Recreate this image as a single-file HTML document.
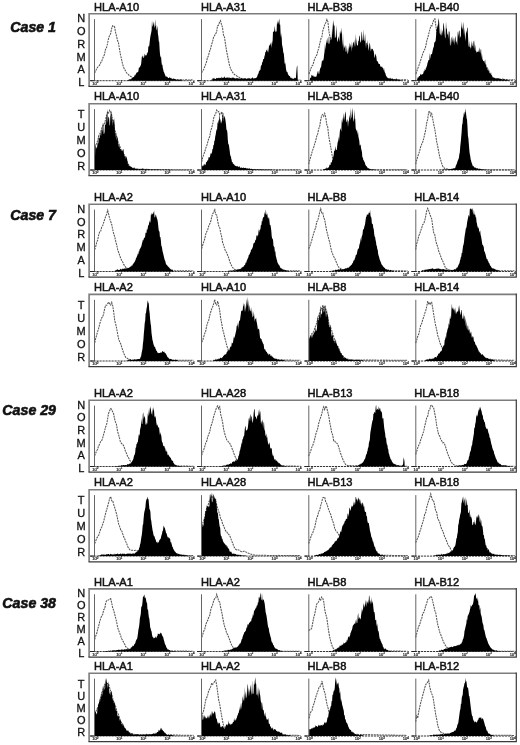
<!DOCTYPE html><html><head><meta charset="utf-8"><style>html,body{margin:0;padding:0;background:#fff;}svg{display:block;filter:grayscale(1);}</style></head><body>
<svg width="520" height="745" viewBox="0 0 520 745" font-family="&quot;Liberation Sans&quot;, sans-serif">
<rect width="520" height="745" fill="#fff"/>
<text x="56" y="31.5" text-anchor="end" font-size="14.2" font-weight="bold" font-style="italic" fill="#111" stroke="#111" stroke-width="0.6">Case 1</text>
<text x="56" y="219.6" text-anchor="end" font-size="14.2" font-weight="bold" font-style="italic" fill="#111" stroke="#111" stroke-width="0.6">Case 7</text>
<text x="56" y="415" text-anchor="end" font-size="14.2" font-weight="bold" font-style="italic" fill="#111" stroke="#111" stroke-width="0.6">Case 29</text>
<text x="56" y="608" text-anchor="end" font-size="14.2" font-weight="bold" font-style="italic" fill="#111" stroke="#111" stroke-width="0.6">Case 38</text>
<path d="M89.1,86.4V13.7H516.3" fill="none" stroke="#7c7c7c" stroke-width="1.6"/>
<path d="M88.5,86.4H516.3V12.9" fill="none" stroke="#3a3a3a" stroke-width="1.2"/>
<text x="81.2" y="22.1" text-anchor="middle" font-size="11" fill="#111" stroke="#111" stroke-width="0.3">N</text>
<text x="81.2" y="34.9" text-anchor="middle" font-size="11" fill="#111" stroke="#111" stroke-width="0.3">O</text>
<text x="81.2" y="47.7" text-anchor="middle" font-size="11" fill="#111" stroke="#111" stroke-width="0.3">R</text>
<text x="81.2" y="60.5" text-anchor="middle" font-size="11" fill="#111" stroke="#111" stroke-width="0.3">M</text>
<text x="81.2" y="73.3" text-anchor="middle" font-size="11" fill="#111" stroke="#111" stroke-width="0.3">A</text>
<text x="81.2" y="86.1" text-anchor="middle" font-size="11" fill="#111" stroke="#111" stroke-width="0.3">L</text>
<text x="94.1" y="10.6" font-size="11.1" fill="#111" stroke="#111" stroke-width="0.5">HLA-A10</text>
<line x1="90.5" y1="80.7" x2="191.5" y2="80.7" stroke="#222" stroke-width="0.9" stroke-dasharray="2.2,0.8"/>
<path d="M94.5,73.0L95.5,71.5L96.5,68.9L97.5,67.5L98.5,66.2L99.5,65.4L100.5,63.0L101.5,61.7L102.5,58.9L103.5,56.4L104.5,54.6L105.5,49.2L106.5,47.8L107.5,43.7L108.5,38.8L109.5,35.4L110.5,34.1L111.5,29.1L112.5,25.9L113.5,26.5L114.5,26.4L115.5,32.0L116.5,36.1L117.5,40.3L118.5,43.0L119.5,49.3L120.5,55.0L121.5,59.0L122.5,63.9L123.5,67.0L124.5,69.4L125.5,70.8L126.5,72.8L127.5,73.7L128.5,74.6L129.5,75.7L130.5,76.2L131.5,76.9L132.5,77.5L133.5,78.1L134.5,78.5L135.5,78.7L136.5,79.1L137.5,79.3L138.5,79.5L139.5,79.6L140.5,79.8L141.5,79.8L142.5,79.9L143.5,79.9L144.5,79.8L145.5,79.9L146.5,79.9L147.5,79.9L148.5,79.8L149.5,79.9L150.5,79.9L151.5,79.9L152.5,79.9L153.5,79.9L154.5,79.8L155.5,79.8L156.5,79.8L157.5,79.9L158.5,79.9L159.5,79.8L160.5,79.9L161.5,79.8L162.5,79.8L163.5,79.9L164.5,79.9L165.5,79.9L166.5,79.8L167.5,79.9L168.5,79.8L169.5,79.8L170.5,79.9L171.5,79.9L172.5,79.8L173.5,79.8L174.5,79.8L175.5,79.9L176.5,79.9L177.5,79.8L178.5,79.9L179.5,79.9L180.5,79.9L181.5,79.8L182.5,79.9L183.5,79.9L184.5,79.9L185.5,79.8L186.5,79.8L187.5,79.9L188.5,79.9L189.5,79.9L190.5,79.8L191.5,79.8L192.5,79.9L193.5,79.8" fill="none" stroke="#555" stroke-width="1.05" stroke-dasharray="2,0.8"/>
<path d="M127.7,80.7L127.7,79.9L128.2,79.9L128.6,79.8L129.1,79.5L129.5,79.4L130.0,78.9L130.4,79.4L130.9,79.0L131.3,79.2L131.8,77.8L132.2,78.1L132.7,78.1L133.1,76.9L133.6,77.2L134.0,76.7L134.5,76.1L134.9,74.5L135.4,75.6L135.8,74.0L136.3,73.3L136.7,72.5L137.2,72.4L137.6,72.1L138.1,72.3L138.5,70.2L139.0,67.0L139.4,67.3L139.9,68.0L140.3,65.8L140.8,65.5L141.2,63.4L141.7,58.3L142.1,55.1L142.6,57.6L143.0,55.5L143.5,58.0L143.9,58.1L144.4,55.6L144.8,53.4L145.3,55.6L145.7,55.6L146.2,54.9L146.6,55.8L147.1,51.7L147.5,53.7L148.0,51.7L148.4,45.6L148.9,47.0L149.3,45.5L149.8,40.9L150.2,37.4L150.7,34.7L151.1,33.1L151.6,30.2L152.0,20.3L152.5,26.6L152.9,26.3L153.4,21.3L153.8,23.9L154.3,28.3L154.7,25.6L155.2,19.3L155.6,26.5L156.1,24.9L156.5,30.5L157.0,28.7L157.4,25.6L157.9,34.0L158.3,35.8L158.8,41.4L159.2,41.8L159.7,50.4L160.1,55.0L160.6,57.7L161.0,56.1L161.5,62.1L161.9,65.1L162.4,64.4L162.8,68.0L163.3,69.9L163.7,71.7L164.2,72.6L164.6,73.8L165.1,75.0L165.5,76.1L166.0,77.0L166.4,76.0L166.9,77.1L167.3,76.8L167.8,77.5L168.2,78.1L168.7,78.0L169.1,77.9L169.6,76.7L170.0,78.0L170.5,78.3L170.9,77.5L171.4,77.9L171.8,79.0L172.3,79.2L172.7,78.7L173.2,78.5L173.6,78.4L174.1,78.9L174.5,78.8L175.0,79.0L175.4,79.4L175.9,79.0L176.3,79.8L176.8,79.8L177.2,79.8L177.7,79.2L178.1,79.8L178.6,79.5L179.0,80.0L179.5,79.3L179.9,80.2L180.4,79.4L180.8,79.5L181.3,78.9L181.7,80.4L181.8,80.7Z" fill="#000"/>
<line x1="94.5" y1="19.1" x2="94.5" y2="80.7" stroke="#666" stroke-width="1"/>
<line x1="90.0" y1="80.7" x2="94.5" y2="80.7" stroke="#222" stroke-width="1"/>
<text x="95.3" y="84.8" text-anchor="middle" font-size="4" fill="#222" stroke="#222" stroke-width="0.2">10<tspan dy="-1.4" font-size="2.8">0</tspan></text>
<text x="119.3" y="84.8" text-anchor="middle" font-size="4" fill="#222" stroke="#222" stroke-width="0.2">10<tspan dy="-1.4" font-size="2.8">1</tspan></text>
<text x="143.4" y="84.8" text-anchor="middle" font-size="4" fill="#222" stroke="#222" stroke-width="0.2">10<tspan dy="-1.4" font-size="2.8">2</tspan></text>
<text x="167.4" y="84.8" text-anchor="middle" font-size="4" fill="#222" stroke="#222" stroke-width="0.2">10<tspan dy="-1.4" font-size="2.8">3</tspan></text>
<text x="191.5" y="84.8" text-anchor="middle" font-size="4" fill="#222" stroke="#222" stroke-width="0.2">10<tspan dy="-1.4" font-size="2.8">4</tspan></text>
<text x="201.1" y="10.6" font-size="11.1" fill="#111" stroke="#111" stroke-width="0.5">HLA-A31</text>
<line x1="197.5" y1="80.7" x2="298.5" y2="80.7" stroke="#222" stroke-width="0.9" stroke-dasharray="2.2,0.8"/>
<path d="M201.5,73.0L202.5,71.1L203.5,69.7L204.5,67.3L205.5,64.7L206.5,61.8L207.5,57.5L208.5,55.7L209.5,51.6L210.5,49.1L211.5,44.8L212.5,41.9L213.5,37.4L214.5,36.1L215.5,33.3L216.5,32.8L217.5,26.0L218.5,25.1L219.5,22.3L220.5,20.7L221.5,24.7L222.5,27.4L223.5,35.1L224.5,37.2L225.5,44.2L226.5,50.5L227.5,55.5L228.5,60.6L229.5,65.4L230.5,68.3L231.5,70.7L232.5,72.1L233.5,73.7L234.5,74.5L235.5,75.4L236.5,75.8L237.5,76.6L238.5,76.9L239.5,77.5L240.5,78.0L241.5,78.5L242.5,78.8L243.5,78.9L244.5,79.2L245.5,79.3L246.5,79.5L247.5,79.7L248.5,79.9L249.5,79.9L250.5,79.9L251.5,79.9L252.5,79.9L253.5,79.8L254.5,79.9L255.5,79.9L256.5,79.8L257.5,79.9L258.5,79.9L259.5,79.8L260.5,79.8L261.5,79.9L262.5,79.9L263.5,79.8L264.5,79.8L265.5,79.9L266.5,79.9L267.5,79.9L268.5,79.9L269.5,79.8L270.5,79.9L271.5,79.9L272.5,79.8L273.5,79.8L274.5,79.8L275.5,79.8L276.5,79.9L277.5,79.8L278.5,79.8L279.5,79.9L280.5,79.9L281.5,79.9L282.5,79.9L283.5,79.9L284.5,79.9L285.5,79.8L286.5,79.9L287.5,79.9L288.5,79.8L289.5,79.8L290.5,79.8L291.5,79.9L292.5,79.8L293.5,79.9L294.5,79.9L295.5,79.8L296.5,79.9L297.5,79.9L298.5,79.9L299.5,79.9L300.5,79.9" fill="none" stroke="#555" stroke-width="1.05" stroke-dasharray="2,0.8"/>
<path d="M211.3,80.7L211.3,79.5L211.8,79.7L212.2,79.7L212.7,78.2L213.1,77.9L213.6,78.9L214.0,77.4L214.5,79.1L214.9,78.5L215.4,78.9L215.8,79.0L216.3,78.2L216.7,77.7L217.2,78.2L217.6,78.1L218.1,78.3L218.5,77.6L219.0,78.5L219.4,78.0L219.9,77.8L220.3,78.1L220.8,77.7L221.2,78.4L221.7,76.4L222.1,78.0L222.6,77.6L223.0,77.9L223.5,77.7L223.9,77.2L224.4,76.3L224.8,77.4L225.3,78.1L225.7,77.8L226.2,77.7L226.6,77.4L227.1,78.0L227.5,77.6L228.0,77.0L228.4,77.4L228.9,78.4L229.3,77.0L229.8,78.2L230.2,78.0L230.7,77.7L231.1,78.3L231.6,78.2L232.0,76.9L232.5,78.2L232.9,77.3L233.4,77.9L233.8,77.5L234.3,78.1L234.7,78.3L235.2,78.7L235.6,78.2L236.1,77.9L236.5,78.6L237.0,77.8L237.4,78.6L237.9,77.9L238.3,78.6L238.8,78.4L239.2,78.5L239.7,78.6L240.1,78.8L240.6,78.1L241.0,78.9L241.5,78.0L241.9,78.2L242.4,78.6L242.8,79.1L243.3,78.5L243.7,78.6L244.2,78.4L244.6,78.1L245.1,79.0L245.5,77.7L246.0,78.6L246.4,78.7L246.9,79.1L247.3,78.2L247.8,78.5L248.2,78.7L248.7,77.8L249.1,78.5L249.6,78.3L250.0,77.8L250.5,79.0L250.9,78.7L251.4,77.7L251.8,78.9L252.3,77.1L252.7,77.7L253.2,78.2L253.6,78.5L254.1,78.7L254.5,78.1L255.0,78.0L255.4,78.3L255.9,77.9L256.3,77.5L256.8,77.5L257.2,76.4L257.7,74.8L258.1,74.0L258.6,73.2L259.0,70.9L259.5,71.3L259.9,69.5L260.4,70.2L260.8,66.5L261.3,64.8L261.7,65.7L262.2,61.6L262.6,62.7L263.1,59.6L263.5,58.9L264.0,59.0L264.4,56.4L264.9,55.1L265.3,51.9L265.8,52.2L266.2,49.5L266.7,50.3L267.1,51.4L267.6,51.5L268.0,47.7L268.5,53.2L268.9,46.6L269.4,45.5L269.8,44.8L270.3,44.6L270.7,42.3L271.2,48.1L271.6,43.9L272.1,40.6L272.5,44.3L273.0,31.3L273.4,32.0L273.9,31.4L274.3,30.6L274.8,25.6L275.2,30.5L275.7,32.3L276.1,31.7L276.6,30.9L277.0,22.1L277.5,24.6L277.9,20.2L278.4,24.1L278.8,20.9L279.3,18.5L279.7,24.7L280.2,24.6L280.6,33.8L281.1,37.9L281.5,32.5L282.0,44.2L282.4,46.2L282.9,48.8L283.3,52.6L283.8,53.6L284.2,58.1L284.7,64.3L285.1,62.6L285.6,65.0L286.0,68.7L286.5,71.4L286.9,71.8L287.4,72.1L287.8,73.5L288.3,74.7L288.7,75.3L289.2,76.1L289.6,75.9L290.1,76.5L290.5,77.9L291.0,77.6L291.4,77.8L291.9,78.4L292.3,78.4L292.8,78.6L293.2,78.5L293.7,78.9L294.1,78.6L294.6,77.5L295.0,78.5L295.5,77.7L295.9,78.1L296.4,71.0L296.8,67.1L297.3,65.2L297.7,78.1L297.7,80.7Z" fill="#000"/>
<line x1="201.5" y1="19.1" x2="201.5" y2="80.7" stroke="#666" stroke-width="1"/>
<line x1="197.0" y1="80.7" x2="201.5" y2="80.7" stroke="#222" stroke-width="1"/>
<text x="202.3" y="84.8" text-anchor="middle" font-size="4" fill="#222" stroke="#222" stroke-width="0.2">10<tspan dy="-1.4" font-size="2.8">0</tspan></text>
<text x="226.4" y="84.8" text-anchor="middle" font-size="4" fill="#222" stroke="#222" stroke-width="0.2">10<tspan dy="-1.4" font-size="2.8">1</tspan></text>
<text x="250.4" y="84.8" text-anchor="middle" font-size="4" fill="#222" stroke="#222" stroke-width="0.2">10<tspan dy="-1.4" font-size="2.8">2</tspan></text>
<text x="274.5" y="84.8" text-anchor="middle" font-size="4" fill="#222" stroke="#222" stroke-width="0.2">10<tspan dy="-1.4" font-size="2.8">3</tspan></text>
<text x="298.5" y="84.8" text-anchor="middle" font-size="4" fill="#222" stroke="#222" stroke-width="0.2">10<tspan dy="-1.4" font-size="2.8">4</tspan></text>
<text x="307.5" y="10.6" font-size="11.1" fill="#111" stroke="#111" stroke-width="0.5">HLA-B38</text>
<line x1="304.8" y1="80.7" x2="405.8" y2="80.7" stroke="#222" stroke-width="0.9" stroke-dasharray="2.2,0.8"/>
<path d="M308.9,74.0L309.9,71.7L310.9,68.4L311.9,66.1L312.9,65.0L313.9,61.2L314.9,58.3L315.9,56.7L316.9,54.7L317.9,50.8L318.9,47.5L319.9,43.0L320.9,38.8L321.9,36.8L322.9,30.3L323.9,27.4L324.9,24.4L325.9,22.5L326.9,19.5L327.9,21.7L328.9,31.2L329.9,36.3L330.9,40.8L331.9,47.5L332.9,56.9L333.9,61.3L334.9,66.7L335.9,69.6L336.9,72.4L337.9,74.2L338.9,75.3L339.9,75.9L340.9,76.9L341.9,77.5L342.9,78.3L343.9,78.6L344.9,78.9L345.9,79.1L346.9,79.3L347.9,79.6L348.9,79.9L349.9,79.9L350.9,79.8L351.9,79.9L352.9,79.8L353.9,79.8L354.9,79.9L355.9,79.8L356.9,79.9L357.9,79.9L358.9,79.9L359.9,79.9L360.9,79.8L361.9,79.9L362.9,79.9L363.9,79.8L364.9,79.9L365.9,79.9L366.9,79.9L367.9,79.9L368.9,79.9L369.9,79.8L370.9,79.8L371.9,79.9L372.9,79.9L373.9,79.9L374.9,79.9L375.9,79.8L376.9,79.9L377.9,79.8L378.9,79.9L379.9,79.8L380.9,79.9L381.9,79.9L382.9,79.9L383.9,79.9L384.9,79.8L385.9,79.9L386.9,79.8L387.9,79.9L388.9,79.9L389.9,79.8L390.9,79.9L391.9,79.8L392.9,79.9L393.9,79.9L394.9,79.9L395.9,79.9L396.9,79.8L397.9,79.8L398.9,79.8L399.9,79.9L400.9,79.9L401.9,79.8L402.9,79.8L403.9,79.9L404.9,79.8L405.9,79.8L406.9,79.9L407.9,79.9" fill="none" stroke="#555" stroke-width="1.05" stroke-dasharray="2,0.8"/>
<path d="M309.7,80.7L309.7,80.2L310.2,77.6L310.6,77.9L311.1,77.5L311.5,75.0L312.0,74.8L312.4,76.1L312.9,75.6L313.3,75.6L313.8,77.1L314.2,76.2L314.7,76.9L315.1,76.3L315.6,76.9L316.0,77.0L316.5,76.2L316.9,74.5L317.4,72.7L317.8,71.3L318.3,71.3L318.7,73.9L319.2,73.7L319.6,70.8L320.1,69.1L320.5,67.2L321.0,67.8L321.4,64.4L321.9,61.1L322.3,59.9L322.8,61.2L323.2,60.6L323.7,58.4L324.1,54.8L324.6,50.9L325.0,43.0L325.5,50.0L325.9,45.5L326.4,39.0L326.8,42.9L327.3,42.8L327.7,38.9L328.2,36.0L328.6,43.5L329.1,44.2L329.5,42.5L330.0,36.0L330.4,38.6L330.9,40.8L331.3,38.9L331.8,37.1L332.2,22.1L332.7,35.4L333.1,25.3L333.6,19.7L334.0,26.3L334.5,24.7L334.9,38.2L335.4,37.4L335.8,36.2L336.3,25.0L336.7,33.2L337.2,41.6L337.6,41.8L338.1,39.0L338.5,36.0L339.0,39.1L339.4,41.9L339.9,31.7L340.3,34.3L340.8,30.5L341.2,33.3L341.7,27.2L342.1,39.7L342.6,47.0L343.0,32.6L343.5,51.0L343.9,44.1L344.4,47.6L344.8,47.7L345.3,44.7L345.7,51.5L346.2,52.1L346.6,45.3L347.1,54.3L347.5,53.3L348.0,47.7L348.4,52.9L348.9,46.0L349.3,48.1L349.8,42.4L350.2,45.1L350.7,47.8L351.1,41.6L351.6,52.0L352.0,44.7L352.5,48.6L352.9,43.4L353.4,41.6L353.8,43.0L354.3,47.0L354.7,39.3L355.2,47.5L355.6,33.6L356.1,45.0L356.5,37.4L357.0,45.6L357.4,45.1L357.9,46.0L358.3,40.8L358.8,40.9L359.2,35.4L359.7,36.1L360.1,40.5L360.6,42.7L361.0,42.1L361.5,32.9L361.9,31.2L362.4,41.2L362.8,39.8L363.3,29.3L363.7,39.1L364.2,41.6L364.6,39.6L365.1,33.5L365.5,41.0L366.0,48.5L366.4,43.0L366.9,42.8L367.3,45.4L367.8,39.8L368.2,47.1L368.7,51.1L369.1,47.3L369.6,42.5L370.0,43.7L370.5,48.7L370.9,51.8L371.4,48.3L371.8,49.2L372.3,48.8L372.7,49.1L373.2,50.4L373.6,50.7L374.1,54.0L374.5,58.2L375.0,56.2L375.4,53.5L375.9,55.0L376.3,56.4L376.8,60.7L377.2,61.2L377.7,61.3L378.1,62.2L378.6,63.8L379.0,64.2L379.5,64.0L379.9,63.9L380.4,66.9L380.8,66.3L381.3,66.5L381.7,67.2L382.2,66.4L382.6,68.1L383.1,68.3L383.5,70.7L384.0,67.6L384.4,71.1L384.9,72.4L385.3,73.1L385.8,74.9L386.2,76.0L386.7,76.6L387.1,78.2L387.6,77.3L388.0,77.6L388.5,78.7L388.9,78.0L389.4,78.6L389.8,78.2L390.3,78.8L390.7,77.4L391.2,79.0L391.6,78.6L392.1,78.9L392.5,78.3L393.0,78.7L393.4,79.3L393.9,79.2L394.3,78.8L394.8,79.7L395.2,78.7L395.7,79.8L396.1,78.2L396.6,78.7L397.0,79.8L397.5,79.6L397.9,79.6L398.4,79.5L398.8,79.6L399.3,79.8L399.7,79.8L400.2,80.0L400.6,79.5L400.9,80.7Z" fill="#000"/>
<line x1="308.8" y1="19.1" x2="308.8" y2="80.7" stroke="#666" stroke-width="1"/>
<line x1="304.3" y1="80.7" x2="308.8" y2="80.7" stroke="#222" stroke-width="1"/>
<text x="309.6" y="84.8" text-anchor="middle" font-size="4" fill="#222" stroke="#222" stroke-width="0.2">10<tspan dy="-1.4" font-size="2.8">0</tspan></text>
<text x="333.7" y="84.8" text-anchor="middle" font-size="4" fill="#222" stroke="#222" stroke-width="0.2">10<tspan dy="-1.4" font-size="2.8">1</tspan></text>
<text x="357.7" y="84.8" text-anchor="middle" font-size="4" fill="#222" stroke="#222" stroke-width="0.2">10<tspan dy="-1.4" font-size="2.8">2</tspan></text>
<text x="381.8" y="84.8" text-anchor="middle" font-size="4" fill="#222" stroke="#222" stroke-width="0.2">10<tspan dy="-1.4" font-size="2.8">3</tspan></text>
<text x="405.8" y="84.8" text-anchor="middle" font-size="4" fill="#222" stroke="#222" stroke-width="0.2">10<tspan dy="-1.4" font-size="2.8">4</tspan></text>
<text x="414.2" y="10.6" font-size="11.1" fill="#111" stroke="#111" stroke-width="0.5">HLA-B40</text>
<line x1="411.8" y1="80.7" x2="512.8" y2="80.7" stroke="#222" stroke-width="0.9" stroke-dasharray="2.2,0.8"/>
<path d="M415.9,74.1L416.9,71.0L417.9,68.1L418.9,65.6L419.9,62.6L420.9,59.5L421.9,56.5L422.9,53.3L423.9,50.9L424.9,49.0L425.9,45.6L426.9,40.2L427.9,37.4L428.9,33.2L429.9,29.2L430.9,25.9L431.9,26.0L432.9,22.3L433.9,19.4L434.9,18.9L435.9,26.4L436.9,32.7L437.9,41.2L438.9,49.2L439.9,55.5L440.9,60.3L441.9,66.4L442.9,70.7L443.9,71.8L444.9,73.8L445.9,75.0L446.9,76.6L447.9,77.9L448.9,78.1L449.9,78.5L450.9,78.9L451.9,79.2L452.9,79.5L453.9,79.9L454.9,79.8L455.9,79.9L456.9,79.8L457.9,79.8L458.9,79.9L459.9,79.9L460.9,79.9L461.9,79.9L462.9,79.8L463.9,79.9L464.9,79.9L465.9,79.8L466.9,79.8L467.9,79.8L468.9,79.9L469.9,79.8L470.9,79.9L471.9,79.8L472.9,79.9L473.9,79.8L474.9,79.8L475.9,79.9L476.9,79.9L477.9,79.8L478.9,79.9L479.9,79.8L480.9,79.9L481.9,79.9L482.9,79.9L483.9,79.9L484.9,79.8L485.9,79.9L486.9,79.9L487.9,79.9L488.9,79.8L489.9,79.8L490.9,79.8L491.9,79.9L492.9,79.9L493.9,79.9L494.9,79.9L495.9,79.9L496.9,79.9L497.9,79.8L498.9,79.8L499.9,79.9L500.9,79.9L501.9,79.9L502.9,79.9L503.9,79.8L504.9,79.8L505.9,79.8L506.9,79.8L507.9,79.8L508.9,79.9L509.9,79.8L510.9,79.8L511.9,79.8L512.9,79.8L513.9,79.8L514.9,79.8" fill="none" stroke="#555" stroke-width="1.05" stroke-dasharray="2,0.8"/>
<path d="M416.7,80.7L416.7,80.0L417.2,79.6L417.6,77.5L418.1,77.6L418.5,77.4L419.0,76.0L419.4,76.3L419.9,76.0L420.3,73.6L420.8,74.7L421.2,74.8L421.7,74.5L422.1,74.6L422.6,73.9L423.0,74.0L423.5,72.4L423.9,70.7L424.4,71.5L424.8,69.0L425.3,69.9L425.7,69.4L426.2,65.5L426.6,68.5L427.1,65.2L427.5,63.1L428.0,61.8L428.4,60.3L428.9,60.1L429.3,60.1L429.8,52.7L430.2,58.9L430.7,55.3L431.1,53.8L431.6,54.4L432.0,54.1L432.5,51.3L432.9,49.6L433.4,47.6L433.8,47.1L434.3,42.2L434.7,42.6L435.2,41.5L435.6,41.0L436.1,35.4L436.5,30.5L437.0,28.0L437.4,24.0L437.9,27.9L438.3,20.8L438.8,18.0L439.2,23.1L439.7,33.3L440.1,34.1L440.6,35.6L441.0,27.7L441.5,36.5L441.9,33.2L442.4,29.6L442.8,35.2L443.3,23.0L443.7,23.6L444.2,27.9L444.6,33.0L445.1,38.6L445.5,37.5L446.0,21.1L446.4,28.5L446.9,28.7L447.3,35.1L447.8,34.0L448.2,30.5L448.7,39.1L449.1,32.5L449.6,30.7L450.0,45.2L450.5,45.5L450.9,39.0L451.4,36.5L451.8,44.7L452.3,35.5L452.7,42.5L453.2,37.0L453.6,43.4L454.1,37.8L454.5,45.6L455.0,37.9L455.4,35.7L455.9,42.3L456.3,40.9L456.8,43.1L457.2,45.3L457.7,32.4L458.1,31.1L458.6,36.9L459.0,31.5L459.5,30.1L459.9,38.4L460.4,36.5L460.8,36.6L461.3,20.9L461.7,27.3L462.2,28.1L462.6,30.0L463.1,21.8L463.5,25.7L464.0,35.4L464.4,27.4L464.9,35.7L465.3,41.2L465.8,35.4L466.2,30.6L466.7,33.5L467.1,27.7L467.6,27.8L468.0,35.8L468.5,45.2L468.9,46.8L469.4,47.1L469.8,40.5L470.3,49.2L470.7,47.3L471.2,47.8L471.6,40.3L472.1,46.5L472.5,45.7L473.0,42.0L473.4,40.5L473.9,48.8L474.3,39.7L474.8,50.0L475.2,44.6L475.7,51.1L476.1,50.6L476.6,53.0L477.0,51.8L477.5,52.0L477.9,51.4L478.4,52.0L478.8,50.3L479.3,47.2L479.7,51.6L480.2,53.4L480.6,49.8L481.1,49.0L481.5,58.1L482.0,53.5L482.4,59.1L482.9,59.9L483.3,61.2L483.8,60.9L484.2,60.5L484.7,63.6L485.1,59.1L485.6,65.1L486.0,63.4L486.5,66.9L486.9,67.8L487.4,66.7L487.8,70.5L488.3,68.6L488.7,71.6L489.2,70.0L489.6,73.3L490.1,72.9L490.5,74.2L491.0,71.8L491.4,75.2L491.9,75.1L492.3,76.3L492.8,77.4L493.2,77.1L493.7,77.8L494.1,78.1L494.6,77.7L495.0,77.8L495.5,78.3L495.9,78.7L496.4,78.0L496.8,78.5L497.3,77.9L497.7,78.4L498.2,77.9L498.6,78.4L499.1,78.4L499.5,78.6L500.0,78.7L500.4,78.7L500.9,78.8L501.3,79.3L501.8,79.3L502.2,78.0L502.7,79.7L503.1,79.7L503.6,78.8L504.0,78.6L504.5,79.7L504.9,79.2L505.4,79.7L505.8,79.7L506.3,79.6L506.7,79.6L507.2,80.0L507.6,79.5L508.1,79.7L508.5,80.3L508.9,80.7Z" fill="#000"/>
<line x1="415.8" y1="19.1" x2="415.8" y2="80.7" stroke="#666" stroke-width="1"/>
<line x1="411.3" y1="80.7" x2="415.8" y2="80.7" stroke="#222" stroke-width="1"/>
<text x="416.6" y="84.8" text-anchor="middle" font-size="4" fill="#222" stroke="#222" stroke-width="0.2">10<tspan dy="-1.4" font-size="2.8">0</tspan></text>
<text x="440.7" y="84.8" text-anchor="middle" font-size="4" fill="#222" stroke="#222" stroke-width="0.2">10<tspan dy="-1.4" font-size="2.8">1</tspan></text>
<text x="464.7" y="84.8" text-anchor="middle" font-size="4" fill="#222" stroke="#222" stroke-width="0.2">10<tspan dy="-1.4" font-size="2.8">2</tspan></text>
<text x="488.8" y="84.8" text-anchor="middle" font-size="4" fill="#222" stroke="#222" stroke-width="0.2">10<tspan dy="-1.4" font-size="2.8">3</tspan></text>
<text x="512.8" y="84.8" text-anchor="middle" font-size="4" fill="#222" stroke="#222" stroke-width="0.2">10<tspan dy="-1.4" font-size="2.8">4</tspan></text>
<path d="M89.1,175.7V103.7H516.3" fill="none" stroke="#7c7c7c" stroke-width="1.6"/>
<path d="M88.5,175.7H516.3V102.9" fill="none" stroke="#3a3a3a" stroke-width="1.2"/>
<text x="81.2" y="118.1" text-anchor="middle" font-size="11" fill="#111" stroke="#111" stroke-width="0.3">T</text>
<text x="81.2" y="131.0" text-anchor="middle" font-size="11" fill="#111" stroke="#111" stroke-width="0.3">U</text>
<text x="81.2" y="143.9" text-anchor="middle" font-size="11" fill="#111" stroke="#111" stroke-width="0.3">M</text>
<text x="81.2" y="156.9" text-anchor="middle" font-size="11" fill="#111" stroke="#111" stroke-width="0.3">O</text>
<text x="81.2" y="169.8" text-anchor="middle" font-size="11" fill="#111" stroke="#111" stroke-width="0.3">R</text>
<text x="94.1" y="99.8" font-size="11.1" fill="#111" stroke="#111" stroke-width="0.5">HLA-A10</text>
<line x1="90.5" y1="170.0" x2="191.5" y2="170.0" stroke="#222" stroke-width="0.9" stroke-dasharray="2.2,0.8"/>
<path d="M94.7,147.4L95.7,144.8L96.7,143.6L97.7,140.2L98.7,136.5L99.7,133.9L100.7,132.2L101.7,128.6L102.7,125.9L103.7,125.1L104.7,122.6L105.7,119.2L106.7,114.7L107.7,111.5L108.7,113.1L109.7,110.2L110.7,111.9L111.7,114.8L112.7,120.5L113.7,126.9L114.7,130.0L115.7,132.4L116.7,138.2L117.7,140.3L118.7,144.2L119.7,145.9L120.7,148.9L121.7,150.6L122.7,152.4L123.7,154.0L124.7,155.4L125.7,157.8L126.7,160.1L127.7,163.2L128.7,164.7L129.7,166.2L130.7,167.8L131.7,168.0L132.7,168.3L133.7,168.5L134.7,168.7L135.7,169.0L136.7,169.2L137.7,169.2L138.7,169.3L139.7,169.3L140.7,169.3L141.7,169.3L142.7,169.3L143.7,169.3L144.7,169.3L145.7,169.4L146.7,169.3L147.7,169.3L148.7,169.4L149.7,169.4L150.7,169.4L151.7,169.4L152.7,169.4L153.7,169.4L154.7,169.4L155.7,169.4L156.7,169.4L157.7,169.5L158.7,169.5L159.7,169.5L160.7,169.5L161.7,169.5L162.7,169.5L163.7,169.5L164.7,169.5L165.7,169.6L166.7,169.6L167.7,169.6L168.7,169.6L169.7,169.6L170.7,169.6L171.7,169.6L172.7,169.6L173.7,169.7L174.7,169.7L175.7,169.7L176.7,169.7L177.7,169.7L178.7,169.7L179.7,169.7L180.7,169.7L181.7,169.7L182.7,169.7L183.7,169.7L184.7,169.8L185.7,169.8L186.7,169.8L187.7,169.8L188.7,169.8L189.7,169.8L190.7,169.8L191.7,169.8L192.7,169.8L193.7,169.9" fill="none" stroke="#555" stroke-width="1.05" stroke-dasharray="2,0.8"/>
<path d="M94.7,170.0L94.7,169.9L95.2,148.4L95.6,144.2L96.1,149.0L96.5,147.0L97.0,148.1L97.4,144.4L97.9,141.9L98.3,143.8L98.8,133.9L99.2,138.6L99.7,138.0L100.1,135.2L100.6,132.1L101.0,136.5L101.5,130.5L101.9,128.7L102.4,131.9L102.8,123.3L103.3,123.5L103.7,134.1L104.2,133.7L104.6,131.8L105.1,120.8L105.5,124.9L106.0,124.7L106.4,117.0L106.9,115.3L107.3,108.7L107.8,123.1L108.2,117.9L108.7,116.6L109.1,117.8L109.6,125.8L110.0,125.0L110.5,111.3L110.9,116.4L111.4,109.9L111.8,118.2L112.3,125.9L112.7,118.9L113.2,119.6L113.6,120.1L114.1,124.7L114.5,117.1L115.0,134.1L115.4,131.5L115.9,137.2L116.3,140.5L116.8,133.7L117.2,136.7L117.7,138.3L118.1,143.4L118.6,146.9L119.0,142.5L119.5,146.9L119.9,147.8L120.4,149.6L120.8,149.0L121.3,150.6L121.7,150.9L122.2,149.4L122.6,151.7L123.1,148.9L123.5,149.6L124.0,154.4L124.4,155.6L124.9,156.8L125.3,157.3L125.8,158.8L126.2,156.1L126.7,158.1L127.1,159.2L127.6,162.8L128.0,164.1L128.5,164.5L128.9,165.9L129.4,165.6L129.8,166.5L130.3,166.8L130.7,166.6L131.2,166.7L131.6,167.0L132.1,167.7L132.5,168.3L133.0,168.1L133.4,167.6L133.9,168.8L134.3,167.1L134.8,168.7L135.2,168.9L135.7,168.9L136.1,169.0L136.6,168.5L137.0,168.6L137.5,168.8L137.9,169.3L138.4,169.4L138.8,169.2L139.3,168.9L139.7,168.8L140.2,169.5L140.6,169.3L141.1,169.0L141.5,169.3L142.0,168.8L142.4,168.9L142.9,168.1L143.3,169.1L143.8,169.6L144.2,169.4L144.7,169.2L145.1,169.2L145.6,169.3L146.0,169.3L146.5,169.3L146.9,169.3L147.4,169.3L147.8,169.3L148.3,169.3L148.7,169.3L149.2,169.4L149.6,169.4L150.1,169.4L150.5,169.4L151.0,169.4L151.4,169.4L151.9,169.4L152.3,169.5L152.8,169.5L153.2,169.5L153.7,169.5L154.1,169.5L154.6,169.5L155.0,169.5L155.5,169.5L155.9,169.6L156.4,169.6L156.8,169.6L157.3,169.6L157.7,169.6L158.2,169.6L158.6,169.6L159.1,169.6L159.5,169.7L160.0,169.7L160.4,169.7L160.9,169.7L161.3,169.7L161.8,169.7L162.2,169.7L162.7,169.7L163.1,169.7L163.6,169.7L164.0,169.7L164.5,169.8L164.9,169.8L165.4,169.8L165.8,169.8L166.3,169.8L166.7,169.8L167.2,169.8L167.6,169.8L168.1,169.8L168.5,169.8L169.0,169.8L169.4,169.9L169.5,170.0Z" fill="#000"/>
<line x1="94.5" y1="109.1" x2="94.5" y2="170.0" stroke="#666" stroke-width="1"/>
<line x1="90.0" y1="170.0" x2="94.5" y2="170.0" stroke="#222" stroke-width="1"/>
<text x="95.3" y="174.1" text-anchor="middle" font-size="4" fill="#222" stroke="#222" stroke-width="0.2">10<tspan dy="-1.4" font-size="2.8">0</tspan></text>
<text x="119.3" y="174.1" text-anchor="middle" font-size="4" fill="#222" stroke="#222" stroke-width="0.2">10<tspan dy="-1.4" font-size="2.8">1</tspan></text>
<text x="143.4" y="174.1" text-anchor="middle" font-size="4" fill="#222" stroke="#222" stroke-width="0.2">10<tspan dy="-1.4" font-size="2.8">2</tspan></text>
<text x="167.4" y="174.1" text-anchor="middle" font-size="4" fill="#222" stroke="#222" stroke-width="0.2">10<tspan dy="-1.4" font-size="2.8">3</tspan></text>
<text x="191.5" y="174.1" text-anchor="middle" font-size="4" fill="#222" stroke="#222" stroke-width="0.2">10<tspan dy="-1.4" font-size="2.8">4</tspan></text>
<text x="201.1" y="99.8" font-size="11.1" fill="#111" stroke="#111" stroke-width="0.5">HLA-A31</text>
<line x1="197.5" y1="170.0" x2="298.5" y2="170.0" stroke="#222" stroke-width="0.9" stroke-dasharray="2.2,0.8"/>
<path d="M201.7,162.0L202.7,157.5L203.7,154.6L204.7,151.9L205.7,148.4L206.7,145.9L207.7,142.4L208.7,138.7L209.7,136.6L210.7,130.8L211.7,127.8L212.7,123.8L213.7,117.8L214.7,115.5L215.7,113.5L216.7,110.1L217.7,111.7L218.7,111.6L219.7,114.5L220.7,114.1L221.7,111.8L222.7,117.4L223.7,121.7L224.7,129.8L225.7,135.3L226.7,141.0L227.7,147.4L228.7,151.3L229.7,154.7L230.7,158.5L231.7,162.4L232.7,163.4L233.7,164.6L234.7,166.1L235.7,167.1L236.7,167.4L237.7,167.8L238.7,168.0L239.7,168.3L240.7,168.6L241.7,168.9L242.7,169.1L243.7,169.4L244.7,169.5L245.7,169.5L246.7,169.5L247.7,169.5L248.7,169.5L249.7,169.5L250.7,169.5L251.7,169.5L252.7,169.5L253.7,169.5L254.7,169.5L255.7,169.6L256.7,169.6L257.7,169.5L258.7,169.5L259.7,169.5L260.7,169.6L261.7,169.6L262.7,169.6L263.7,169.6L264.7,169.6L265.7,169.6L266.7,169.6L267.7,169.6L268.7,169.6L269.7,169.6L270.7,169.6L271.7,169.6L272.7,169.7L273.7,169.7L274.7,169.7L275.7,169.7L276.7,169.7L277.7,169.7L278.7,169.7L279.7,169.7L280.7,169.7L281.7,169.7L282.7,169.7L283.7,169.7L284.7,169.7L285.7,169.8L286.7,169.8L287.7,169.8L288.7,169.8L289.7,169.8L290.7,169.8L291.7,169.8L292.7,169.8L293.7,169.8L294.7,169.8L295.7,169.8L296.7,169.8L297.7,169.8L298.7,169.8L299.7,169.8L300.7,169.9" fill="none" stroke="#555" stroke-width="1.05" stroke-dasharray="2,0.8"/>
<path d="M201.7,170.0L201.7,169.9L202.2,165.7L202.6,165.8L203.1,165.5L203.5,166.0L204.0,163.8L204.4,164.0L204.9,165.4L205.3,164.9L205.8,164.1L206.2,162.1L206.7,161.9L207.1,161.3L207.6,159.8L208.0,160.9L208.5,157.4L208.9,157.2L209.4,157.2L209.8,157.6L210.3,155.1L210.7,153.1L211.2,154.1L211.6,153.3L212.1,151.7L212.5,148.7L213.0,149.1L213.4,144.4L213.9,145.4L214.3,140.9L214.8,140.6L215.2,136.8L215.7,134.6L216.1,131.7L216.6,128.7L217.0,130.7L217.5,123.2L217.9,122.3L218.4,119.3L218.8,124.2L219.3,113.2L219.7,117.2L220.2,123.8L220.6,118.4L221.1,121.1L221.5,123.7L222.0,120.4L222.4,117.1L222.9,112.0L223.3,113.3L223.8,122.6L224.2,116.5L224.7,116.2L225.1,118.0L225.6,121.3L226.0,124.6L226.5,130.6L226.9,129.4L227.4,132.7L227.8,139.6L228.3,144.9L228.7,143.5L229.2,147.2L229.6,150.1L230.1,155.0L230.5,156.2L231.0,156.7L231.4,160.6L231.9,161.7L232.3,161.9L232.8,163.4L233.2,163.8L233.7,164.3L234.1,165.8L234.6,164.7L235.0,165.4L235.5,166.0L235.9,165.9L236.4,165.9L236.8,166.7L237.3,165.7L237.7,166.4L238.2,166.4L238.6,167.4L239.1,166.1L239.5,166.5L240.0,167.5L240.4,167.7L240.9,167.9L241.3,167.4L241.8,167.6L242.2,167.9L242.7,168.1L243.1,167.4L243.6,167.6L244.0,167.9L244.5,168.1L244.9,168.0L245.4,167.7L245.8,168.1L246.3,167.9L246.7,168.7L247.2,168.5L247.6,168.2L248.1,168.5L248.5,168.8L249.0,168.5L249.4,168.4L249.9,168.3L250.3,169.0L250.8,169.3L251.2,168.7L251.7,168.7L252.1,169.2L252.6,169.3L253.0,169.3L253.5,169.3L253.9,169.3L254.4,169.3L254.8,169.4L255.3,169.4L255.7,169.4L256.2,169.4L256.6,169.4L257.1,169.4L257.5,169.5L258.0,169.5L258.4,169.5L258.9,169.5L259.3,169.5L259.8,169.6L260.2,169.6L260.7,169.6L261.1,169.6L261.6,169.6L262.0,169.6L262.5,169.7L262.9,169.7L263.4,169.7L263.8,169.7L264.3,169.7L264.7,169.7L265.2,169.7L265.6,169.7L266.1,169.7L266.5,169.7L267.0,169.7L267.4,169.8L267.9,169.8L268.3,169.8L268.8,169.8L269.2,169.8L269.7,169.8L270.1,169.8L270.6,169.8L271.0,169.8L271.5,169.8L271.9,169.8L272.4,169.9L272.5,170.0Z" fill="#000"/>
<line x1="201.5" y1="109.1" x2="201.5" y2="170.0" stroke="#666" stroke-width="1"/>
<line x1="197.0" y1="170.0" x2="201.5" y2="170.0" stroke="#222" stroke-width="1"/>
<text x="202.3" y="174.1" text-anchor="middle" font-size="4" fill="#222" stroke="#222" stroke-width="0.2">10<tspan dy="-1.4" font-size="2.8">0</tspan></text>
<text x="226.4" y="174.1" text-anchor="middle" font-size="4" fill="#222" stroke="#222" stroke-width="0.2">10<tspan dy="-1.4" font-size="2.8">1</tspan></text>
<text x="250.4" y="174.1" text-anchor="middle" font-size="4" fill="#222" stroke="#222" stroke-width="0.2">10<tspan dy="-1.4" font-size="2.8">2</tspan></text>
<text x="274.5" y="174.1" text-anchor="middle" font-size="4" fill="#222" stroke="#222" stroke-width="0.2">10<tspan dy="-1.4" font-size="2.8">3</tspan></text>
<text x="298.5" y="174.1" text-anchor="middle" font-size="4" fill="#222" stroke="#222" stroke-width="0.2">10<tspan dy="-1.4" font-size="2.8">4</tspan></text>
<text x="307.5" y="99.8" font-size="11.1" fill="#111" stroke="#111" stroke-width="0.5">HLA-B38</text>
<line x1="304.8" y1="170.0" x2="405.8" y2="170.0" stroke="#222" stroke-width="0.9" stroke-dasharray="2.2,0.8"/>
<path d="M308.7,164.2L309.7,160.2L310.7,156.7L311.7,153.4L312.7,149.9L313.7,147.4L314.7,143.8L315.7,140.6L316.7,136.4L317.7,133.9L318.7,128.9L319.7,126.3L320.7,119.9L321.7,115.5L322.7,114.5L323.7,116.3L324.7,113.5L325.7,117.0L326.7,124.2L327.7,126.8L328.7,135.9L329.7,141.7L330.7,146.8L331.7,152.9L332.7,158.9L333.7,162.3L334.7,165.4L335.7,166.2L336.7,167.3L337.7,168.2L338.7,168.4L339.7,168.8L340.7,168.9L341.7,169.2L342.7,169.4L343.7,169.5L344.7,169.5L345.7,169.5L346.7,169.5L347.7,169.5L348.7,169.5L349.7,169.5L350.7,169.5L351.7,169.5L352.7,169.5L353.7,169.5L354.7,169.5L355.7,169.5L356.7,169.5L357.7,169.5L358.7,169.6L359.7,169.6L360.7,169.6L361.7,169.6L362.7,169.6L363.7,169.6L364.7,169.6L365.7,169.6L366.7,169.6L367.7,169.6L368.7,169.6L369.7,169.6L370.7,169.6L371.7,169.6L372.7,169.6L373.7,169.6L374.7,169.6L375.7,169.7L376.7,169.7L377.7,169.7L378.7,169.7L379.7,169.7L380.7,169.7L381.7,169.7L382.7,169.7L383.7,169.7L384.7,169.7L385.7,169.7L386.7,169.7L387.7,169.7L388.7,169.7L389.7,169.7L390.7,169.7L391.7,169.8L392.7,169.8L393.7,169.8L394.7,169.8L395.7,169.8L396.7,169.8L397.7,169.8L398.7,169.8L399.7,169.8L400.7,169.8L401.7,169.8L402.7,169.8L403.7,169.8L404.7,169.8L405.7,169.8L406.7,169.9L407.7,169.9" fill="none" stroke="#555" stroke-width="1.05" stroke-dasharray="2,0.8"/>
<path d="M322.4,170.0L322.4,169.9L322.8,169.7L323.3,169.5L323.7,169.3L324.2,168.9L324.6,169.3L325.1,168.5L325.5,168.4L326.0,168.8L326.4,168.2L326.9,166.9L327.3,168.6L327.8,168.0L328.2,167.4L328.7,167.6L329.1,166.6L329.6,164.6L330.0,164.9L330.5,165.1L330.9,162.1L331.4,162.4L331.8,162.6L332.3,159.6L332.7,160.0L333.2,157.0L333.6,155.5L334.1,151.1L334.5,151.0L335.0,149.3L335.4,146.1L335.9,150.4L336.3,149.4L336.8,150.3L337.2,146.0L337.7,142.1L338.1,141.4L338.6,136.2L339.0,141.3L339.5,135.9L339.9,130.7L340.4,127.9L340.8,129.5L341.3,131.8L341.7,121.6L342.2,117.6L342.6,123.4L343.1,119.5L343.5,116.7L344.0,112.5L344.4,121.0L344.9,116.2L345.3,111.2L345.8,113.3L346.2,122.3L346.7,121.8L347.1,118.9L347.6,120.7L348.0,127.2L348.5,121.2L348.9,121.2L349.4,114.4L349.8,117.0L350.3,120.3L350.7,107.4L351.2,118.2L351.6,117.1L352.1,107.7L352.5,111.1L353.0,116.1L353.4,122.0L353.9,120.1L354.3,109.3L354.8,119.6L355.2,118.6L355.7,128.4L356.1,129.6L356.6,130.6L357.0,131.7L357.5,134.9L357.9,129.4L358.4,136.4L358.8,138.6L359.3,140.7L359.7,145.5L360.2,145.2L360.6,144.2L361.1,148.5L361.5,149.9L362.0,152.4L362.4,158.5L362.9,156.6L363.3,160.3L363.8,160.3L364.2,161.6L364.7,162.3L365.1,163.8L365.6,165.3L366.0,165.8L366.5,166.3L366.9,166.5L367.4,167.6L367.8,168.3L368.3,168.2L368.7,168.2L369.2,168.3L369.6,169.3L370.1,169.0L370.5,169.2L371.0,169.4L371.4,169.5L371.9,169.5L372.3,169.6L372.8,169.6L373.2,169.6L373.7,169.7L374.1,169.7L374.6,169.8L375.0,169.8L375.4,170.0Z" fill="#000"/>
<line x1="308.8" y1="109.1" x2="308.8" y2="170.0" stroke="#666" stroke-width="1"/>
<line x1="304.3" y1="170.0" x2="308.8" y2="170.0" stroke="#222" stroke-width="1"/>
<text x="309.6" y="174.1" text-anchor="middle" font-size="4" fill="#222" stroke="#222" stroke-width="0.2">10<tspan dy="-1.4" font-size="2.8">0</tspan></text>
<text x="333.7" y="174.1" text-anchor="middle" font-size="4" fill="#222" stroke="#222" stroke-width="0.2">10<tspan dy="-1.4" font-size="2.8">1</tspan></text>
<text x="357.7" y="174.1" text-anchor="middle" font-size="4" fill="#222" stroke="#222" stroke-width="0.2">10<tspan dy="-1.4" font-size="2.8">2</tspan></text>
<text x="381.8" y="174.1" text-anchor="middle" font-size="4" fill="#222" stroke="#222" stroke-width="0.2">10<tspan dy="-1.4" font-size="2.8">3</tspan></text>
<text x="405.8" y="174.1" text-anchor="middle" font-size="4" fill="#222" stroke="#222" stroke-width="0.2">10<tspan dy="-1.4" font-size="2.8">4</tspan></text>
<text x="414.2" y="99.8" font-size="11.1" fill="#111" stroke="#111" stroke-width="0.5">HLA-B40</text>
<line x1="411.8" y1="170.0" x2="512.8" y2="170.0" stroke="#222" stroke-width="0.9" stroke-dasharray="2.2,0.8"/>
<path d="M415.7,164.2L416.7,160.2L417.7,156.6L418.7,153.9L419.7,150.7L420.7,146.7L421.7,144.2L422.7,142.0L423.7,138.7L424.7,134.1L425.7,129.8L426.7,122.9L427.7,119.1L428.7,112.0L429.7,111.1L430.7,115.7L431.7,113.7L432.7,118.9L433.7,124.3L434.7,128.5L435.7,135.0L436.7,141.8L437.7,146.3L438.7,151.7L439.7,156.9L440.7,160.1L441.7,163.3L442.7,166.2L443.7,167.4L444.7,168.6L445.7,168.8L446.7,169.0L447.7,169.1L448.7,169.3L449.7,169.4L450.7,169.5L451.7,169.4L452.7,169.5L453.7,169.5L454.7,169.5L455.7,169.5L456.7,169.5L457.7,169.5L458.7,169.5L459.7,169.5L460.7,169.5L461.7,169.5L462.7,169.5L463.7,169.5L464.7,169.5L465.7,169.6L466.7,169.5L467.7,169.6L468.7,169.6L469.7,169.6L470.7,169.6L471.7,169.6L472.7,169.6L473.7,169.6L474.7,169.6L475.7,169.6L476.7,169.6L477.7,169.6L478.7,169.6L479.7,169.6L480.7,169.6L481.7,169.6L482.7,169.6L483.7,169.7L484.7,169.7L485.7,169.7L486.7,169.7L487.7,169.7L488.7,169.7L489.7,169.7L490.7,169.7L491.7,169.7L492.7,169.7L493.7,169.7L494.7,169.7L495.7,169.7L496.7,169.7L497.7,169.7L498.7,169.8L499.7,169.8L500.7,169.8L501.7,169.8L502.7,169.8L503.7,169.8L504.7,169.8L505.7,169.8L506.7,169.8L507.7,169.8L508.7,169.8L509.7,169.8L510.7,169.8L511.7,169.8L512.7,169.8L513.7,169.8L514.7,169.9" fill="none" stroke="#555" stroke-width="1.05" stroke-dasharray="2,0.8"/>
<path d="M439.6,170.0L439.6,169.9L440.0,169.8L440.5,169.8L440.9,169.8L441.4,169.7L441.8,169.7L442.3,169.7L442.7,169.7L443.2,169.6L443.6,169.6L444.1,169.6L444.5,169.6L445.0,169.5L445.4,169.5L445.9,169.5L446.3,169.5L446.8,169.4L447.2,169.4L447.7,169.4L448.1,169.3L448.6,169.3L449.0,169.3L449.5,169.3L449.9,169.2L450.4,168.9L450.8,169.3L451.3,168.8L451.7,169.1L452.2,168.4L452.6,169.0L453.1,168.2L453.5,168.2L454.0,168.6L454.4,168.1L454.9,168.4L455.3,167.7L455.8,165.7L456.2,165.1L456.7,163.9L457.1,162.7L457.6,160.9L458.0,160.2L458.5,159.1L458.9,157.7L459.4,154.1L459.8,152.4L460.3,145.8L460.7,142.4L461.2,136.7L461.6,132.6L462.1,124.5L462.5,124.1L463.0,117.7L463.4,117.0L463.9,112.6L464.3,115.0L464.8,111.4L465.2,112.7L465.7,108.2L466.1,113.9L466.6,118.2L467.0,119.6L467.5,127.1L467.9,135.4L468.4,138.4L468.8,143.6L469.3,149.8L469.7,153.5L470.2,156.0L470.6,158.9L471.1,160.7L471.5,162.4L472.0,163.6L472.4,165.1L472.9,166.2L473.3,165.8L473.8,166.8L474.2,167.3L474.7,167.8L475.1,167.0L475.6,168.0L476.0,167.9L476.5,168.2L476.9,168.4L477.4,168.2L477.8,168.3L478.3,168.4L478.7,169.4L479.2,168.9L479.6,168.6L480.1,168.7L480.5,168.9L481.0,169.2L481.4,169.3L481.9,169.4L482.3,169.4L482.8,169.5L483.2,169.5L483.7,169.6L484.1,169.6L484.6,169.7L485.0,169.7L485.5,169.8L485.9,169.8L486.4,169.8L486.5,170.0Z" fill="#000"/>
<line x1="415.8" y1="109.1" x2="415.8" y2="170.0" stroke="#666" stroke-width="1"/>
<line x1="411.3" y1="170.0" x2="415.8" y2="170.0" stroke="#222" stroke-width="1"/>
<text x="416.6" y="174.1" text-anchor="middle" font-size="4" fill="#222" stroke="#222" stroke-width="0.2">10<tspan dy="-1.4" font-size="2.8">0</tspan></text>
<text x="440.7" y="174.1" text-anchor="middle" font-size="4" fill="#222" stroke="#222" stroke-width="0.2">10<tspan dy="-1.4" font-size="2.8">1</tspan></text>
<text x="464.7" y="174.1" text-anchor="middle" font-size="4" fill="#222" stroke="#222" stroke-width="0.2">10<tspan dy="-1.4" font-size="2.8">2</tspan></text>
<text x="488.8" y="174.1" text-anchor="middle" font-size="4" fill="#222" stroke="#222" stroke-width="0.2">10<tspan dy="-1.4" font-size="2.8">3</tspan></text>
<text x="512.8" y="174.1" text-anchor="middle" font-size="4" fill="#222" stroke="#222" stroke-width="0.2">10<tspan dy="-1.4" font-size="2.8">4</tspan></text>
<path d="M89.1,277.2V204.2H516.3" fill="none" stroke="#7c7c7c" stroke-width="1.6"/>
<path d="M88.5,277.2H516.3V203.4" fill="none" stroke="#3a3a3a" stroke-width="1.2"/>
<text x="81.2" y="212.6" text-anchor="middle" font-size="11" fill="#111" stroke="#111" stroke-width="0.3">N</text>
<text x="81.2" y="225.5" text-anchor="middle" font-size="11" fill="#111" stroke="#111" stroke-width="0.3">O</text>
<text x="81.2" y="238.3" text-anchor="middle" font-size="11" fill="#111" stroke="#111" stroke-width="0.3">R</text>
<text x="81.2" y="251.2" text-anchor="middle" font-size="11" fill="#111" stroke="#111" stroke-width="0.3">M</text>
<text x="81.2" y="264.0" text-anchor="middle" font-size="11" fill="#111" stroke="#111" stroke-width="0.3">A</text>
<text x="81.2" y="276.9" text-anchor="middle" font-size="11" fill="#111" stroke="#111" stroke-width="0.3">L</text>
<text x="94.1" y="200.5" font-size="11.1" fill="#111" stroke="#111" stroke-width="0.5">HLA-A2</text>
<line x1="90.5" y1="271.5" x2="191.5" y2="271.5" stroke="#222" stroke-width="0.9" stroke-dasharray="2.2,0.8"/>
<path d="M94.7,249.7L95.7,246.6L96.7,242.3L97.7,240.0L98.7,234.9L99.7,231.6L100.7,231.2L101.7,226.8L102.7,225.8L103.7,222.4L104.7,219.3L105.7,216.3L106.7,214.1L107.7,210.4L108.7,214.4L109.7,218.7L110.7,221.5L111.7,224.5L112.7,229.4L113.7,233.8L114.7,236.6L115.7,241.2L116.7,244.9L117.7,249.7L118.7,252.5L119.7,255.6L120.7,258.3L121.7,260.4L122.7,262.1L123.7,264.4L124.7,265.8L125.7,267.3L126.7,268.0L127.7,268.7L128.7,269.6L129.7,269.8L130.7,270.1L131.7,270.2L132.7,270.5L133.7,270.5L134.7,270.5L135.7,270.5L136.7,270.5L137.7,270.5L138.7,270.5L139.7,270.5L140.7,270.5L141.7,270.5L142.7,270.5L143.7,270.5L144.7,270.5L145.7,270.6L146.7,270.5L147.7,270.5L148.7,270.6L149.7,270.6L150.7,270.6L151.7,270.5L152.7,270.5L153.7,270.6L154.7,270.6L155.7,270.6L156.7,270.6L157.7,270.6L158.7,270.6L159.7,270.6L160.7,270.6L161.7,270.7L162.7,270.6L163.7,270.7L164.7,270.6L165.7,270.7L166.7,270.6L167.7,270.7L168.7,270.7L169.7,270.7L170.7,270.7L171.7,270.7L172.7,270.7L173.7,270.7L174.7,270.7L175.7,270.7L176.7,270.7L177.7,270.7L178.7,270.8L179.7,270.7L180.7,270.8L181.7,270.8L182.7,270.8L183.7,270.8L184.7,270.8L185.7,270.8L186.7,270.8L187.7,270.8L188.7,270.8L189.7,270.8L190.7,270.8L191.7,270.9L192.7,270.8L193.7,270.9" fill="none" stroke="#555" stroke-width="1.05" stroke-dasharray="2,0.8"/>
<path d="M114.5,271.5L114.5,270.9L114.9,270.7L115.4,270.3L115.8,270.4L116.3,270.2L116.7,269.7L117.2,269.3L117.6,269.6L118.1,269.7L118.5,270.1L119.0,270.1L119.4,269.7L119.9,269.9L120.3,268.6L120.8,269.3L121.2,269.2L121.7,269.6L122.1,269.2L122.6,268.6L123.0,268.8L123.5,269.0L123.9,268.5L124.4,268.6L124.8,268.5L125.3,268.4L125.7,268.4L126.2,268.3L126.6,268.3L127.1,268.8L127.5,268.5L128.0,267.4L128.4,268.1L128.9,268.0L129.3,267.4L129.8,267.1L130.2,266.5L130.7,266.7L131.1,266.5L131.6,265.6L132.0,265.6L132.5,265.4L132.9,264.0L133.4,263.4L133.8,263.3L134.3,262.3L134.7,261.7L135.2,260.6L135.6,260.1L136.1,257.4L136.5,258.0L137.0,256.1L137.4,255.4L137.9,253.3L138.3,254.4L138.8,251.2L139.2,251.5L139.7,248.9L140.1,248.8L140.6,247.8L141.0,246.9L141.5,245.7L141.9,243.8L142.4,241.9L142.8,240.0L143.3,240.5L143.7,239.0L144.2,237.4L144.6,238.0L145.1,236.7L145.5,233.1L146.0,232.4L146.4,233.2L146.9,229.1L147.3,229.9L147.8,227.7L148.2,224.8L148.7,225.8L149.1,222.8L149.6,220.3L150.0,223.0L150.5,221.5L150.9,214.1L151.4,215.4L151.8,212.7L152.3,214.0L152.7,214.4L153.2,211.5L153.6,214.2L154.1,210.2L154.5,217.0L155.0,217.6L155.4,215.4L155.9,214.2L156.3,216.2L156.8,218.0L157.2,219.1L157.7,221.1L158.1,224.4L158.6,229.5L159.0,231.2L159.5,231.4L159.9,236.9L160.4,236.9L160.8,239.7L161.3,245.8L161.7,246.3L162.2,248.9L162.6,251.6L163.1,253.3L163.5,255.0L164.0,257.3L164.4,258.8L164.9,260.5L165.3,261.0L165.8,263.4L166.2,264.2L166.7,264.9L167.1,265.0L167.6,266.2L168.0,266.2L168.5,266.9L168.9,267.3L169.4,267.7L169.8,268.4L170.3,268.7L170.7,269.3L171.2,269.6L171.6,269.8L172.1,269.6L172.5,269.4L173.0,270.7L173.4,270.8L173.6,271.5Z" fill="#000"/>
<line x1="94.5" y1="209.6" x2="94.5" y2="271.5" stroke="#666" stroke-width="1"/>
<line x1="90.0" y1="271.5" x2="94.5" y2="271.5" stroke="#222" stroke-width="1"/>
<text x="95.3" y="275.6" text-anchor="middle" font-size="4" fill="#222" stroke="#222" stroke-width="0.2">10<tspan dy="-1.4" font-size="2.8">0</tspan></text>
<text x="119.3" y="275.6" text-anchor="middle" font-size="4" fill="#222" stroke="#222" stroke-width="0.2">10<tspan dy="-1.4" font-size="2.8">1</tspan></text>
<text x="143.4" y="275.6" text-anchor="middle" font-size="4" fill="#222" stroke="#222" stroke-width="0.2">10<tspan dy="-1.4" font-size="2.8">2</tspan></text>
<text x="167.4" y="275.6" text-anchor="middle" font-size="4" fill="#222" stroke="#222" stroke-width="0.2">10<tspan dy="-1.4" font-size="2.8">3</tspan></text>
<text x="191.5" y="275.6" text-anchor="middle" font-size="4" fill="#222" stroke="#222" stroke-width="0.2">10<tspan dy="-1.4" font-size="2.8">4</tspan></text>
<text x="201.1" y="200.5" font-size="11.1" fill="#111" stroke="#111" stroke-width="0.5">HLA-A10</text>
<line x1="197.5" y1="271.5" x2="298.5" y2="271.5" stroke="#222" stroke-width="0.9" stroke-dasharray="2.2,0.8"/>
<path d="M201.7,248.6L202.7,245.0L203.7,241.9L204.7,239.0L205.7,234.3L206.7,231.8L207.7,229.7L208.7,226.0L209.7,224.1L210.7,221.5L211.7,217.2L212.7,213.4L213.7,212.8L214.7,208.9L215.7,214.5L216.7,215.1L217.7,221.3L218.7,225.7L219.7,227.6L220.7,232.9L221.7,237.0L222.7,242.9L223.7,245.3L224.7,248.9L225.7,251.4L226.7,252.7L227.7,255.4L228.7,257.8L229.7,261.4L230.7,263.8L231.7,266.1L232.7,267.5L233.7,268.9L234.7,269.4L235.7,269.7L236.7,270.2L237.7,270.3L238.7,270.2L239.7,270.2L240.7,270.2L241.7,270.3L242.7,270.3L243.7,270.3L244.7,270.4L245.7,270.3L246.7,270.4L247.7,270.4L248.7,270.4L249.7,270.4L250.7,270.4L251.7,270.3L252.7,270.4L253.7,270.4L254.7,270.4L255.7,270.4L256.7,270.4L257.7,270.4L258.7,270.4L259.7,270.5L260.7,270.5L261.7,270.5L262.7,270.5L263.7,270.5L264.7,270.5L265.7,270.5L266.7,270.6L267.7,270.5L268.7,270.5L269.7,270.5L270.7,270.5L271.7,270.6L272.7,270.6L273.7,270.6L274.7,270.6L275.7,270.6L276.7,270.6L277.7,270.7L278.7,270.6L279.7,270.6L280.7,270.7L281.7,270.7L282.7,270.7L283.7,270.7L284.7,270.7L285.7,270.7L286.7,270.7L287.7,270.8L288.7,270.8L289.7,270.8L290.7,270.7L291.7,270.8L292.7,270.8L293.7,270.8L294.7,270.8L295.7,270.8L296.7,270.8L297.7,270.8L298.7,270.8L299.7,270.9L300.7,270.9" fill="none" stroke="#555" stroke-width="1.05" stroke-dasharray="2,0.8"/>
<path d="M227.6,271.5L227.6,270.9L228.1,270.8L228.5,270.8L229.0,270.8L229.4,270.7L229.9,270.5L230.3,270.4L230.8,270.6L231.2,270.8L231.7,270.3L232.1,271.0L232.6,270.1L233.0,270.7L233.5,270.0L233.9,270.1L234.4,270.3L234.8,270.4L235.3,270.0L235.7,270.5L236.2,269.8L236.6,269.8L237.1,269.6L237.5,269.3L238.0,269.7L238.4,269.5L238.9,268.8L239.3,269.2L239.8,269.1L240.2,269.3L240.7,268.5L241.1,268.8L241.6,267.6L242.0,267.6L242.5,267.3L242.9,266.7L243.4,266.8L243.8,266.4L244.3,264.7L244.7,265.5L245.2,264.6L245.6,262.4L246.1,262.9L246.5,261.6L247.0,260.0L247.4,259.5L247.9,258.1L248.3,257.5L248.8,255.1L249.2,254.5L249.7,254.6L250.1,252.3L250.6,252.4L251.0,249.6L251.5,249.6L251.9,249.6L252.4,247.5L252.8,247.4L253.3,243.9L253.7,243.2L254.2,242.4L254.6,242.9L255.1,240.9L255.5,239.5L256.0,239.9L256.4,235.8L256.9,235.3L257.3,236.7L257.8,234.8L258.2,235.1L258.7,228.7L259.1,232.8L259.6,229.5L260.0,230.3L260.5,228.4L260.9,224.8L261.4,225.2L261.8,220.9L262.3,221.6L262.7,218.5L263.2,217.6L263.6,216.7L264.1,217.0L264.5,211.8L265.0,214.5L265.4,213.6L265.9,209.2L266.3,214.1L266.8,215.2L267.2,213.3L267.7,217.0L268.1,219.0L268.6,217.7L269.0,217.1L269.5,221.6L269.9,225.2L270.4,224.8L270.8,226.9L271.3,230.8L271.7,236.1L272.2,238.9L272.6,238.2L273.1,240.6L273.5,246.0L274.0,246.5L274.4,247.3L274.9,252.0L275.3,250.9L275.8,255.9L276.2,257.3L276.7,259.5L277.1,260.8L277.6,263.1L278.0,263.2L278.5,264.8L278.9,264.6L279.4,265.6L279.8,266.4L280.3,267.5L280.7,268.3L281.2,268.1L281.6,268.8L282.1,268.6L282.5,269.5L283.0,269.3L283.4,269.7L283.9,269.5L284.3,269.6L284.8,270.6L285.2,269.9L285.7,270.3L286.1,270.1L286.6,270.7L287.0,270.3L287.5,271.2L287.9,270.7L288.4,270.8L288.8,271.5Z" fill="#000"/>
<line x1="201.5" y1="209.6" x2="201.5" y2="271.5" stroke="#666" stroke-width="1"/>
<line x1="197.0" y1="271.5" x2="201.5" y2="271.5" stroke="#222" stroke-width="1"/>
<text x="202.3" y="275.6" text-anchor="middle" font-size="4" fill="#222" stroke="#222" stroke-width="0.2">10<tspan dy="-1.4" font-size="2.8">0</tspan></text>
<text x="226.4" y="275.6" text-anchor="middle" font-size="4" fill="#222" stroke="#222" stroke-width="0.2">10<tspan dy="-1.4" font-size="2.8">1</tspan></text>
<text x="250.4" y="275.6" text-anchor="middle" font-size="4" fill="#222" stroke="#222" stroke-width="0.2">10<tspan dy="-1.4" font-size="2.8">2</tspan></text>
<text x="274.5" y="275.6" text-anchor="middle" font-size="4" fill="#222" stroke="#222" stroke-width="0.2">10<tspan dy="-1.4" font-size="2.8">3</tspan></text>
<text x="298.5" y="275.6" text-anchor="middle" font-size="4" fill="#222" stroke="#222" stroke-width="0.2">10<tspan dy="-1.4" font-size="2.8">4</tspan></text>
<text x="307.5" y="200.5" font-size="11.1" fill="#111" stroke="#111" stroke-width="0.5">HLA-B8</text>
<line x1="304.8" y1="271.5" x2="405.8" y2="271.5" stroke="#222" stroke-width="0.9" stroke-dasharray="2.2,0.8"/>
<path d="M308.7,248.8L309.7,246.6L310.7,243.6L311.7,240.5L312.7,236.6L313.7,233.2L314.7,230.1L315.7,227.7L316.7,221.7L317.7,220.8L318.7,216.7L319.7,212.0L320.7,208.8L321.7,212.8L322.7,212.3L323.7,217.5L324.7,219.9L325.7,225.4L326.7,231.1L327.7,234.7L328.7,238.9L329.7,242.1L330.7,247.2L331.7,251.6L332.7,254.1L333.7,256.4L334.7,258.3L335.7,260.8L336.7,263.1L337.7,265.6L338.7,267.2L339.7,268.1L340.7,268.8L341.7,269.4L342.7,269.7L343.7,270.0L344.7,270.4L345.7,270.4L346.7,270.5L347.7,270.5L348.7,270.5L349.7,270.5L350.7,270.5L351.7,270.5L352.7,270.5L353.7,270.5L354.7,270.5L355.7,270.5L356.7,270.5L357.7,270.5L358.7,270.6L359.7,270.5L360.7,270.6L361.7,270.5L362.7,270.6L363.7,270.6L364.7,270.6L365.7,270.6L366.7,270.6L367.7,270.6L368.7,270.6L369.7,270.6L370.7,270.6L371.7,270.7L372.7,270.6L373.7,270.6L374.7,270.6L375.7,270.7L376.7,270.7L377.7,270.7L378.7,270.7L379.7,270.7L380.7,270.7L381.7,270.7L382.7,270.7L383.7,270.7L384.7,270.7L385.7,270.7L386.7,270.7L387.7,270.7L388.7,270.7L389.7,270.7L390.7,270.8L391.7,270.8L392.7,270.8L393.7,270.8L394.7,270.8L395.7,270.8L396.7,270.8L397.7,270.8L398.7,270.8L399.7,270.8L400.7,270.8L401.7,270.8L402.7,270.8L403.7,270.8L404.7,270.9L405.7,270.8L406.7,270.9L407.7,270.9" fill="none" stroke="#555" stroke-width="1.05" stroke-dasharray="2,0.8"/>
<path d="M330.5,271.5L330.5,270.9L331.0,270.8L331.4,270.7L331.9,271.2L332.3,271.0L332.8,270.2L333.2,270.6L333.7,270.2L334.1,270.7L334.6,270.4L335.0,270.1L335.5,269.6L335.9,269.9L336.4,270.1L336.8,269.7L337.3,269.6L337.7,269.9L338.2,269.2L338.6,269.2L339.1,269.5L339.5,269.5L340.0,269.4L340.4,269.0L340.9,268.8L341.3,269.7L341.8,269.3L342.2,269.4L342.7,269.2L343.1,269.3L343.6,269.2L344.0,268.9L344.5,268.9L344.9,268.4L345.4,268.4L345.8,268.0L346.3,268.6L346.7,268.2L347.2,267.9L347.6,267.5L348.1,268.0L348.5,267.5L349.0,267.4L349.4,266.5L349.9,266.5L350.3,266.0L350.8,265.5L351.2,264.8L351.7,264.9L352.1,263.3L352.6,263.4L353.0,262.6L353.5,260.7L353.9,260.2L354.4,260.2L354.8,258.5L355.3,257.5L355.7,255.5L356.2,254.5L356.6,254.9L357.1,252.5L357.5,250.5L358.0,248.8L358.4,248.6L358.9,248.7L359.3,245.2L359.8,243.6L360.2,242.2L360.7,237.6L361.1,241.3L361.6,237.0L362.0,235.9L362.5,234.2L362.9,230.4L363.4,229.1L363.8,229.3L364.3,226.8L364.7,225.6L365.2,223.3L365.6,219.9L366.1,216.7L366.5,216.8L367.0,213.9L367.4,214.6L367.9,214.9L368.3,214.6L368.8,212.4L369.2,212.8L369.7,212.9L370.1,210.0L370.6,216.9L371.0,216.3L371.5,218.7L371.9,223.4L372.4,224.6L372.8,223.5L373.3,228.3L373.7,228.7L374.2,233.8L374.6,236.4L375.1,237.1L375.5,239.7L376.0,241.9L376.4,245.2L376.9,246.2L377.3,248.9L377.8,250.2L378.2,254.1L378.7,256.1L379.1,256.9L379.6,259.3L380.0,260.3L380.5,261.4L380.9,262.5L381.4,263.9L381.8,264.8L382.3,264.9L382.7,265.9L383.2,266.6L383.6,266.9L384.1,267.5L384.5,267.9L385.0,267.8L385.4,269.3L385.9,269.2L386.3,269.0L386.8,269.4L387.2,269.3L387.7,270.3L388.1,269.2L388.6,269.8L389.0,270.5L389.5,270.6L389.9,270.0L390.4,270.1L390.8,269.7L391.3,271.0L391.7,270.2L392.2,270.8L392.6,270.5L393.1,270.8L393.5,270.8L393.7,271.5Z" fill="#000"/>
<line x1="308.8" y1="209.6" x2="308.8" y2="271.5" stroke="#666" stroke-width="1"/>
<line x1="304.3" y1="271.5" x2="308.8" y2="271.5" stroke="#222" stroke-width="1"/>
<text x="309.6" y="275.6" text-anchor="middle" font-size="4" fill="#222" stroke="#222" stroke-width="0.2">10<tspan dy="-1.4" font-size="2.8">0</tspan></text>
<text x="333.7" y="275.6" text-anchor="middle" font-size="4" fill="#222" stroke="#222" stroke-width="0.2">10<tspan dy="-1.4" font-size="2.8">1</tspan></text>
<text x="357.7" y="275.6" text-anchor="middle" font-size="4" fill="#222" stroke="#222" stroke-width="0.2">10<tspan dy="-1.4" font-size="2.8">2</tspan></text>
<text x="381.8" y="275.6" text-anchor="middle" font-size="4" fill="#222" stroke="#222" stroke-width="0.2">10<tspan dy="-1.4" font-size="2.8">3</tspan></text>
<text x="405.8" y="275.6" text-anchor="middle" font-size="4" fill="#222" stroke="#222" stroke-width="0.2">10<tspan dy="-1.4" font-size="2.8">4</tspan></text>
<text x="414.2" y="200.5" font-size="11.1" fill="#111" stroke="#111" stroke-width="0.5">HLA-B14</text>
<line x1="411.8" y1="271.5" x2="512.8" y2="271.5" stroke="#222" stroke-width="0.9" stroke-dasharray="2.2,0.8"/>
<path d="M415.7,249.5L416.7,243.6L417.7,240.9L418.7,236.0L419.7,233.8L420.7,230.7L421.7,228.0L422.7,224.6L423.7,223.7L424.7,220.8L425.7,216.3L426.7,210.9L427.7,208.3L428.7,210.6L429.7,213.8L430.7,216.5L431.7,218.9L432.7,226.4L433.7,232.9L434.7,234.2L435.7,240.2L436.7,244.2L437.7,246.8L438.7,251.1L439.7,253.5L440.7,256.3L441.7,259.0L442.7,261.1L443.7,263.3L444.7,266.0L445.7,268.3L446.7,268.7L447.7,269.4L448.7,269.8L449.7,269.9L450.7,270.2L451.7,270.5L452.7,270.4L453.7,270.4L454.7,270.5L455.7,270.5L456.7,270.5L457.7,270.5L458.7,270.5L459.7,270.5L460.7,270.5L461.7,270.5L462.7,270.5L463.7,270.5L464.7,270.5L465.7,270.5L466.7,270.6L467.7,270.5L468.7,270.6L469.7,270.6L470.7,270.6L471.7,270.6L472.7,270.6L473.7,270.6L474.7,270.6L475.7,270.6L476.7,270.6L477.7,270.6L478.7,270.7L479.7,270.6L480.7,270.7L481.7,270.6L482.7,270.7L483.7,270.7L484.7,270.6L485.7,270.6L486.7,270.7L487.7,270.7L488.7,270.7L489.7,270.7L490.7,270.7L491.7,270.7L492.7,270.7L493.7,270.7L494.7,270.7L495.7,270.8L496.7,270.8L497.7,270.8L498.7,270.8L499.7,270.8L500.7,270.8L501.7,270.8L502.7,270.8L503.7,270.8L504.7,270.8L505.7,270.8L506.7,270.8L507.7,270.8L508.7,270.8L509.7,270.8L510.7,270.8L511.7,270.9L512.7,270.9L513.7,270.8L514.7,270.8" fill="none" stroke="#555" stroke-width="1.05" stroke-dasharray="2,0.8"/>
<path d="M421.2,271.5L421.2,270.9L421.7,270.7L422.1,270.2L422.6,270.1L423.0,270.4L423.5,270.7L423.9,269.7L424.4,270.4L424.8,269.6L425.3,269.7L425.7,269.6L426.2,270.0L426.6,269.3L427.1,269.7L427.5,269.1L428.0,269.8L428.4,268.8L428.9,269.4L429.3,269.0L429.8,268.9L430.2,269.2L430.7,268.7L431.1,268.5L431.6,268.9L432.0,268.4L432.5,268.3L432.9,268.4L433.4,269.4L433.8,268.5L434.3,269.3L434.7,268.9L435.2,269.0L435.6,269.0L436.1,268.3L436.5,268.7L437.0,269.1L437.4,268.6L437.9,268.5L438.3,268.6L438.8,268.6L439.2,268.5L439.7,269.0L440.1,269.3L440.6,268.8L441.0,269.3L441.5,269.5L441.9,268.9L442.4,269.1L442.8,269.5L443.3,269.1L443.7,269.1L444.2,269.5L444.6,269.5L445.1,269.2L445.5,269.8L446.0,270.0L446.4,269.6L446.9,269.8L447.3,270.0L447.8,269.5L448.2,269.8L448.7,270.5L449.1,270.0L449.6,270.4L450.0,269.6L450.5,270.4L450.9,270.1L451.4,270.0L451.8,269.9L452.3,270.4L452.7,269.7L453.2,269.8L453.6,269.9L454.1,269.3L454.5,269.1L455.0,269.8L455.4,269.5L455.9,268.4L456.3,268.5L456.8,267.5L457.2,267.8L457.7,266.9L458.1,265.7L458.6,265.0L459.0,263.7L459.5,263.2L459.9,260.7L460.4,259.5L460.8,257.2L461.3,256.4L461.7,252.9L462.2,253.1L462.6,249.4L463.1,245.7L463.5,244.8L464.0,242.1L464.4,238.0L464.9,234.4L465.3,232.2L465.8,228.4L466.2,228.3L466.7,226.0L467.1,222.5L467.6,219.9L468.0,218.1L468.5,215.5L468.9,215.1L469.4,217.3L469.8,209.6L470.3,208.1L470.7,209.3L471.2,208.6L471.6,210.0L472.1,208.2L472.5,208.9L473.0,212.9L473.4,214.9L473.9,209.4L474.3,213.8L474.8,215.1L475.2,214.4L475.7,217.6L476.1,217.3L476.6,222.5L477.0,223.6L477.5,228.3L477.9,225.4L478.4,229.0L478.8,227.3L479.3,232.9L479.7,231.2L480.2,230.5L480.6,234.8L481.1,236.4L481.5,239.1L482.0,242.4L482.4,244.7L482.9,245.1L483.3,246.1L483.8,247.3L484.2,251.5L484.7,251.4L485.1,252.9L485.6,254.6L486.0,256.4L486.5,258.3L486.9,259.3L487.4,259.0L487.8,260.7L488.3,261.2L488.7,262.7L489.2,262.9L489.6,264.0L490.1,265.4L490.5,265.8L491.0,266.5L491.4,267.5L491.9,267.8L492.3,268.1L492.8,268.8L493.2,268.5L493.7,268.5L494.1,268.6L494.6,269.3L495.0,269.0L495.5,269.2L495.9,270.2L496.4,269.4L496.8,270.3L497.3,270.4L497.7,269.8L498.2,270.1L498.6,270.5L499.1,270.7L499.5,270.8L499.7,271.5Z" fill="#000"/>
<line x1="415.8" y1="209.6" x2="415.8" y2="271.5" stroke="#666" stroke-width="1"/>
<line x1="411.3" y1="271.5" x2="415.8" y2="271.5" stroke="#222" stroke-width="1"/>
<text x="416.6" y="275.6" text-anchor="middle" font-size="4" fill="#222" stroke="#222" stroke-width="0.2">10<tspan dy="-1.4" font-size="2.8">0</tspan></text>
<text x="440.7" y="275.6" text-anchor="middle" font-size="4" fill="#222" stroke="#222" stroke-width="0.2">10<tspan dy="-1.4" font-size="2.8">1</tspan></text>
<text x="464.7" y="275.6" text-anchor="middle" font-size="4" fill="#222" stroke="#222" stroke-width="0.2">10<tspan dy="-1.4" font-size="2.8">2</tspan></text>
<text x="488.8" y="275.6" text-anchor="middle" font-size="4" fill="#222" stroke="#222" stroke-width="0.2">10<tspan dy="-1.4" font-size="2.8">3</tspan></text>
<text x="512.8" y="275.6" text-anchor="middle" font-size="4" fill="#222" stroke="#222" stroke-width="0.2">10<tspan dy="-1.4" font-size="2.8">4</tspan></text>
<path d="M89.1,366.7V294.4H516.3" fill="none" stroke="#7c7c7c" stroke-width="1.6"/>
<path d="M88.5,366.7H516.3V293.59999999999997" fill="none" stroke="#3a3a3a" stroke-width="1.2"/>
<text x="81.2" y="308.8" text-anchor="middle" font-size="11" fill="#111" stroke="#111" stroke-width="0.3">T</text>
<text x="81.2" y="321.8" text-anchor="middle" font-size="11" fill="#111" stroke="#111" stroke-width="0.3">U</text>
<text x="81.2" y="334.8" text-anchor="middle" font-size="11" fill="#111" stroke="#111" stroke-width="0.3">M</text>
<text x="81.2" y="347.8" text-anchor="middle" font-size="11" fill="#111" stroke="#111" stroke-width="0.3">O</text>
<text x="81.2" y="360.8" text-anchor="middle" font-size="11" fill="#111" stroke="#111" stroke-width="0.3">R</text>
<text x="94.1" y="290.8" font-size="11.1" fill="#111" stroke="#111" stroke-width="0.5">HLA-A2</text>
<line x1="90.5" y1="361.0" x2="191.5" y2="361.0" stroke="#222" stroke-width="0.9" stroke-dasharray="2.2,0.8"/>
<path d="M94.7,342.8L95.7,338.3L96.7,335.0L97.7,331.3L98.7,328.2L99.7,324.0L100.7,320.9L101.7,317.7L102.7,316.9L103.7,313.4L104.7,308.6L105.7,305.2L106.7,305.3L107.7,303.6L108.7,302.0L109.7,304.1L110.7,305.0L111.7,302.3L112.7,305.5L113.7,311.9L114.7,320.6L115.7,324.0L116.7,328.8L117.7,334.4L118.7,339.2L119.7,341.8L120.7,343.8L121.7,347.1L122.7,350.2L123.7,353.3L124.7,355.3L125.7,357.3L126.7,358.0L127.7,358.6L128.7,359.3L129.7,359.4L130.7,359.7L131.7,359.9L132.7,360.2L133.7,360.2L134.7,360.2L135.7,360.2L136.7,360.2L137.7,360.2L138.7,360.2L139.7,360.3L140.7,360.2L141.7,360.2L142.7,360.3L143.7,360.2L144.7,360.3L145.7,360.2L146.7,360.3L147.7,360.2L148.7,360.2L149.7,360.3L150.7,360.3L151.7,360.2L152.7,360.2L153.7,360.2L154.7,360.3L155.7,360.2L156.7,360.3L157.7,360.2L158.7,360.3L159.7,360.3L160.7,360.2L161.7,360.3L162.7,360.2L163.7,360.3L164.7,360.2L165.7,360.2L166.7,360.3L167.7,360.3L168.7,360.3L169.7,360.2L170.7,360.3L171.7,360.3L172.7,360.2L173.7,360.3L174.7,360.3L175.7,360.3L176.7,360.3L177.7,360.2L178.7,360.3L179.7,360.2L180.7,360.2L181.7,360.3L182.7,360.3L183.7,360.2L184.7,360.3L185.7,360.2L186.7,360.2L187.7,360.3L188.7,360.3L189.7,360.2L190.7,360.2L191.7,360.3L192.7,360.2L193.7,360.3" fill="none" stroke="#555" stroke-width="1.05" stroke-dasharray="2,0.8"/>
<path d="M126.7,361.0L126.7,360.2L127.2,360.2L127.6,360.7L128.1,360.4L128.5,359.6L129.0,359.5L129.4,360.4L129.9,359.6L130.3,359.9L130.8,359.3L131.2,359.7L131.7,360.2L132.1,359.5L132.6,360.3L133.0,359.5L133.5,359.9L133.9,359.6L134.4,359.2L134.8,359.3L135.3,359.6L135.7,359.8L136.2,359.2L136.6,359.4L137.1,359.5L137.5,359.1L138.0,359.1L138.4,358.9L138.9,359.0L139.3,358.8L139.8,359.2L140.2,358.3L140.7,356.8L141.1,356.2L141.6,353.1L142.0,351.1L142.5,348.7L142.9,343.8L143.4,340.1L143.8,333.9L144.3,328.8L144.7,323.2L145.2,320.5L145.6,313.8L146.1,312.5L146.5,308.8L147.0,306.5L147.4,302.2L147.9,300.2L148.3,302.8L148.8,303.6L149.2,309.8L149.7,313.5L150.1,319.1L150.6,323.5L151.0,325.7L151.5,333.0L151.9,335.7L152.4,339.8L152.8,340.9L153.3,343.5L153.7,345.0L154.2,346.0L154.6,347.0L155.1,347.1L155.5,348.8L156.0,349.6L156.4,351.1L156.9,351.0L157.3,352.4L157.8,352.7L158.2,352.8L158.7,353.2L159.1,353.1L159.6,353.0L160.0,353.0L160.5,352.7L160.9,352.0L161.4,352.9L161.8,352.3L162.3,351.3L162.7,350.9L163.2,352.0L163.6,352.0L164.1,351.3L164.5,352.4L165.0,352.9L165.4,352.9L165.9,354.0L166.3,354.6L166.8,355.5L167.2,356.6L167.7,357.2L168.1,357.6L168.6,358.0L169.0,358.6L169.5,359.4L169.9,358.5L170.4,359.0L170.8,358.9L171.3,359.6L171.7,359.1L172.2,359.7L172.6,359.9L173.1,359.8L173.5,359.7L174.0,359.7L174.4,360.3L174.9,360.3L175.3,359.6L175.8,359.7L176.2,360.0L176.7,359.7L177.1,359.9L177.6,360.2L177.7,361.0Z" fill="#000"/>
<line x1="94.5" y1="299.8" x2="94.5" y2="361.0" stroke="#666" stroke-width="1"/>
<line x1="90.0" y1="361.0" x2="94.5" y2="361.0" stroke="#222" stroke-width="1"/>
<text x="95.3" y="365.1" text-anchor="middle" font-size="4" fill="#222" stroke="#222" stroke-width="0.2">10<tspan dy="-1.4" font-size="2.8">0</tspan></text>
<text x="119.3" y="365.1" text-anchor="middle" font-size="4" fill="#222" stroke="#222" stroke-width="0.2">10<tspan dy="-1.4" font-size="2.8">1</tspan></text>
<text x="143.4" y="365.1" text-anchor="middle" font-size="4" fill="#222" stroke="#222" stroke-width="0.2">10<tspan dy="-1.4" font-size="2.8">2</tspan></text>
<text x="167.4" y="365.1" text-anchor="middle" font-size="4" fill="#222" stroke="#222" stroke-width="0.2">10<tspan dy="-1.4" font-size="2.8">3</tspan></text>
<text x="191.5" y="365.1" text-anchor="middle" font-size="4" fill="#222" stroke="#222" stroke-width="0.2">10<tspan dy="-1.4" font-size="2.8">4</tspan></text>
<text x="201.1" y="290.8" font-size="11.1" fill="#111" stroke="#111" stroke-width="0.5">HLA-A10</text>
<line x1="197.5" y1="361.0" x2="298.5" y2="361.0" stroke="#222" stroke-width="0.9" stroke-dasharray="2.2,0.8"/>
<path d="M201.7,342.3L202.7,340.2L203.7,336.9L204.7,333.6L205.7,331.1L206.7,325.8L207.7,322.6L208.7,320.4L209.7,315.5L210.7,312.0L211.7,309.0L212.7,306.7L213.7,303.7L214.7,299.5L215.7,304.0L216.7,305.0L217.7,301.1L218.7,305.6L219.7,310.4L220.7,318.5L221.7,323.5L222.7,329.6L223.7,332.9L224.7,337.4L225.7,341.1L226.7,345.5L227.7,348.2L228.7,351.5L229.7,353.4L230.7,355.2L231.7,356.3L232.7,357.3L233.7,358.1L234.7,358.5L235.7,358.9L236.7,359.3L237.7,359.6L238.7,359.6L239.7,359.6L240.7,359.7L241.7,359.7L242.7,359.7L243.7,359.6L244.7,359.7L245.7,359.7L246.7,359.7L247.7,359.7L248.7,359.8L249.7,359.7L250.7,359.8L251.7,359.8L252.7,359.7L253.7,359.8L254.7,359.8L255.7,359.8L256.7,359.8L257.7,359.8L258.7,359.9L259.7,359.8L260.7,359.8L261.7,359.9L262.7,359.9L263.7,359.8L264.7,359.9L265.7,359.9L266.7,359.9L267.7,359.9L268.7,359.9L269.7,359.9L270.7,360.0L271.7,360.0L272.7,360.0L273.7,360.0L274.7,360.0L275.7,360.0L276.7,360.0L277.7,360.0L278.7,360.0L279.7,360.0L280.7,360.1L281.7,360.1L282.7,360.1L283.7,360.1L284.7,360.1L285.7,360.1L286.7,360.1L287.7,360.1L288.7,360.2L289.7,360.1L290.7,360.1L291.7,360.2L292.7,360.2L293.7,360.2L294.7,360.2L295.7,360.2L296.7,360.2L297.7,360.2L298.7,360.2L299.7,360.3L300.7,360.2" fill="none" stroke="#555" stroke-width="1.05" stroke-dasharray="2,0.8"/>
<path d="M213.3,361.0L213.3,360.2L213.8,359.6L214.2,360.4L214.7,359.8L215.1,359.9L215.6,359.2L216.0,358.6L216.5,359.7L216.9,359.8L217.4,358.8L217.8,359.5L218.3,359.3L218.7,358.6L219.2,358.4L219.6,358.9L220.1,358.1L220.5,357.8L221.0,357.8L221.4,358.3L221.9,358.1L222.3,357.0L222.8,357.4L223.2,355.9L223.7,355.8L224.1,355.2L224.6,354.5L225.0,354.7L225.5,354.2L225.9,354.2L226.4,353.4L226.8,351.9L227.3,351.8L227.7,350.6L228.2,350.5L228.6,350.0L229.1,350.5L229.5,349.5L230.0,347.2L230.4,347.2L230.9,345.9L231.3,346.8L231.8,342.6L232.2,342.9L232.7,343.5L233.1,341.4L233.6,338.2L234.0,336.0L234.5,338.6L234.9,336.3L235.4,334.0L235.8,332.2L236.3,330.1L236.7,325.7L237.2,325.7L237.6,322.8L238.1,329.1L238.5,324.7L239.0,321.4L239.4,320.0L239.9,321.4L240.3,317.7L240.8,314.3L241.2,311.1L241.7,310.7L242.1,310.3L242.6,311.1L243.0,306.8L243.5,305.4L243.9,303.0L244.4,304.8L244.8,311.7L245.3,305.0L245.7,312.1L246.2,305.6L246.6,298.6L247.1,305.7L247.5,296.2L248.0,306.9L248.4,299.5L248.9,312.1L249.3,309.1L249.8,304.4L250.2,310.8L250.7,311.5L251.1,306.9L251.6,314.2L252.0,309.2L252.5,317.5L252.9,316.5L253.4,316.1L253.8,311.2L254.3,316.4L254.7,321.5L255.2,319.0L255.6,318.9L256.1,317.6L256.5,321.2L257.0,323.5L257.4,326.0L257.9,329.8L258.3,329.1L258.8,328.5L259.2,329.6L259.7,334.2L260.1,338.2L260.6,338.1L261.0,339.6L261.5,338.8L261.9,341.1L262.4,341.7L262.8,343.1L263.3,343.9L263.7,344.4L264.2,348.7L264.6,349.4L265.1,349.3L265.5,350.2L266.0,351.6L266.4,351.8L266.9,351.9L267.3,353.4L267.8,353.5L268.2,353.6L268.7,355.4L269.1,354.1L269.6,354.5L270.0,353.5L270.5,355.8L270.9,355.9L271.4,355.3L271.8,356.6L272.3,356.6L272.7,356.7L273.2,358.1L273.6,357.6L274.1,358.1L274.5,358.9L275.0,357.9L275.4,358.8L275.9,359.0L276.3,358.5L276.8,359.0L277.2,359.0L277.7,359.8L278.1,359.6L278.6,359.2L279.0,359.4L279.5,360.0L279.9,359.9L280.4,360.2L280.8,359.2L281.3,359.8L281.7,359.6L282.2,359.7L282.6,360.6L283.1,359.8L283.5,360.0L284.0,360.6L284.4,360.2L284.7,361.0Z" fill="#000"/>
<line x1="201.5" y1="299.8" x2="201.5" y2="361.0" stroke="#666" stroke-width="1"/>
<line x1="197.0" y1="361.0" x2="201.5" y2="361.0" stroke="#222" stroke-width="1"/>
<text x="202.3" y="365.1" text-anchor="middle" font-size="4" fill="#222" stroke="#222" stroke-width="0.2">10<tspan dy="-1.4" font-size="2.8">0</tspan></text>
<text x="226.4" y="365.1" text-anchor="middle" font-size="4" fill="#222" stroke="#222" stroke-width="0.2">10<tspan dy="-1.4" font-size="2.8">1</tspan></text>
<text x="250.4" y="365.1" text-anchor="middle" font-size="4" fill="#222" stroke="#222" stroke-width="0.2">10<tspan dy="-1.4" font-size="2.8">2</tspan></text>
<text x="274.5" y="365.1" text-anchor="middle" font-size="4" fill="#222" stroke="#222" stroke-width="0.2">10<tspan dy="-1.4" font-size="2.8">3</tspan></text>
<text x="298.5" y="365.1" text-anchor="middle" font-size="4" fill="#222" stroke="#222" stroke-width="0.2">10<tspan dy="-1.4" font-size="2.8">4</tspan></text>
<text x="307.5" y="290.8" font-size="11.1" fill="#111" stroke="#111" stroke-width="0.5">HLA-B8</text>
<line x1="304.8" y1="361.0" x2="405.8" y2="361.0" stroke="#222" stroke-width="0.9" stroke-dasharray="2.2,0.8"/>
<path d="M308.9,339.5L309.9,337.9L310.9,335.2L311.9,333.5L312.9,332.7L313.9,331.4L314.9,327.5L315.9,325.9L316.9,321.5L317.9,320.1L318.9,314.8L319.9,312.5L320.9,307.9L321.9,309.7L322.9,305.1L323.9,309.9L324.9,305.7L325.9,310.9L326.9,313.4L327.9,317.7L328.9,323.7L329.9,325.2L330.9,328.2L331.9,330.8L332.9,334.3L333.9,337.2L334.9,340.8L335.9,343.1L336.9,345.4L337.9,347.2L338.9,349.5L339.9,351.4L340.9,353.6L341.9,355.4L342.9,356.2L343.9,357.2L344.9,358.0L345.9,358.8L346.9,359.0L347.9,359.2L348.9,359.3L349.9,359.6L350.9,359.7L351.9,359.9L352.9,360.0L353.9,360.1L354.9,360.0L355.9,360.1L356.9,360.1L357.9,360.1L358.9,360.0L359.9,360.1L360.9,360.1L361.9,360.1L362.9,360.1L363.9,360.1L364.9,360.1L365.9,360.1L366.9,360.1L367.9,360.1L368.9,360.1L369.9,360.1L370.9,360.1L371.9,360.1L372.9,360.1L373.9,360.1L374.9,360.1L375.9,360.1L376.9,360.1L377.9,360.2L378.9,360.2L379.9,360.1L380.9,360.2L381.9,360.1L382.9,360.2L383.9,360.1L384.9,360.2L385.9,360.2L386.9,360.1L387.9,360.2L388.9,360.2L389.9,360.2L390.9,360.2L391.9,360.2L392.9,360.2L393.9,360.2L394.9,360.2L395.9,360.2L396.9,360.2L397.9,360.2L398.9,360.2L399.9,360.2L400.9,360.2L401.9,360.2L402.9,360.2L403.9,360.2L404.9,360.2L405.9,360.2L406.9,360.3L407.9,360.2" fill="none" stroke="#555" stroke-width="1.05" stroke-dasharray="2,0.8"/>
<path d="M308.9,361.0L308.9,339.4L309.4,339.0L309.8,337.4L310.3,336.8L310.7,336.3L311.2,334.9L311.6,338.3L312.1,333.1L312.5,338.0L313.0,333.9L313.4,335.1L313.9,332.2L314.3,331.6L314.8,332.9L315.2,331.2L315.7,326.8L316.1,331.2L316.6,330.1L317.0,327.9L317.5,315.7L317.9,317.7L318.4,320.4L318.8,320.1L319.3,314.4L319.7,313.3L320.2,318.6L320.6,305.0L321.1,314.8L321.5,313.1L322.0,315.0L322.4,305.7L322.9,310.0L323.3,312.7L323.8,306.4L324.2,308.4L324.7,312.4L325.1,304.7L325.6,311.4L326.0,317.5L326.5,314.1L326.9,307.6L327.4,315.8L327.8,314.8L328.3,319.2L328.7,323.9L329.2,326.3L329.6,327.4L330.1,325.9L330.5,325.4L331.0,329.9L331.4,334.2L331.9,336.7L332.3,333.9L332.8,335.5L333.2,337.8L333.7,341.1L334.1,340.5L334.6,341.1L335.0,343.6L335.5,340.9L335.9,338.8L336.4,344.5L336.8,343.8L337.3,346.1L337.7,345.9L338.2,345.9L338.6,349.4L339.1,348.2L339.5,349.7L340.0,352.0L340.4,352.6L340.9,353.0L341.3,352.9L341.8,354.9L342.2,355.2L342.7,355.5L343.1,355.2L343.6,357.7L344.0,357.6L344.5,357.7L344.9,358.2L345.4,358.0L345.8,357.8L346.3,358.5L346.7,359.1L347.2,359.3L347.6,358.8L348.1,359.4L348.5,359.2L349.0,359.9L349.4,359.6L349.9,360.0L350.3,359.9L350.8,359.7L351.2,359.8L351.7,359.2L352.1,359.3L352.6,360.3L353.0,360.1L353.5,360.5L353.9,360.3L354.4,359.6L354.8,360.6L355.3,360.0L355.7,359.9L356.2,359.8L356.6,360.4L357.1,358.9L357.5,360.3L358.0,360.2L358.4,360.0L358.9,360.0L359.3,359.5L359.8,360.4L360.2,360.6L360.7,360.2L361.1,360.7L361.6,360.2L362.0,360.2L362.5,360.2L362.9,360.2L363.1,361.0Z" fill="#000"/>
<line x1="308.8" y1="299.8" x2="308.8" y2="361.0" stroke="#666" stroke-width="1"/>
<line x1="304.3" y1="361.0" x2="308.8" y2="361.0" stroke="#222" stroke-width="1"/>
<text x="309.6" y="365.1" text-anchor="middle" font-size="4" fill="#222" stroke="#222" stroke-width="0.2">10<tspan dy="-1.4" font-size="2.8">0</tspan></text>
<text x="333.7" y="365.1" text-anchor="middle" font-size="4" fill="#222" stroke="#222" stroke-width="0.2">10<tspan dy="-1.4" font-size="2.8">1</tspan></text>
<text x="357.7" y="365.1" text-anchor="middle" font-size="4" fill="#222" stroke="#222" stroke-width="0.2">10<tspan dy="-1.4" font-size="2.8">2</tspan></text>
<text x="381.8" y="365.1" text-anchor="middle" font-size="4" fill="#222" stroke="#222" stroke-width="0.2">10<tspan dy="-1.4" font-size="2.8">3</tspan></text>
<text x="405.8" y="365.1" text-anchor="middle" font-size="4" fill="#222" stroke="#222" stroke-width="0.2">10<tspan dy="-1.4" font-size="2.8">4</tspan></text>
<text x="414.2" y="290.8" font-size="11.1" fill="#111" stroke="#111" stroke-width="0.5">HLA-B14</text>
<line x1="411.8" y1="361.0" x2="512.8" y2="361.0" stroke="#222" stroke-width="0.9" stroke-dasharray="2.2,0.8"/>
<path d="M415.7,343.1L416.7,340.0L417.7,336.5L418.7,334.3L419.7,329.8L420.7,325.2L421.7,323.6L422.7,319.6L423.7,317.1L424.7,313.3L425.7,310.9L426.7,306.7L427.7,301.1L428.7,304.6L429.7,302.3L430.7,304.0L431.7,302.5L432.7,307.9L433.7,314.4L434.7,320.6L435.7,325.9L436.7,329.9L437.7,335.4L438.7,338.1L439.7,341.9L440.7,345.0L441.7,346.9L442.7,349.7L443.7,351.6L444.7,353.4L445.7,355.1L446.7,356.2L447.7,357.1L448.7,358.1L449.7,358.6L450.7,358.9L451.7,359.3L452.7,359.6L453.7,359.7L454.7,359.6L455.7,359.7L456.7,359.6L457.7,359.7L458.7,359.7L459.7,359.7L460.7,359.7L461.7,359.7L462.7,359.8L463.7,359.8L464.7,359.7L465.7,359.8L466.7,359.8L467.7,359.8L468.7,359.8L469.7,359.8L470.7,359.8L471.7,359.9L472.7,359.8L473.7,359.9L474.7,359.8L475.7,359.8L476.7,359.9L477.7,359.9L478.7,359.9L479.7,359.9L480.7,359.9L481.7,359.9L482.7,360.0L483.7,359.9L484.7,359.9L485.7,360.0L486.7,360.0L487.7,359.9L488.7,360.0L489.7,360.0L490.7,360.0L491.7,360.1L492.7,360.0L493.7,360.0L494.7,360.0L495.7,360.0L496.7,360.1L497.7,360.1L498.7,360.1L499.7,360.1L500.7,360.1L501.7,360.1L502.7,360.1L503.7,360.2L504.7,360.2L505.7,360.2L506.7,360.2L507.7,360.1L508.7,360.2L509.7,360.2L510.7,360.2L511.7,360.2L512.7,360.2L513.7,360.2L514.7,360.2" fill="none" stroke="#555" stroke-width="1.05" stroke-dasharray="2,0.8"/>
<path d="M425.3,361.0L425.3,360.2L425.8,359.8L426.2,359.6L426.7,359.8L427.1,359.3L427.6,359.3L428.0,359.8L428.5,359.5L428.9,359.1L429.4,359.1L429.8,358.2L430.3,358.7L430.7,359.3L431.2,359.1L431.6,359.2L432.1,357.8L432.5,359.2L433.0,358.4L433.4,358.5L433.9,358.4L434.3,358.0L434.8,357.1L435.2,357.0L435.7,357.1L436.1,357.4L436.6,357.5L437.0,356.0L437.5,356.0L437.9,354.7L438.4,353.8L438.8,353.6L439.3,353.5L439.7,353.0L440.2,351.8L440.6,351.8L441.1,350.6L441.5,351.5L442.0,349.5L442.4,347.6L442.9,346.7L443.3,346.3L443.8,345.0L444.2,345.6L444.7,340.0L445.1,339.4L445.6,335.8L446.0,339.0L446.5,332.9L446.9,332.5L447.4,329.7L447.8,328.5L448.3,327.5L448.7,323.0L449.2,325.5L449.6,321.1L450.1,315.6L450.5,318.4L451.0,319.0L451.4,309.8L451.9,303.4L452.3,309.2L452.8,307.5L453.2,310.5L453.7,307.3L454.1,310.9L454.6,307.9L455.0,313.8L455.5,307.1L455.9,314.3L456.4,313.3L456.8,311.7L457.3,311.7L457.7,311.2L458.2,311.5L458.6,305.4L459.1,311.9L459.5,304.5L460.0,311.7L460.4,313.5L460.9,315.6L461.3,310.3L461.8,310.0L462.2,318.7L462.7,318.7L463.1,312.9L463.6,319.7L464.0,315.4L464.5,316.5L464.9,321.8L465.4,317.2L465.8,326.4L466.3,321.1L466.7,327.0L467.2,330.5L467.6,325.7L468.1,325.5L468.5,331.0L469.0,329.3L469.4,329.2L469.9,333.4L470.3,333.8L470.8,331.8L471.2,331.8L471.7,337.1L472.1,338.1L472.6,336.1L473.0,336.6L473.5,337.5L473.9,341.1L474.4,341.8L474.8,341.8L475.3,344.2L475.7,344.7L476.2,345.2L476.6,346.1L477.1,347.6L477.5,347.7L478.0,349.4L478.4,350.0L478.9,351.7L479.3,352.8L479.8,351.0L480.2,353.8L480.7,352.7L481.1,353.9L481.6,355.1L482.0,354.6L482.5,354.1L482.9,354.8L483.4,355.6L483.8,355.7L484.3,356.4L484.7,356.7L485.2,357.6L485.6,357.7L486.1,357.5L486.5,358.4L487.0,357.8L487.4,358.2L487.9,357.9L488.3,358.6L488.8,359.1L489.2,359.2L489.7,359.1L490.1,357.9L490.6,359.7L491.0,359.3L491.5,359.2L491.9,359.8L492.4,359.3L492.8,359.4L493.3,360.1L493.7,360.4L494.2,359.0L494.6,360.2L494.6,361.0Z" fill="#000"/>
<line x1="415.8" y1="299.8" x2="415.8" y2="361.0" stroke="#666" stroke-width="1"/>
<line x1="411.3" y1="361.0" x2="415.8" y2="361.0" stroke="#222" stroke-width="1"/>
<text x="416.6" y="365.1" text-anchor="middle" font-size="4" fill="#222" stroke="#222" stroke-width="0.2">10<tspan dy="-1.4" font-size="2.8">0</tspan></text>
<text x="440.7" y="365.1" text-anchor="middle" font-size="4" fill="#222" stroke="#222" stroke-width="0.2">10<tspan dy="-1.4" font-size="2.8">1</tspan></text>
<text x="464.7" y="365.1" text-anchor="middle" font-size="4" fill="#222" stroke="#222" stroke-width="0.2">10<tspan dy="-1.4" font-size="2.8">2</tspan></text>
<text x="488.8" y="365.1" text-anchor="middle" font-size="4" fill="#222" stroke="#222" stroke-width="0.2">10<tspan dy="-1.4" font-size="2.8">3</tspan></text>
<text x="512.8" y="365.1" text-anchor="middle" font-size="4" fill="#222" stroke="#222" stroke-width="0.2">10<tspan dy="-1.4" font-size="2.8">4</tspan></text>
<path d="M89.1,472.2V400.2H516.3" fill="none" stroke="#7c7c7c" stroke-width="1.6"/>
<path d="M88.5,472.2H516.3V399.4" fill="none" stroke="#3a3a3a" stroke-width="1.2"/>
<text x="81.2" y="408.6" text-anchor="middle" font-size="11" fill="#111" stroke="#111" stroke-width="0.3">N</text>
<text x="81.2" y="421.3" text-anchor="middle" font-size="11" fill="#111" stroke="#111" stroke-width="0.3">O</text>
<text x="81.2" y="433.9" text-anchor="middle" font-size="11" fill="#111" stroke="#111" stroke-width="0.3">R</text>
<text x="81.2" y="446.6" text-anchor="middle" font-size="11" fill="#111" stroke="#111" stroke-width="0.3">M</text>
<text x="81.2" y="459.2" text-anchor="middle" font-size="11" fill="#111" stroke="#111" stroke-width="0.3">A</text>
<text x="81.2" y="471.9" text-anchor="middle" font-size="11" fill="#111" stroke="#111" stroke-width="0.3">L</text>
<text x="94.1" y="396.9" font-size="11.1" fill="#111" stroke="#111" stroke-width="0.5">HLA-A2</text>
<line x1="90.5" y1="466.5" x2="191.5" y2="466.5" stroke="#222" stroke-width="0.9" stroke-dasharray="2.2,0.8"/>
<path d="M94.5,455.9L95.5,453.9L96.5,450.9L97.5,449.6L98.5,446.1L99.5,444.2L100.5,441.8L101.5,441.1L102.5,438.5L103.5,434.9L104.5,431.5L105.5,427.2L106.5,425.0L107.5,419.5L108.5,413.5L109.5,411.3L110.5,408.5L111.5,409.1L112.5,411.6L113.5,413.3L114.5,418.5L115.5,422.2L116.5,424.6L117.5,431.2L118.5,434.3L119.5,438.0L120.5,442.3L121.5,443.3L122.5,444.5L123.5,445.4L124.5,448.1L125.5,451.5L126.5,453.4L127.5,456.1L128.5,457.5L129.5,459.9L130.5,461.2L131.5,462.9L132.5,463.6L133.5,464.3L134.5,464.9L135.5,465.3L136.5,465.3L137.5,465.3L138.5,465.3L139.5,465.3L140.5,465.3L141.5,465.4L142.5,465.3L143.5,465.4L144.5,465.4L145.5,465.4L146.5,465.4L147.5,465.4L148.5,465.5L149.5,465.5L150.5,465.5L151.5,465.5L152.5,465.6L153.5,465.6L154.5,465.5L155.5,465.6L156.5,465.6L157.5,465.6L158.5,465.6L159.5,465.7L160.5,465.7L161.5,465.7L162.5,465.7L163.5,465.7L164.5,465.7L165.5,465.7L166.5,465.7L167.5,465.8L168.5,465.8L169.5,465.8L170.5,465.8L171.5,465.9L172.5,465.9L173.5,465.9L174.5,465.9L175.5,465.9L176.5,465.9L177.5,466.0L178.5,466.0L179.5,466.0L180.5,466.0L181.5,466.0L182.5,466.0L183.5,466.1L184.5,466.1L185.5,466.1L186.5,466.1L187.5,466.1L188.5,466.1L189.5,466.2L190.5,466.2L191.5,466.2L192.5,466.2L193.5,466.2" fill="none" stroke="#555" stroke-width="1.05" stroke-dasharray="2,0.8"/>
<path d="M114.5,466.5L114.5,466.2L114.9,466.2L115.4,466.2L115.8,466.1L116.3,466.1L116.7,466.0L117.2,466.0L117.6,465.9L118.1,465.9L118.5,465.8L119.0,465.8L119.4,465.8L119.9,465.7L120.3,466.1L120.8,465.4L121.2,465.2L121.7,465.2L122.1,465.3L122.6,465.6L123.0,465.0L123.5,464.9L123.9,464.9L124.4,465.0L124.8,465.5L125.3,465.0L125.7,465.1L126.2,465.0L126.6,465.2L127.1,464.5L127.5,464.2L128.0,464.0L128.4,464.1L128.9,464.7L129.3,463.6L129.8,463.7L130.2,463.8L130.7,463.1L131.1,463.3L131.6,462.2L132.0,461.5L132.5,460.6L132.9,460.0L133.4,458.7L133.8,456.7L134.3,455.1L134.7,454.7L135.2,452.4L135.6,447.8L136.1,447.4L136.5,443.7L137.0,443.9L137.4,442.2L137.9,441.7L138.3,438.2L138.8,434.5L139.2,434.2L139.7,436.3L140.1,426.5L140.6,429.9L141.0,424.2L141.5,418.3L141.9,424.1L142.4,423.7L142.8,414.3L143.3,412.2L143.7,419.7L144.2,415.5L144.6,417.1L145.1,417.7L145.5,424.2L146.0,424.7L146.4,422.1L146.9,424.9L147.3,423.1L147.8,413.1L148.2,416.5L148.7,412.5L149.1,407.4L149.6,415.0L150.0,410.1L150.5,406.3L150.9,409.3L151.4,414.4L151.8,413.5L152.3,407.5L152.7,416.3L153.2,406.8L153.6,409.5L154.1,411.2L154.5,417.4L155.0,415.9L155.4,416.6L155.9,418.4L156.3,422.2L156.8,425.2L157.2,425.7L157.7,423.9L158.1,428.3L158.6,427.0L159.0,426.9L159.5,431.4L159.9,435.1L160.4,431.9L160.8,434.5L161.3,435.7L161.7,439.9L162.2,443.1L162.6,441.7L163.1,446.6L163.5,445.5L164.0,445.9L164.4,446.3L164.9,448.3L165.3,448.4L165.8,451.5L166.2,450.3L166.7,451.9L167.1,451.5L167.6,455.4L168.0,454.3L168.5,455.1L168.9,455.4L169.4,456.9L169.8,456.2L170.3,458.1L170.7,457.6L171.2,459.2L171.6,459.9L172.1,460.7L172.5,461.1L173.0,460.4L173.4,463.2L173.9,462.9L174.3,464.3L174.8,464.5L175.2,464.4L175.7,465.2L176.1,465.0L176.6,465.4L177.0,465.5L177.5,465.7L177.9,465.9L178.4,465.7L178.8,465.8L179.3,465.9L179.7,465.9L180.2,466.0L180.6,466.1L181.1,466.1L181.5,466.2L181.8,466.5Z" fill="#000"/>
<line x1="94.5" y1="405.6" x2="94.5" y2="466.5" stroke="#666" stroke-width="1"/>
<line x1="90.0" y1="466.5" x2="94.5" y2="466.5" stroke="#222" stroke-width="1"/>
<text x="95.3" y="470.6" text-anchor="middle" font-size="4" fill="#222" stroke="#222" stroke-width="0.2">10<tspan dy="-1.4" font-size="2.8">0</tspan></text>
<text x="119.3" y="470.6" text-anchor="middle" font-size="4" fill="#222" stroke="#222" stroke-width="0.2">10<tspan dy="-1.4" font-size="2.8">1</tspan></text>
<text x="143.4" y="470.6" text-anchor="middle" font-size="4" fill="#222" stroke="#222" stroke-width="0.2">10<tspan dy="-1.4" font-size="2.8">2</tspan></text>
<text x="167.4" y="470.6" text-anchor="middle" font-size="4" fill="#222" stroke="#222" stroke-width="0.2">10<tspan dy="-1.4" font-size="2.8">3</tspan></text>
<text x="191.5" y="470.6" text-anchor="middle" font-size="4" fill="#222" stroke="#222" stroke-width="0.2">10<tspan dy="-1.4" font-size="2.8">4</tspan></text>
<text x="201.1" y="396.9" font-size="11.1" fill="#111" stroke="#111" stroke-width="0.5">HLA-A28</text>
<line x1="197.5" y1="466.5" x2="298.5" y2="466.5" stroke="#222" stroke-width="0.9" stroke-dasharray="2.2,0.8"/>
<path d="M201.7,455.2L202.7,452.1L203.7,449.7L204.7,446.8L205.7,443.1L206.7,441.3L207.7,437.0L208.7,434.3L209.7,432.0L210.7,427.0L211.7,424.0L212.7,420.8L213.7,416.3L214.7,413.2L215.7,409.9L216.7,407.2L217.7,405.9L218.7,408.7L219.7,406.8L220.7,414.4L221.7,418.0L222.7,422.9L223.7,429.8L224.7,433.5L225.7,436.8L226.7,439.8L227.7,440.8L228.7,442.6L229.7,443.2L230.7,445.3L231.7,447.7L232.7,449.9L233.7,453.0L234.7,455.6L235.7,457.9L236.7,460.1L237.7,461.6L238.7,463.1L239.7,463.7L240.7,464.4L241.7,465.1L242.7,465.3L243.7,465.3L244.7,465.3L245.7,465.3L246.7,465.3L247.7,465.3L248.7,465.4L249.7,465.4L250.7,465.4L251.7,465.4L252.7,465.4L253.7,465.4L254.7,465.5L255.7,465.5L256.7,465.5L257.7,465.5L258.7,465.5L259.7,465.5L260.7,465.6L261.7,465.6L262.7,465.6L263.7,465.6L264.7,465.6L265.7,465.6L266.7,465.7L267.7,465.7L268.7,465.7L269.7,465.7L270.7,465.7L271.7,465.8L272.7,465.7L273.7,465.8L274.7,465.8L275.7,465.8L276.7,465.8L277.7,465.8L278.7,465.9L279.7,465.9L280.7,465.9L281.7,465.9L282.7,465.9L283.7,465.9L284.7,466.0L285.7,466.0L286.7,466.0L287.7,466.0L288.7,466.0L289.7,466.1L290.7,466.1L291.7,466.1L292.7,466.1L293.7,466.1L294.7,466.1L295.7,466.2L296.7,466.2L297.7,466.2L298.7,466.2L299.7,466.2L300.7,466.2" fill="none" stroke="#555" stroke-width="1.05" stroke-dasharray="2,0.8"/>
<path d="M219.5,466.5L219.5,466.2L219.9,466.2L220.4,466.1L220.8,466.0L221.3,465.9L221.7,465.9L222.2,465.8L222.6,465.7L223.1,466.0L223.5,465.4L224.0,465.3L224.4,465.2L224.9,465.7L225.3,465.6L225.8,465.6L226.2,464.8L226.7,464.8L227.1,464.7L227.6,464.3L228.0,464.9L228.5,464.6L228.9,464.2L229.4,464.1L229.8,464.0L230.3,463.2L230.7,463.4L231.2,463.4L231.6,463.9L232.1,462.3L232.5,461.8L233.0,461.9L233.4,461.2L233.9,461.6L234.3,461.6L234.8,461.8L235.2,460.8L235.7,460.2L236.1,459.7L236.6,460.9L237.0,459.8L237.5,459.6L237.9,459.3L238.4,456.0L238.8,455.7L239.3,453.8L239.7,450.7L240.2,450.0L240.6,447.5L241.1,445.9L241.5,442.1L242.0,444.5L242.4,439.1L242.9,439.4L243.3,437.2L243.8,436.1L244.2,435.5L244.7,430.0L245.1,426.7L245.6,426.0L246.0,431.0L246.5,430.3L246.9,429.9L247.4,429.5L247.8,428.0L248.3,423.4L248.7,419.1L249.2,417.4L249.6,421.4L250.1,414.0L250.5,415.4L251.0,421.8L251.4,416.2L251.9,416.6L252.3,421.2L252.8,422.9L253.2,419.3L253.7,413.0L254.1,409.5L254.6,409.0L255.0,415.7L255.5,417.1L255.9,416.8L256.4,418.5L256.8,419.5L257.3,415.4L257.7,415.6L258.2,415.6L258.6,412.3L259.1,408.7L259.5,415.2L260.0,410.5L260.4,412.6L260.9,423.5L261.3,420.6L261.8,424.8L262.2,419.3L262.7,422.1L263.1,428.6L263.6,422.8L264.0,421.8L264.5,430.9L264.9,429.6L265.4,434.9L265.8,436.2L266.3,433.2L266.7,438.1L267.2,436.3L267.6,440.6L268.1,443.6L268.5,445.1L269.0,442.9L269.4,442.5L269.9,445.0L270.3,449.2L270.8,447.5L271.2,448.8L271.7,447.8L272.1,452.8L272.6,454.9L273.0,456.0L273.5,455.3L273.9,457.7L274.4,459.4L274.8,459.7L275.3,458.8L275.7,460.8L276.2,460.4L276.6,460.6L277.1,461.3L277.5,461.5L278.0,462.7L278.4,462.2L278.9,463.5L279.3,463.1L279.8,463.6L280.2,464.3L280.7,464.4L281.1,464.7L281.6,465.4L282.0,465.8L282.5,465.4L282.9,465.3L283.4,465.4L283.8,465.7L284.3,465.9L284.7,466.0L285.2,466.1L285.6,466.2L285.7,466.5Z" fill="#000"/>
<line x1="201.5" y1="405.6" x2="201.5" y2="466.5" stroke="#666" stroke-width="1"/>
<line x1="197.0" y1="466.5" x2="201.5" y2="466.5" stroke="#222" stroke-width="1"/>
<text x="202.3" y="470.6" text-anchor="middle" font-size="4" fill="#222" stroke="#222" stroke-width="0.2">10<tspan dy="-1.4" font-size="2.8">0</tspan></text>
<text x="226.4" y="470.6" text-anchor="middle" font-size="4" fill="#222" stroke="#222" stroke-width="0.2">10<tspan dy="-1.4" font-size="2.8">1</tspan></text>
<text x="250.4" y="470.6" text-anchor="middle" font-size="4" fill="#222" stroke="#222" stroke-width="0.2">10<tspan dy="-1.4" font-size="2.8">2</tspan></text>
<text x="274.5" y="470.6" text-anchor="middle" font-size="4" fill="#222" stroke="#222" stroke-width="0.2">10<tspan dy="-1.4" font-size="2.8">3</tspan></text>
<text x="298.5" y="470.6" text-anchor="middle" font-size="4" fill="#222" stroke="#222" stroke-width="0.2">10<tspan dy="-1.4" font-size="2.8">4</tspan></text>
<text x="307.5" y="396.9" font-size="11.1" fill="#111" stroke="#111" stroke-width="0.5">HLA-B13</text>
<line x1="304.8" y1="466.5" x2="405.8" y2="466.5" stroke="#222" stroke-width="0.9" stroke-dasharray="2.2,0.8"/>
<path d="M308.7,456.1L309.7,453.2L310.7,451.2L311.7,447.6L312.7,445.5L313.7,442.7L314.7,439.0L315.7,434.5L316.7,431.5L317.7,428.6L318.7,423.4L319.7,420.1L320.7,417.2L321.7,414.2L322.7,409.6L323.7,406.8L324.7,409.6L325.7,406.0L326.7,407.5L327.7,411.6L328.7,415.7L329.7,422.2L330.7,426.9L331.7,432.6L332.7,435.1L333.7,440.9L334.7,441.0L335.7,442.8L336.7,443.0L337.7,444.3L338.7,447.0L339.7,450.5L340.7,453.8L341.7,456.2L342.7,459.1L343.7,461.1L344.7,463.2L345.7,464.5L346.7,465.0L347.7,465.6L348.7,465.6L349.7,465.6L350.7,465.6L351.7,465.7L352.7,465.7L353.7,465.7L354.7,465.7L355.7,465.7L356.7,465.7L357.7,465.7L358.7,465.8L359.7,465.8L360.7,465.8L361.7,465.8L362.7,465.8L363.7,465.8L364.7,465.8L365.7,465.8L366.7,465.8L367.7,465.8L368.7,465.9L369.7,465.8L370.7,465.8L371.7,465.9L372.7,465.9L373.7,465.9L374.7,465.9L375.7,465.9L376.7,465.9L377.7,465.9L378.7,465.9L379.7,466.0L380.7,466.0L381.7,466.0L382.7,466.0L383.7,466.0L384.7,466.0L385.7,466.0L386.7,466.0L387.7,466.0L388.7,466.0L389.7,466.1L390.7,466.1L391.7,466.1L392.7,466.1L393.7,466.1L394.7,466.1L395.7,466.1L396.7,466.1L397.7,466.1L398.7,466.1L399.7,466.2L400.7,466.2L401.7,466.2L402.7,466.2L403.7,466.2L404.7,466.2L405.7,466.2L406.7,466.2L407.7,466.2" fill="none" stroke="#555" stroke-width="1.05" stroke-dasharray="2,0.8"/>
<path d="M355.0,466.5L355.0,466.2L355.4,466.1L355.9,466.0L356.3,465.9L356.8,465.8L357.2,466.0L357.7,465.4L358.1,465.6L358.6,465.0L359.0,465.2L359.5,464.6L359.9,464.0L360.4,464.4L360.8,463.4L361.3,463.7L361.7,463.5L362.2,462.7L362.6,462.8L363.1,462.3L363.5,461.5L364.0,460.6L364.4,459.4L364.9,459.1L365.3,458.0L365.8,455.9L366.2,454.1L366.7,454.4L367.1,452.0L367.6,450.4L368.0,447.7L368.5,447.3L368.9,443.1L369.4,441.2L369.8,439.7L370.3,433.1L370.7,430.6L371.2,427.8L371.6,425.0L372.1,422.6L372.5,420.5L373.0,419.8L373.4,413.5L373.9,413.9L374.3,411.7L374.8,412.3L375.2,413.3L375.7,406.9L376.1,404.4L376.6,410.2L377.0,409.4L377.5,408.4L377.9,409.5L378.4,409.9L378.8,406.1L379.3,409.8L379.7,407.3L380.2,412.0L380.6,407.5L381.1,412.7L381.5,410.7L382.0,413.0L382.4,419.0L382.9,418.0L383.3,417.9L383.8,423.7L384.2,427.7L384.7,431.0L385.1,433.3L385.6,438.2L386.0,437.3L386.5,442.6L386.9,444.5L387.4,445.0L387.8,448.4L388.3,449.4L388.7,453.3L389.2,454.0L389.6,456.2L390.1,457.2L390.5,459.1L391.0,459.6L391.4,460.0L391.9,461.4L392.3,462.0L392.8,462.7L393.2,463.3L393.7,463.8L394.1,464.1L394.6,463.7L395.0,464.4L395.5,464.3L395.9,464.5L396.4,464.8L396.8,465.7L397.3,465.1L397.7,465.3L398.2,465.0L398.6,465.6L399.1,465.4L399.5,465.4L400.0,465.7L400.4,465.8L400.9,465.8L401.3,465.7L401.8,466.1L402.2,464.6L402.7,465.7L403.1,464.1L403.6,457.4L404.0,458.8L404.5,461.5L404.7,466.5Z" fill="#000"/>
<line x1="308.8" y1="405.6" x2="308.8" y2="466.5" stroke="#666" stroke-width="1"/>
<line x1="304.3" y1="466.5" x2="308.8" y2="466.5" stroke="#222" stroke-width="1"/>
<text x="309.6" y="470.6" text-anchor="middle" font-size="4" fill="#222" stroke="#222" stroke-width="0.2">10<tspan dy="-1.4" font-size="2.8">0</tspan></text>
<text x="333.7" y="470.6" text-anchor="middle" font-size="4" fill="#222" stroke="#222" stroke-width="0.2">10<tspan dy="-1.4" font-size="2.8">1</tspan></text>
<text x="357.7" y="470.6" text-anchor="middle" font-size="4" fill="#222" stroke="#222" stroke-width="0.2">10<tspan dy="-1.4" font-size="2.8">2</tspan></text>
<text x="381.8" y="470.6" text-anchor="middle" font-size="4" fill="#222" stroke="#222" stroke-width="0.2">10<tspan dy="-1.4" font-size="2.8">3</tspan></text>
<text x="405.8" y="470.6" text-anchor="middle" font-size="4" fill="#222" stroke="#222" stroke-width="0.2">10<tspan dy="-1.4" font-size="2.8">4</tspan></text>
<text x="414.2" y="396.9" font-size="11.1" fill="#111" stroke="#111" stroke-width="0.5">HLA-B18</text>
<line x1="411.8" y1="466.5" x2="512.8" y2="466.5" stroke="#222" stroke-width="0.9" stroke-dasharray="2.2,0.8"/>
<path d="M415.7,454.3L416.7,451.3L417.7,447.9L418.7,445.4L419.7,443.5L420.7,439.8L421.7,437.1L422.7,434.2L423.7,431.3L424.7,426.2L425.7,422.1L426.7,417.7L427.7,416.4L428.7,410.6L429.7,410.0L430.7,405.6L431.7,405.0L432.7,406.9L433.7,408.1L434.7,413.4L435.7,418.3L436.7,425.5L437.7,430.5L438.7,435.0L439.7,436.0L440.7,439.5L441.7,440.8L442.7,442.8L443.7,442.5L444.7,444.3L445.7,447.1L446.7,450.7L447.7,453.7L448.7,456.2L449.7,458.5L450.7,461.1L451.7,462.5L452.7,464.1L453.7,464.6L454.7,465.1L455.7,465.5L456.7,465.7L457.7,465.6L458.7,465.7L459.7,465.7L460.7,465.7L461.7,465.7L462.7,465.7L463.7,465.7L464.7,465.7L465.7,465.7L466.7,465.7L467.7,465.8L468.7,465.7L469.7,465.8L470.7,465.8L471.7,465.8L472.7,465.8L473.7,465.8L474.7,465.8L475.7,465.9L476.7,465.9L477.7,465.8L478.7,465.9L479.7,465.9L480.7,465.9L481.7,465.9L482.7,465.9L483.7,465.9L484.7,465.9L485.7,465.9L486.7,465.9L487.7,466.0L488.7,466.0L489.7,466.0L490.7,466.0L491.7,466.0L492.7,466.0L493.7,466.0L494.7,466.0L495.7,466.1L496.7,466.1L497.7,466.1L498.7,466.1L499.7,466.1L500.7,466.1L501.7,466.1L502.7,466.1L503.7,466.1L504.7,466.1L505.7,466.1L506.7,466.2L507.7,466.2L508.7,466.2L509.7,466.2L510.7,466.2L511.7,466.2L512.7,466.2L513.7,466.2L514.7,466.2" fill="none" stroke="#555" stroke-width="1.05" stroke-dasharray="2,0.8"/>
<path d="M455.9,466.5L455.9,466.2L456.3,466.2L456.8,466.1L457.2,466.0L457.7,465.9L458.1,465.9L458.6,465.8L459.0,465.7L459.5,465.6L459.9,465.6L460.4,465.6L460.8,465.3L461.3,465.7L461.7,465.4L462.2,464.8L462.6,464.9L463.1,465.3L463.5,464.8L464.0,464.8L464.4,463.8L464.9,464.1L465.3,464.0L465.8,464.0L466.2,463.7L466.7,463.0L467.1,461.5L467.6,460.2L468.0,460.2L468.5,459.8L468.9,457.1L469.4,455.9L469.8,453.3L470.3,451.6L470.7,451.0L471.2,447.9L471.6,445.7L472.1,445.3L472.5,441.5L473.0,439.2L473.4,436.3L473.9,433.5L474.3,427.3L474.8,428.2L475.2,424.0L475.7,422.3L476.1,417.5L476.6,414.6L477.0,416.8L477.5,415.5L477.9,413.6L478.4,410.8L478.8,409.9L479.3,406.8L479.7,410.2L480.2,409.0L480.6,406.4L481.1,410.1L481.5,411.0L482.0,413.7L482.4,415.0L482.9,416.1L483.3,420.4L483.8,418.8L484.2,422.1L484.7,421.7L485.1,423.8L485.6,426.9L486.0,427.6L486.5,428.7L486.9,428.9L487.4,428.6L487.8,429.9L488.3,432.3L488.7,433.4L489.2,434.7L489.6,437.8L490.1,437.7L490.5,440.1L491.0,442.5L491.4,444.2L491.9,445.7L492.3,447.8L492.8,449.2L493.2,450.4L493.7,450.8L494.1,453.4L494.6,454.5L495.0,455.8L495.5,457.2L495.9,458.6L496.4,459.3L496.8,460.2L497.3,461.3L497.7,462.4L498.2,462.3L498.6,462.9L499.1,463.4L499.5,463.8L500.0,463.8L500.4,464.1L500.9,464.5L501.3,465.1L501.8,465.4L502.2,465.3L502.7,465.4L503.1,465.0L503.6,465.5L504.0,465.5L504.5,465.5L504.9,465.2L505.4,465.5L505.8,465.1L506.3,465.8L506.7,465.7L507.2,465.8L507.6,465.9L508.1,465.9L508.5,466.0L509.0,466.0L509.4,466.1L509.9,466.1L510.3,466.2L510.8,466.2L510.9,466.5Z" fill="#000"/>
<line x1="415.8" y1="405.6" x2="415.8" y2="466.5" stroke="#666" stroke-width="1"/>
<line x1="411.3" y1="466.5" x2="415.8" y2="466.5" stroke="#222" stroke-width="1"/>
<text x="416.6" y="470.6" text-anchor="middle" font-size="4" fill="#222" stroke="#222" stroke-width="0.2">10<tspan dy="-1.4" font-size="2.8">0</tspan></text>
<text x="440.7" y="470.6" text-anchor="middle" font-size="4" fill="#222" stroke="#222" stroke-width="0.2">10<tspan dy="-1.4" font-size="2.8">1</tspan></text>
<text x="464.7" y="470.6" text-anchor="middle" font-size="4" fill="#222" stroke="#222" stroke-width="0.2">10<tspan dy="-1.4" font-size="2.8">2</tspan></text>
<text x="488.8" y="470.6" text-anchor="middle" font-size="4" fill="#222" stroke="#222" stroke-width="0.2">10<tspan dy="-1.4" font-size="2.8">3</tspan></text>
<text x="512.8" y="470.6" text-anchor="middle" font-size="4" fill="#222" stroke="#222" stroke-width="0.2">10<tspan dy="-1.4" font-size="2.8">4</tspan></text>
<path d="M89.1,561.8000000000001V489.7H516.3" fill="none" stroke="#7c7c7c" stroke-width="1.6"/>
<path d="M88.5,561.8000000000001H516.3V488.9" fill="none" stroke="#3a3a3a" stroke-width="1.2"/>
<text x="81.2" y="504.1" text-anchor="middle" font-size="11" fill="#111" stroke="#111" stroke-width="0.3">T</text>
<text x="81.2" y="517.1" text-anchor="middle" font-size="11" fill="#111" stroke="#111" stroke-width="0.3">U</text>
<text x="81.2" y="530.0" text-anchor="middle" font-size="11" fill="#111" stroke="#111" stroke-width="0.3">M</text>
<text x="81.2" y="543.0" text-anchor="middle" font-size="11" fill="#111" stroke="#111" stroke-width="0.3">O</text>
<text x="81.2" y="555.9" text-anchor="middle" font-size="11" fill="#111" stroke="#111" stroke-width="0.3">R</text>
<text x="94.1" y="486" font-size="11.1" fill="#111" stroke="#111" stroke-width="0.5">HLA-A2</text>
<line x1="90.5" y1="556.1" x2="191.5" y2="556.1" stroke="#222" stroke-width="0.9" stroke-dasharray="2.2,0.8"/>
<path d="M94.7,543.6L95.7,541.0L96.7,538.3L97.7,536.6L98.7,535.3L99.7,532.1L100.7,528.7L101.7,527.2L102.7,524.3L103.7,521.1L104.7,517.2L105.7,512.9L106.7,509.6L107.7,506.0L108.7,502.4L109.7,498.3L110.7,496.5L111.7,500.8L112.7,500.7L113.7,504.5L114.7,507.5L115.7,511.0L116.7,514.5L117.7,519.4L118.7,524.2L119.7,526.6L120.7,529.9L121.7,530.8L122.7,533.8L123.7,536.8L124.7,538.8L125.7,541.4L126.7,543.6L127.7,546.5L128.7,548.2L129.7,549.6L130.7,550.1L131.7,550.3L132.7,550.3L133.7,550.4L134.7,550.4L135.7,550.3L136.7,550.6L137.7,550.9L138.7,551.9L139.7,552.7L140.7,553.6L141.7,554.1L142.7,554.5L143.7,554.7L144.7,555.2L145.7,555.2L146.7,555.2L147.7,555.2L148.7,555.3L149.7,555.3L150.7,555.3L151.7,555.3L152.7,555.3L153.7,555.3L154.7,555.3L155.7,555.3L156.7,555.4L157.7,555.3L158.7,555.4L159.7,555.4L160.7,555.4L161.7,555.4L162.7,555.4L163.7,555.4L164.7,555.4L165.7,555.4L166.7,555.4L167.7,555.4L168.7,555.4L169.7,555.4L170.7,555.5L171.7,555.5L172.7,555.5L173.7,555.5L174.7,555.5L175.7,555.5L176.7,555.5L177.7,555.5L178.7,555.5L179.7,555.5L180.7,555.5L181.7,555.5L182.7,555.6L183.7,555.6L184.7,555.6L185.7,555.6L186.7,555.6L187.7,555.6L188.7,555.6L189.7,555.6L190.7,555.6L191.7,555.6L192.7,555.6L193.7,555.7" fill="none" stroke="#555" stroke-width="1.05" stroke-dasharray="2,0.8"/>
<path d="M98.2,556.1L98.2,555.7L98.6,555.6L99.1,555.5L99.5,555.4L100.0,555.4L100.4,555.2L100.9,554.7L101.3,554.6L101.8,554.5L102.2,554.6L102.7,554.8L103.1,554.3L103.6,554.4L104.0,555.0L104.5,554.4L104.9,554.4L105.4,554.9L105.8,554.5L106.3,554.1L106.7,554.4L107.2,554.1L107.6,554.5L108.1,554.1L108.5,554.1L109.0,554.0L109.4,554.7L109.9,554.7L110.3,553.5L110.8,554.2L111.2,554.0L111.7,554.4L112.1,554.4L112.6,554.5L113.0,554.2L113.5,554.3L113.9,554.7L114.4,554.6L114.8,553.6L115.3,553.9L115.7,554.5L116.2,554.0L116.6,554.0L117.1,554.2L117.5,553.3L118.0,553.7L118.4,554.0L118.9,554.4L119.3,553.9L119.8,554.1L120.2,553.7L120.7,553.4L121.1,553.8L121.6,554.4L122.0,553.4L122.5,553.7L122.9,553.7L123.4,553.5L123.8,554.2L124.3,553.7L124.7,553.4L125.2,554.4L125.6,554.0L126.1,554.1L126.5,554.1L127.0,553.5L127.4,553.8L127.9,553.4L128.3,553.7L128.8,553.5L129.2,553.4L129.7,553.8L130.1,553.6L130.6,553.5L131.0,554.0L131.5,553.8L131.9,553.8L132.4,554.0L132.8,553.1L133.3,553.3L133.7,553.8L134.2,553.4L134.6,553.7L135.1,552.9L135.5,552.5L136.0,552.4L136.4,551.9L136.9,551.6L137.3,551.7L137.8,550.7L138.2,550.2L138.7,549.9L139.1,548.1L139.6,547.3L140.0,544.4L140.5,543.2L140.9,540.2L141.4,537.1L141.8,535.1L142.3,530.2L142.7,525.3L143.2,523.9L143.6,518.4L144.1,513.4L144.5,511.3L145.0,509.5L145.4,507.2L145.9,501.8L146.3,499.9L146.8,498.8L147.2,498.9L147.7,496.5L148.1,498.7L148.6,499.8L149.0,504.3L149.5,510.1L149.9,508.9L150.4,512.2L150.8,519.1L151.3,521.1L151.7,524.6L152.2,527.8L152.6,530.4L153.1,532.3L153.5,534.9L154.0,536.0L154.4,536.3L154.9,537.8L155.3,539.5L155.8,539.6L156.2,542.4L156.7,542.0L157.1,541.2L157.6,542.8L158.0,543.4L158.5,541.5L158.9,542.3L159.4,539.8L159.8,540.0L160.3,539.1L160.7,538.8L161.2,536.3L161.6,534.9L162.1,533.2L162.5,530.9L163.0,530.5L163.4,526.9L163.9,525.6L164.3,527.6L164.8,527.8L165.2,529.4L165.7,531.3L166.1,533.3L166.6,533.3L167.0,535.1L167.5,537.7L167.9,536.2L168.4,538.5L168.8,536.8L169.3,539.1L169.7,537.5L170.2,539.6L170.6,542.4L171.1,542.1L171.5,543.6L172.0,545.6L172.4,547.1L172.9,547.3L173.3,549.2L173.8,549.6L174.2,550.5L174.7,551.3L175.1,551.7L175.6,551.9L176.0,552.9L176.5,552.9L176.9,553.6L177.4,553.1L177.8,554.4L178.3,553.8L178.7,554.0L179.2,553.7L179.6,554.6L180.1,554.3L180.5,554.2L181.0,555.0L181.4,554.1L181.9,555.1L182.3,555.1L182.8,554.4L183.2,554.6L183.7,554.9L184.1,554.6L184.6,555.2L185.0,555.6L185.5,554.8L185.9,555.3L186.4,555.4L186.8,555.5L187.3,555.6L187.7,555.6L187.9,556.1Z" fill="#000"/>
<line x1="94.5" y1="495.1" x2="94.5" y2="556.1" stroke="#666" stroke-width="1"/>
<line x1="90.0" y1="556.1" x2="94.5" y2="556.1" stroke="#222" stroke-width="1"/>
<text x="95.3" y="560.2" text-anchor="middle" font-size="4" fill="#222" stroke="#222" stroke-width="0.2">10<tspan dy="-1.4" font-size="2.8">0</tspan></text>
<text x="119.3" y="560.2" text-anchor="middle" font-size="4" fill="#222" stroke="#222" stroke-width="0.2">10<tspan dy="-1.4" font-size="2.8">1</tspan></text>
<text x="143.4" y="560.2" text-anchor="middle" font-size="4" fill="#222" stroke="#222" stroke-width="0.2">10<tspan dy="-1.4" font-size="2.8">2</tspan></text>
<text x="167.4" y="560.2" text-anchor="middle" font-size="4" fill="#222" stroke="#222" stroke-width="0.2">10<tspan dy="-1.4" font-size="2.8">3</tspan></text>
<text x="191.5" y="560.2" text-anchor="middle" font-size="4" fill="#222" stroke="#222" stroke-width="0.2">10<tspan dy="-1.4" font-size="2.8">4</tspan></text>
<text x="201.1" y="486" font-size="11.1" fill="#111" stroke="#111" stroke-width="0.5">HLA-A28</text>
<line x1="197.5" y1="556.1" x2="298.5" y2="556.1" stroke="#222" stroke-width="0.9" stroke-dasharray="2.2,0.8"/>
<path d="M201.7,526.1L202.7,523.3L203.7,520.8L204.7,517.6L205.7,512.2L206.7,508.0L207.7,507.4L208.7,502.5L209.7,499.9L210.7,499.7L211.7,495.9L212.7,497.0L213.7,499.7L214.7,501.1L215.7,499.4L216.7,505.0L217.7,508.7L218.7,511.3L219.7,514.5L220.7,519.2L221.7,520.3L222.7,524.4L223.7,526.0L224.7,528.7L225.7,531.0L226.7,531.3L227.7,533.9L228.7,534.2L229.7,535.7L230.7,538.0L231.7,541.1L232.7,543.1L233.7,546.4L234.7,547.9L235.7,549.3L236.7,549.9L237.7,549.7L238.7,549.9L239.7,550.6L240.7,551.3L241.7,551.7L242.7,551.7L243.7,551.3L244.7,551.2L245.7,551.9L246.7,552.3L247.7,552.9L248.7,553.3L249.7,553.6L250.7,554.1L251.7,554.5L252.7,554.6L253.7,554.9L254.7,555.1L255.7,555.3L256.7,555.2L257.7,555.3L258.7,555.3L259.7,555.3L260.7,555.3L261.7,555.3L262.7,555.3L263.7,555.3L264.7,555.3L265.7,555.3L266.7,555.4L267.7,555.4L268.7,555.4L269.7,555.4L270.7,555.4L271.7,555.4L272.7,555.4L273.7,555.4L274.7,555.4L275.7,555.4L276.7,555.5L277.7,555.5L278.7,555.4L279.7,555.5L280.7,555.5L281.7,555.5L282.7,555.5L283.7,555.5L284.7,555.5L285.7,555.5L286.7,555.5L287.7,555.5L288.7,555.5L289.7,555.6L290.7,555.5L291.7,555.6L292.7,555.6L293.7,555.6L294.7,555.6L295.7,555.6L296.7,555.6L297.7,555.6L298.7,555.6L299.7,555.6L300.7,555.7" fill="none" stroke="#555" stroke-width="1.05" stroke-dasharray="2,0.8"/>
<path d="M201.7,556.1L201.7,526.5L202.2,527.1L202.6,524.7L203.1,524.5L203.5,526.5L204.0,519.2L204.4,518.6L204.9,516.9L205.3,511.4L205.8,510.9L206.2,511.0L206.7,505.1L207.1,506.5L207.6,506.6L208.0,505.5L208.5,507.6L208.9,506.7L209.4,506.3L209.8,495.0L210.3,493.9L210.7,498.8L211.2,492.0L211.6,502.8L212.1,492.7L212.5,502.4L213.0,501.3L213.4,493.7L213.9,495.5L214.3,496.8L214.8,498.5L215.2,498.8L215.7,499.2L216.1,503.3L216.6,503.5L217.0,509.6L217.5,513.8L217.9,512.3L218.4,518.9L218.8,519.3L219.3,524.1L219.7,526.4L220.2,527.7L220.6,534.1L221.1,536.6L221.5,535.7L222.0,539.5L222.4,538.3L222.9,541.0L223.3,541.8L223.8,542.4L224.2,544.3L224.7,542.8L225.1,544.3L225.6,544.8L226.0,545.7L226.5,544.8L226.9,547.1L227.4,546.0L227.8,547.9L228.3,548.3L228.7,548.7L229.2,549.4L229.6,551.4L230.1,551.5L230.5,551.7L231.0,551.8L231.4,551.8L231.9,553.4L232.3,553.5L232.8,554.0L233.2,553.3L233.7,554.0L234.1,553.6L234.6,554.2L235.0,553.4L235.5,554.3L235.9,554.0L236.4,554.4L236.8,554.9L237.3,554.6L237.7,554.8L238.2,554.8L238.6,555.1L239.1,554.2L239.5,555.5L240.0,554.9L240.4,554.7L240.9,555.3L241.3,555.3L241.8,555.4L242.2,555.4L242.7,555.4L243.1,555.5L243.6,555.5L244.0,555.5L244.5,555.6L244.9,555.6L245.4,555.6L245.8,555.6L246.0,556.1Z" fill="#000"/>
<line x1="201.5" y1="495.1" x2="201.5" y2="556.1" stroke="#666" stroke-width="1"/>
<line x1="197.0" y1="556.1" x2="201.5" y2="556.1" stroke="#222" stroke-width="1"/>
<text x="202.3" y="560.2" text-anchor="middle" font-size="4" fill="#222" stroke="#222" stroke-width="0.2">10<tspan dy="-1.4" font-size="2.8">0</tspan></text>
<text x="226.4" y="560.2" text-anchor="middle" font-size="4" fill="#222" stroke="#222" stroke-width="0.2">10<tspan dy="-1.4" font-size="2.8">1</tspan></text>
<text x="250.4" y="560.2" text-anchor="middle" font-size="4" fill="#222" stroke="#222" stroke-width="0.2">10<tspan dy="-1.4" font-size="2.8">2</tspan></text>
<text x="274.5" y="560.2" text-anchor="middle" font-size="4" fill="#222" stroke="#222" stroke-width="0.2">10<tspan dy="-1.4" font-size="2.8">3</tspan></text>
<text x="298.5" y="560.2" text-anchor="middle" font-size="4" fill="#222" stroke="#222" stroke-width="0.2">10<tspan dy="-1.4" font-size="2.8">4</tspan></text>
<text x="307.5" y="486" font-size="11.1" fill="#111" stroke="#111" stroke-width="0.5">HLA-B13</text>
<line x1="304.8" y1="556.1" x2="405.8" y2="556.1" stroke="#222" stroke-width="0.9" stroke-dasharray="2.2,0.8"/>
<path d="M308.7,543.5L309.7,540.6L310.7,537.5L311.7,534.8L312.7,533.0L313.7,529.9L314.7,527.6L315.7,522.4L316.7,518.2L317.7,515.8L318.7,511.5L319.7,510.2L320.7,505.7L321.7,502.4L322.7,497.8L323.7,497.5L324.7,497.2L325.7,501.8L326.7,503.5L327.7,506.5L328.7,509.7L329.7,512.4L330.7,514.4L331.7,518.2L332.7,521.0L333.7,523.8L334.7,528.3L335.7,530.5L336.7,531.6L337.7,533.0L338.7,534.4L339.7,537.4L340.7,539.5L341.7,543.5L342.7,545.6L343.7,547.7L344.7,550.2L345.7,552.0L346.7,552.8L347.7,553.8L348.7,554.6L349.7,554.6L350.7,554.7L351.7,554.6L352.7,554.7L353.7,554.7L354.7,554.8L355.7,554.8L356.7,554.7L357.7,554.8L358.7,554.8L359.7,554.8L360.7,554.8L361.7,554.8L362.7,554.9L363.7,554.9L364.7,554.9L365.7,554.9L366.7,554.9L367.7,555.0L368.7,555.0L369.7,555.0L370.7,555.0L371.7,555.0L372.7,555.0L373.7,555.0L374.7,555.0L375.7,555.1L376.7,555.1L377.7,555.1L378.7,555.2L379.7,555.1L380.7,555.2L381.7,555.2L382.7,555.2L383.7,555.3L384.7,555.2L385.7,555.3L386.7,555.3L387.7,555.3L388.7,555.3L389.7,555.4L390.7,555.3L391.7,555.4L392.7,555.4L393.7,555.4L394.7,555.4L395.7,555.4L396.7,555.5L397.7,555.5L398.7,555.5L399.7,555.5L400.7,555.5L401.7,555.6L402.7,555.6L403.7,555.6L404.7,555.6L405.7,555.6L406.7,555.6L407.7,555.6" fill="none" stroke="#555" stroke-width="1.05" stroke-dasharray="2,0.8"/>
<path d="M314.2,556.1L314.2,555.7L314.7,555.5L315.1,555.4L315.6,555.3L316.0,555.0L316.5,555.1L316.9,554.5L317.4,555.1L317.8,555.0L318.3,554.7L318.7,554.6L319.2,554.0L319.6,554.1L320.1,554.5L320.5,554.3L321.0,553.3L321.4,554.1L321.9,553.0L322.3,553.7L322.8,553.3L323.2,552.9L323.7,553.0L324.1,552.1L324.6,551.9L325.0,551.8L325.5,551.6L325.9,551.6L326.4,550.6L326.8,551.5L327.3,550.4L327.7,549.9L328.2,550.2L328.6,549.5L329.1,548.8L329.5,548.5L330.0,547.6L330.4,547.8L330.9,547.1L331.3,547.2L331.8,545.8L332.2,545.3L332.7,544.7L333.1,544.0L333.6,544.1L334.0,543.1L334.5,542.5L334.9,541.5L335.4,540.7L335.8,541.7L336.3,540.4L336.7,540.8L337.2,539.1L337.6,538.5L338.1,537.0L338.5,538.5L339.0,537.2L339.4,535.0L339.9,533.6L340.3,531.9L340.8,531.1L341.2,532.1L341.7,529.3L342.1,527.4L342.6,525.2L343.0,525.9L343.5,523.3L343.9,524.8L344.4,522.2L344.8,521.3L345.3,520.9L345.7,519.8L346.2,518.6L346.6,518.9L347.1,519.1L347.5,514.6L348.0,513.0L348.4,516.8L348.9,513.4L349.3,508.8L349.8,507.6L350.2,509.4L350.7,511.1L351.1,507.8L351.6,505.2L352.0,507.4L352.5,505.5L352.9,506.7L353.4,501.0L353.8,505.4L354.3,504.4L354.7,501.7L355.2,504.1L355.6,496.9L356.1,497.3L356.5,499.7L357.0,499.3L357.4,502.1L357.9,498.5L358.3,497.5L358.8,499.6L359.2,499.0L359.7,500.4L360.1,504.4L360.6,498.9L361.0,503.4L361.5,503.2L361.9,506.0L362.4,502.4L362.8,502.6L363.3,504.7L363.7,506.9L364.2,506.0L364.6,510.3L365.1,512.2L365.5,511.7L366.0,512.0L366.4,516.5L366.9,515.8L367.3,520.3L367.8,522.7L368.2,523.0L368.7,522.8L369.1,524.9L369.6,528.0L370.0,530.9L370.5,532.4L370.9,534.4L371.4,537.3L371.8,537.5L372.3,539.2L372.7,541.3L373.2,541.4L373.6,543.2L374.1,545.3L374.5,547.0L375.0,546.4L375.4,548.4L375.9,549.9L376.3,550.7L376.8,551.4L377.2,551.3L377.7,552.9L378.1,553.4L378.6,553.1L379.0,554.2L379.5,553.2L379.9,554.2L380.4,555.0L380.8,554.9L381.3,554.6L381.7,555.5L382.2,555.5L382.6,554.3L383.1,555.3L383.5,555.4L384.0,555.4L384.4,555.5L384.9,555.6L385.3,555.6L385.6,556.1Z" fill="#000"/>
<line x1="308.8" y1="495.1" x2="308.8" y2="556.1" stroke="#666" stroke-width="1"/>
<line x1="304.3" y1="556.1" x2="308.8" y2="556.1" stroke="#222" stroke-width="1"/>
<text x="309.6" y="560.2" text-anchor="middle" font-size="4" fill="#222" stroke="#222" stroke-width="0.2">10<tspan dy="-1.4" font-size="2.8">0</tspan></text>
<text x="333.7" y="560.2" text-anchor="middle" font-size="4" fill="#222" stroke="#222" stroke-width="0.2">10<tspan dy="-1.4" font-size="2.8">1</tspan></text>
<text x="357.7" y="560.2" text-anchor="middle" font-size="4" fill="#222" stroke="#222" stroke-width="0.2">10<tspan dy="-1.4" font-size="2.8">2</tspan></text>
<text x="381.8" y="560.2" text-anchor="middle" font-size="4" fill="#222" stroke="#222" stroke-width="0.2">10<tspan dy="-1.4" font-size="2.8">3</tspan></text>
<text x="405.8" y="560.2" text-anchor="middle" font-size="4" fill="#222" stroke="#222" stroke-width="0.2">10<tspan dy="-1.4" font-size="2.8">4</tspan></text>
<text x="414.2" y="486" font-size="11.1" fill="#111" stroke="#111" stroke-width="0.5">HLA-B18</text>
<line x1="411.8" y1="556.1" x2="512.8" y2="556.1" stroke="#222" stroke-width="0.9" stroke-dasharray="2.2,0.8"/>
<path d="M415.7,542.6L416.7,540.0L417.7,538.1L418.7,535.6L419.7,532.0L420.7,529.3L421.7,525.7L422.7,522.6L423.7,519.0L424.7,514.4L425.7,512.6L426.7,507.1L427.7,503.9L428.7,500.5L429.7,497.8L430.7,493.9L431.7,497.5L432.7,501.0L433.7,501.2L434.7,505.8L435.7,511.0L436.7,512.3L437.7,518.7L438.7,520.3L439.7,522.4L440.7,526.1L441.7,529.4L442.7,530.7L443.7,533.8L444.7,537.0L445.7,538.7L446.7,541.2L447.7,544.0L448.7,545.7L449.7,547.2L450.7,549.1L451.7,550.5L452.7,551.7L453.7,553.2L454.7,554.0L455.7,554.4L456.7,554.8L457.7,555.2L458.7,555.2L459.7,555.3L460.7,555.3L461.7,555.3L462.7,555.3L463.7,555.3L464.7,555.3L465.7,555.3L466.7,555.3L467.7,555.3L468.7,555.4L469.7,555.3L470.7,555.3L471.7,555.3L472.7,555.4L473.7,555.4L474.7,555.3L475.7,555.4L476.7,555.4L477.7,555.4L478.7,555.4L479.7,555.4L480.7,555.4L481.7,555.4L482.7,555.4L483.7,555.4L484.7,555.5L485.7,555.4L486.7,555.5L487.7,555.5L488.7,555.5L489.7,555.5L490.7,555.5L491.7,555.5L492.7,555.5L493.7,555.5L494.7,555.5L495.7,555.5L496.7,555.5L497.7,555.5L498.7,555.5L499.7,555.5L500.7,555.5L501.7,555.5L502.7,555.6L503.7,555.6L504.7,555.6L505.7,555.6L506.7,555.6L507.7,555.6L508.7,555.6L509.7,555.6L510.7,555.6L511.7,555.6L512.7,555.6L513.7,555.6L514.7,555.6" fill="none" stroke="#555" stroke-width="1.05" stroke-dasharray="2,0.8"/>
<path d="M433.5,556.1L433.5,555.7L433.9,555.6L434.4,555.5L434.8,555.4L435.3,555.4L435.7,555.3L436.2,555.1L436.6,554.7L437.1,553.9L437.5,555.3L438.0,555.2L438.4,554.7L438.9,554.2L439.3,554.4L439.8,554.9L440.2,554.5L440.7,554.8L441.1,554.9L441.6,553.3L442.0,554.6L442.5,554.7L442.9,554.3L443.4,554.1L443.8,554.2L444.3,553.9L444.7,554.5L445.2,554.1L445.6,554.2L446.1,553.4L446.5,553.4L447.0,554.0L447.4,553.5L447.9,552.4L448.3,553.2L448.8,553.1L449.2,552.1L449.7,553.0L450.1,552.2L450.6,551.1L451.0,551.7L451.5,551.0L451.9,551.0L452.4,550.2L452.8,550.7L453.3,548.8L453.7,547.7L454.2,546.9L454.6,546.8L455.1,546.1L455.5,544.6L456.0,541.5L456.4,538.6L456.9,537.8L457.3,534.5L457.8,532.2L458.2,524.9L458.7,523.8L459.1,519.9L459.6,518.0L460.0,515.6L460.5,513.4L460.9,511.9L461.4,503.2L461.8,502.6L462.3,496.5L462.7,501.5L463.2,495.9L463.6,503.4L464.1,500.2L464.5,498.0L465.0,506.1L465.4,505.5L465.9,496.6L466.3,505.4L466.8,498.6L467.2,504.7L467.7,505.3L468.1,513.1L468.6,512.8L469.0,512.4L469.5,509.0L469.9,517.3L470.4,516.9L470.8,514.1L471.3,519.0L471.7,516.6L472.2,524.1L472.6,525.2L473.1,524.8L473.5,522.1L474.0,521.7L474.4,524.2L474.9,519.6L475.3,525.1L475.8,524.3L476.2,519.0L476.7,516.1L477.1,517.7L477.6,515.3L478.0,518.5L478.5,514.8L478.9,514.6L479.4,517.3L479.8,522.6L480.3,517.7L480.7,523.7L481.2,519.8L481.6,525.0L482.1,526.2L482.5,526.2L483.0,530.7L483.4,535.4L483.9,534.7L484.3,539.0L484.8,538.6L485.2,541.9L485.7,545.4L486.1,544.9L486.6,547.2L487.0,548.1L487.5,548.1L487.9,550.7L488.4,549.1L488.8,549.6L489.3,551.2L489.7,552.5L490.2,552.4L490.6,551.9L491.1,553.5L491.5,553.1L492.0,553.7L492.4,553.4L492.9,554.4L493.3,553.7L493.8,553.8L494.2,554.5L494.7,553.9L495.1,555.0L495.6,554.4L496.0,554.1L496.5,554.8L496.9,555.0L497.4,554.3L497.8,554.9L498.3,554.8L498.7,555.3L499.2,554.3L499.6,555.2L500.1,554.5L500.5,554.9L501.0,554.9L501.4,555.0L501.9,555.3L502.3,555.4L502.8,555.4L503.2,555.5L503.7,555.5L504.1,555.5L504.6,555.5L505.0,555.5L505.5,555.5L505.9,555.6L506.4,555.6L506.8,555.6L507.3,555.6L507.7,555.6L508.2,555.6L508.6,555.6L508.9,556.1Z" fill="#000"/>
<line x1="415.8" y1="495.1" x2="415.8" y2="556.1" stroke="#666" stroke-width="1"/>
<line x1="411.3" y1="556.1" x2="415.8" y2="556.1" stroke="#222" stroke-width="1"/>
<text x="416.6" y="560.2" text-anchor="middle" font-size="4" fill="#222" stroke="#222" stroke-width="0.2">10<tspan dy="-1.4" font-size="2.8">0</tspan></text>
<text x="440.7" y="560.2" text-anchor="middle" font-size="4" fill="#222" stroke="#222" stroke-width="0.2">10<tspan dy="-1.4" font-size="2.8">1</tspan></text>
<text x="464.7" y="560.2" text-anchor="middle" font-size="4" fill="#222" stroke="#222" stroke-width="0.2">10<tspan dy="-1.4" font-size="2.8">2</tspan></text>
<text x="488.8" y="560.2" text-anchor="middle" font-size="4" fill="#222" stroke="#222" stroke-width="0.2">10<tspan dy="-1.4" font-size="2.8">3</tspan></text>
<text x="512.8" y="560.2" text-anchor="middle" font-size="4" fill="#222" stroke="#222" stroke-width="0.2">10<tspan dy="-1.4" font-size="2.8">4</tspan></text>
<path d="M89.1,657.2V588.9000000000001H516.3" fill="none" stroke="#7c7c7c" stroke-width="1.6"/>
<path d="M88.5,657.2H516.3V588.1" fill="none" stroke="#3a3a3a" stroke-width="1.2"/>
<text x="81.2" y="597.3" text-anchor="middle" font-size="11" fill="#111" stroke="#111" stroke-width="0.3">N</text>
<text x="81.2" y="609.2" text-anchor="middle" font-size="11" fill="#111" stroke="#111" stroke-width="0.3">O</text>
<text x="81.2" y="621.1" text-anchor="middle" font-size="11" fill="#111" stroke="#111" stroke-width="0.3">R</text>
<text x="81.2" y="633.1" text-anchor="middle" font-size="11" fill="#111" stroke="#111" stroke-width="0.3">M</text>
<text x="81.2" y="645.0" text-anchor="middle" font-size="11" fill="#111" stroke="#111" stroke-width="0.3">A</text>
<text x="81.2" y="656.9" text-anchor="middle" font-size="11" fill="#111" stroke="#111" stroke-width="0.3">L</text>
<text x="94.1" y="586.1" font-size="11.1" fill="#111" stroke="#111" stroke-width="0.5">HLA-A1</text>
<line x1="90.5" y1="651.5" x2="191.5" y2="651.5" stroke="#222" stroke-width="0.9" stroke-dasharray="2.2,0.8"/>
<path d="M94.7,639.4L95.7,636.0L96.7,633.5L97.7,629.3L98.7,625.8L99.7,621.4L100.7,618.6L101.7,615.6L102.7,614.5L103.7,609.6L104.7,608.8L105.7,602.8L106.7,600.6L107.7,600.3L108.7,599.9L109.7,598.9L110.7,598.7L111.7,602.9L112.7,608.1L113.7,610.4L114.7,614.3L115.7,618.1L116.7,622.4L117.7,627.7L118.7,630.6L119.7,633.1L120.7,635.9L121.7,638.7L122.7,640.6L123.7,642.6L124.7,644.3L125.7,646.6L126.7,647.5L127.7,648.4L128.7,649.1L129.7,649.7L130.7,650.0L131.7,650.3L132.7,650.5L133.7,650.7L134.7,650.8L135.7,650.8L136.7,650.8L137.7,650.8L138.7,650.8L139.7,650.8L140.7,650.8L141.7,650.8L142.7,650.9L143.7,650.8L144.7,650.9L145.7,650.9L146.7,650.8L147.7,650.9L148.7,650.9L149.7,650.9L150.7,650.9L151.7,650.9L152.7,650.9L153.7,650.9L154.7,650.9L155.7,650.9L156.7,650.9L157.7,650.9L158.7,650.9L159.7,650.9L160.7,651.0L161.7,651.0L162.7,651.0L163.7,651.0L164.7,651.0L165.7,651.0L166.7,651.0L167.7,651.0L168.7,651.0L169.7,651.0L170.7,651.0L171.7,651.0L172.7,651.0L173.7,651.0L174.7,651.1L175.7,651.1L176.7,651.1L177.7,651.1L178.7,651.1L179.7,651.1L180.7,651.1L181.7,651.1L182.7,651.1L183.7,651.1L184.7,651.1L185.7,651.1L186.7,651.1L187.7,651.1L188.7,651.2L189.7,651.2L190.7,651.2L191.7,651.2L192.7,651.2L193.7,651.2" fill="none" stroke="#555" stroke-width="1.05" stroke-dasharray="2,0.8"/>
<path d="M104.3,651.5L104.3,651.2L104.8,651.1L105.2,651.1L105.7,651.1L106.1,651.0L106.6,651.0L107.0,650.9L107.5,650.9L107.9,650.8L108.4,650.8L108.8,650.7L109.3,650.9L109.7,650.8L110.2,650.2L110.6,650.7L111.1,651.0L111.5,650.7L112.0,650.4L112.4,650.3L112.9,650.5L113.3,650.6L113.8,649.9L114.2,650.0L114.7,650.6L115.1,650.3L115.6,650.6L116.0,650.5L116.5,650.1L116.9,650.0L117.4,649.9L117.8,649.9L118.3,650.0L118.7,649.6L119.2,649.8L119.6,649.9L120.1,649.5L120.5,650.3L121.0,649.8L121.4,649.6L121.9,649.2L122.3,649.2L122.8,650.0L123.2,649.9L123.7,649.4L124.1,649.1L124.6,649.4L125.0,649.6L125.5,649.2L125.9,649.6L126.4,649.0L126.8,649.3L127.3,649.0L127.7,649.2L128.2,649.5L128.6,648.8L129.1,649.5L129.5,648.5L130.0,649.1L130.4,648.7L130.9,647.6L131.3,647.5L131.8,647.1L132.2,646.8L132.7,645.6L133.1,645.8L133.6,646.2L134.0,645.1L134.5,644.1L134.9,643.8L135.4,642.7L135.8,641.0L136.3,640.1L136.7,639.2L137.2,638.5L137.6,636.2L138.1,632.4L138.5,629.2L139.0,627.0L139.4,624.0L139.9,618.0L140.3,616.6L140.8,613.8L141.2,607.4L141.7,606.3L142.1,605.8L142.6,600.9L143.0,596.2L143.5,597.1L143.9,595.4L144.4,594.6L144.8,597.7L145.3,598.5L145.7,596.7L146.2,600.7L146.6,602.4L147.1,603.3L147.5,610.1L148.0,609.0L148.4,613.4L148.9,617.6L149.3,618.5L149.8,623.1L150.2,627.2L150.7,628.8L151.1,630.6L151.6,631.6L152.0,634.4L152.5,637.1L152.9,636.8L153.4,637.7L153.8,638.5L154.3,638.1L154.7,637.9L155.2,636.3L155.6,637.3L156.1,638.3L156.5,637.6L157.0,636.2L157.4,636.0L157.9,633.5L158.3,633.7L158.8,633.9L159.2,633.9L159.7,634.6L160.1,632.6L160.6,633.0L161.0,633.7L161.5,632.9L161.9,634.8L162.4,635.9L162.8,636.5L163.3,637.5L163.7,639.5L164.2,641.1L164.6,642.8L165.1,644.5L165.5,644.8L166.0,646.3L166.4,647.6L166.9,647.9L167.3,648.7L167.8,649.8L168.2,649.3L168.7,649.8L169.1,650.3L169.6,650.1L170.0,650.4L170.5,650.7L170.9,650.8L171.4,650.8L171.8,650.9L172.3,650.9L172.7,651.0L173.2,651.0L173.6,651.0L174.1,651.1L174.5,651.1L175.0,651.1L175.4,651.2L175.6,651.5Z" fill="#000"/>
<line x1="94.5" y1="594.3000000000001" x2="94.5" y2="651.5" stroke="#666" stroke-width="1"/>
<line x1="90.0" y1="651.5" x2="94.5" y2="651.5" stroke="#222" stroke-width="1"/>
<text x="95.3" y="655.6" text-anchor="middle" font-size="4" fill="#222" stroke="#222" stroke-width="0.2">10<tspan dy="-1.4" font-size="2.8">0</tspan></text>
<text x="119.3" y="655.6" text-anchor="middle" font-size="4" fill="#222" stroke="#222" stroke-width="0.2">10<tspan dy="-1.4" font-size="2.8">1</tspan></text>
<text x="143.4" y="655.6" text-anchor="middle" font-size="4" fill="#222" stroke="#222" stroke-width="0.2">10<tspan dy="-1.4" font-size="2.8">2</tspan></text>
<text x="167.4" y="655.6" text-anchor="middle" font-size="4" fill="#222" stroke="#222" stroke-width="0.2">10<tspan dy="-1.4" font-size="2.8">3</tspan></text>
<text x="191.5" y="655.6" text-anchor="middle" font-size="4" fill="#222" stroke="#222" stroke-width="0.2">10<tspan dy="-1.4" font-size="2.8">4</tspan></text>
<text x="201.1" y="586.1" font-size="11.1" fill="#111" stroke="#111" stroke-width="0.5">HLA-A2</text>
<line x1="197.5" y1="651.5" x2="298.5" y2="651.5" stroke="#222" stroke-width="0.9" stroke-dasharray="2.2,0.8"/>
<path d="M201.7,637.2L202.7,634.7L203.7,631.2L204.7,629.6L205.7,625.1L206.7,622.0L207.7,620.4L208.7,617.4L209.7,615.5L210.7,609.9L211.7,607.0L212.7,604.6L213.7,600.5L214.7,598.7L215.7,598.3L216.7,594.3L217.7,597.4L218.7,601.3L219.7,602.0L220.7,607.8L221.7,612.0L222.7,617.4L223.7,622.8L224.7,626.6L225.7,629.5L226.7,633.3L227.7,634.8L228.7,637.4L229.7,640.0L230.7,643.0L231.7,645.0L232.7,646.7L233.7,648.1L234.7,649.1L235.7,649.5L236.7,649.9L237.7,650.3L238.7,650.5L239.7,650.8L240.7,650.9L241.7,651.2L242.7,651.2L243.7,651.2L244.7,651.2L245.7,651.2L246.7,651.2L247.7,651.2L248.7,651.2L249.7,651.2L250.7,651.2L251.7,651.2L252.7,651.2L253.7,651.2L254.7,651.2L255.7,651.2L256.7,651.2L257.7,651.2L258.7,651.2L259.7,651.2L260.7,651.2L261.7,651.2L262.7,651.2L263.7,651.2L264.7,651.2L265.7,651.2L266.7,651.2L267.7,651.2L268.7,651.2L269.7,651.2L270.7,651.2L271.7,651.2L272.7,651.2L273.7,651.2L274.7,651.2L275.7,651.2L276.7,651.2L277.7,651.2L278.7,651.2L279.7,651.2L280.7,651.2L281.7,651.2L282.7,651.2L283.7,651.2L284.7,651.2L285.7,651.2L286.7,651.2L287.7,651.2L288.7,651.2L289.7,651.2L290.7,651.2L291.7,651.2L292.7,651.2L293.7,651.2L294.7,651.2L295.7,651.2L296.7,651.2L297.7,651.2L298.7,651.2L299.7,651.2L300.7,651.2" fill="none" stroke="#555" stroke-width="1.05" stroke-dasharray="2,0.8"/>
<path d="M221.5,651.5L221.5,651.2L221.9,651.1L222.4,651.0L222.8,651.0L223.3,650.9L223.7,650.8L224.2,650.7L224.6,650.4L225.1,650.4L225.5,650.6L226.0,650.4L226.4,650.2L226.9,650.7L227.3,650.5L227.8,649.7L228.2,649.8L228.7,650.1L229.1,650.3L229.6,649.9L230.0,649.5L230.5,649.5L230.9,649.7L231.4,649.3L231.8,649.4L232.3,648.7L232.7,648.7L233.2,648.2L233.6,647.9L234.1,648.3L234.5,647.6L235.0,647.6L235.4,647.5L235.9,647.6L236.3,647.8L236.8,646.9L237.2,647.0L237.7,646.6L238.1,646.2L238.6,645.6L239.0,644.5L239.5,644.5L239.9,643.3L240.4,643.5L240.8,642.4L241.3,640.8L241.7,639.3L242.2,639.0L242.6,637.0L243.1,635.6L243.5,634.6L244.0,633.5L244.4,632.1L244.9,631.9L245.3,631.2L245.8,630.7L246.2,629.1L246.7,627.3L247.1,627.4L247.6,623.5L248.0,625.4L248.5,624.2L248.9,623.7L249.4,622.2L249.8,623.0L250.3,621.5L250.7,621.3L251.2,621.2L251.6,618.6L252.1,618.3L252.5,616.7L253.0,613.7L253.4,616.3L253.9,611.8L254.3,610.3L254.8,610.5L255.2,607.9L255.7,609.6L256.1,605.6L256.6,608.5L257.0,604.3L257.5,606.0L257.9,602.0L258.4,602.8L258.8,596.9L259.3,597.2L259.7,599.1L260.2,592.6L260.6,594.5L261.1,599.8L261.5,600.1L262.0,592.9L262.4,598.9L262.9,601.1L263.3,599.3L263.8,599.8L264.2,601.4L264.7,603.7L265.1,607.2L265.6,611.9L266.0,613.6L266.5,615.8L266.9,618.6L267.4,622.1L267.8,625.2L268.3,627.4L268.7,628.1L269.2,631.5L269.6,633.3L270.1,635.0L270.5,636.8L271.0,638.2L271.4,640.9L271.9,642.2L272.3,642.5L272.8,643.5L273.2,645.3L273.7,644.9L274.1,646.6L274.6,647.2L275.0,648.2L275.5,648.6L275.9,648.5L276.4,648.7L276.8,649.0L277.3,649.5L277.7,649.3L278.2,650.0L278.6,650.2L279.1,649.9L279.5,650.4L280.0,650.1L280.4,650.9L280.9,650.7L281.3,650.8L281.8,651.0L282.2,651.1L282.6,651.5Z" fill="#000"/>
<line x1="201.5" y1="594.3000000000001" x2="201.5" y2="651.5" stroke="#666" stroke-width="1"/>
<line x1="197.0" y1="651.5" x2="201.5" y2="651.5" stroke="#222" stroke-width="1"/>
<text x="202.3" y="655.6" text-anchor="middle" font-size="4" fill="#222" stroke="#222" stroke-width="0.2">10<tspan dy="-1.4" font-size="2.8">0</tspan></text>
<text x="226.4" y="655.6" text-anchor="middle" font-size="4" fill="#222" stroke="#222" stroke-width="0.2">10<tspan dy="-1.4" font-size="2.8">1</tspan></text>
<text x="250.4" y="655.6" text-anchor="middle" font-size="4" fill="#222" stroke="#222" stroke-width="0.2">10<tspan dy="-1.4" font-size="2.8">2</tspan></text>
<text x="274.5" y="655.6" text-anchor="middle" font-size="4" fill="#222" stroke="#222" stroke-width="0.2">10<tspan dy="-1.4" font-size="2.8">3</tspan></text>
<text x="298.5" y="655.6" text-anchor="middle" font-size="4" fill="#222" stroke="#222" stroke-width="0.2">10<tspan dy="-1.4" font-size="2.8">4</tspan></text>
<text x="307.5" y="586.1" font-size="11.1" fill="#111" stroke="#111" stroke-width="0.5">HLA-B8</text>
<line x1="304.8" y1="651.5" x2="405.8" y2="651.5" stroke="#222" stroke-width="0.9" stroke-dasharray="2.2,0.8"/>
<path d="M308.7,630.7L309.7,629.7L310.7,629.7L311.7,628.2L312.7,623.0L313.7,617.6L314.7,614.3L315.7,609.4L316.7,604.0L317.7,603.2L318.7,601.4L319.7,598.4L320.7,600.0L321.7,597.0L322.7,598.1L323.7,601.4L324.7,609.4L325.7,614.1L326.7,617.4L327.7,624.4L328.7,631.7L329.7,636.9L330.7,641.3L331.7,644.7L332.7,647.4L333.7,648.8L334.7,649.8L335.7,650.0L336.7,650.2L337.7,650.5L338.7,650.8L339.7,650.8L340.7,650.8L341.7,650.8L342.7,650.8L343.7,650.8L344.7,650.8L345.7,650.8L346.7,650.8L347.7,650.9L348.7,650.8L349.7,650.8L350.7,650.8L351.7,650.9L352.7,650.9L353.7,650.9L354.7,650.9L355.7,650.9L356.7,650.9L357.7,650.9L358.7,650.9L359.7,650.9L360.7,650.9L361.7,650.9L362.7,650.9L363.7,650.9L364.7,650.9L365.7,651.0L366.7,650.9L367.7,651.0L368.7,651.0L369.7,651.0L370.7,651.0L371.7,651.0L372.7,651.0L373.7,651.0L374.7,651.0L375.7,651.0L376.7,651.0L377.7,651.0L378.7,651.0L379.7,651.0L380.7,651.0L381.7,651.0L382.7,651.0L383.7,651.0L384.7,651.1L385.7,651.0L386.7,651.1L387.7,651.1L388.7,651.1L389.7,651.1L390.7,651.1L391.7,651.1L392.7,651.1L393.7,651.1L394.7,651.1L395.7,651.1L396.7,651.1L397.7,651.1L398.7,651.1L399.7,651.1L400.7,651.1L401.7,651.2L402.7,651.2L403.7,651.2L404.7,651.2L405.7,651.2L406.7,651.2L407.7,651.2" fill="none" stroke="#555" stroke-width="1.05" stroke-dasharray="2,0.8"/>
<path d="M328.5,651.5L328.5,651.2L328.9,651.1L329.4,651.1L329.8,651.1L330.3,651.0L330.7,651.0L331.2,650.9L331.6,650.9L332.1,650.9L332.5,650.8L333.0,650.8L333.4,650.1L333.9,649.9L334.3,650.4L334.8,650.0L335.2,649.6L335.7,649.4L336.1,649.7L336.6,648.6L337.0,648.7L337.5,648.0L337.9,647.7L338.4,647.5L338.8,647.5L339.3,647.3L339.7,645.6L340.2,645.7L340.6,645.8L341.1,645.7L341.5,645.6L342.0,644.1L342.4,644.8L342.9,645.1L343.3,644.0L343.8,642.6L344.2,643.0L344.7,643.4L345.1,643.1L345.6,641.9L346.0,642.6L346.5,641.4L346.9,639.5L347.4,640.9L347.8,638.5L348.3,636.8L348.7,636.5L349.2,637.7L349.6,636.1L350.1,635.6L350.5,632.7L351.0,632.4L351.4,630.4L351.9,630.0L352.3,628.2L352.8,625.8L353.2,625.3L353.7,624.8L354.1,623.9L354.6,623.2L355.0,623.9L355.5,619.6L355.9,624.2L356.4,618.5L356.8,623.3L357.3,622.8L357.7,615.9L358.2,612.7L358.6,618.8L359.1,618.7L359.5,616.7L360.0,618.4L360.4,619.4L360.9,617.7L361.3,607.8L361.8,616.0L362.2,608.3L362.7,612.0L363.1,608.4L363.6,602.7L364.0,605.5L364.5,607.7L364.9,604.8L365.4,599.7L365.8,605.4L366.3,599.9L366.7,607.1L367.2,602.2L367.6,602.7L368.1,599.8L368.5,604.2L369.0,595.8L369.4,595.8L369.9,602.5L370.3,599.9L370.8,604.8L371.2,596.9L371.7,604.0L372.1,601.1L372.6,602.6L373.0,603.7L373.5,608.7L373.9,611.9L374.4,611.9L374.8,614.0L375.3,620.5L375.7,620.0L376.2,619.7L376.6,626.5L377.1,623.3L377.5,626.3L378.0,630.9L378.4,630.8L378.9,633.0L379.3,636.4L379.8,638.9L380.2,639.0L380.7,641.0L381.1,641.6L381.6,643.1L382.0,643.7L382.5,644.4L382.9,646.4L383.4,647.0L383.8,648.5L384.3,648.6L384.7,649.5L385.2,648.2L385.6,648.8L386.1,649.0L386.5,650.1L387.0,649.8L387.4,650.0L387.9,650.1L388.3,650.9L388.8,651.2L389.2,650.7L389.7,650.8L390.1,650.9L390.6,651.0L391.0,651.1L391.5,651.2L391.7,651.5Z" fill="#000"/>
<line x1="308.8" y1="594.3000000000001" x2="308.8" y2="651.5" stroke="#666" stroke-width="1"/>
<line x1="304.3" y1="651.5" x2="308.8" y2="651.5" stroke="#222" stroke-width="1"/>
<text x="309.6" y="655.6" text-anchor="middle" font-size="4" fill="#222" stroke="#222" stroke-width="0.2">10<tspan dy="-1.4" font-size="2.8">0</tspan></text>
<text x="333.7" y="655.6" text-anchor="middle" font-size="4" fill="#222" stroke="#222" stroke-width="0.2">10<tspan dy="-1.4" font-size="2.8">1</tspan></text>
<text x="357.7" y="655.6" text-anchor="middle" font-size="4" fill="#222" stroke="#222" stroke-width="0.2">10<tspan dy="-1.4" font-size="2.8">2</tspan></text>
<text x="381.8" y="655.6" text-anchor="middle" font-size="4" fill="#222" stroke="#222" stroke-width="0.2">10<tspan dy="-1.4" font-size="2.8">3</tspan></text>
<text x="405.8" y="655.6" text-anchor="middle" font-size="4" fill="#222" stroke="#222" stroke-width="0.2">10<tspan dy="-1.4" font-size="2.8">4</tspan></text>
<text x="414.2" y="586.1" font-size="11.1" fill="#111" stroke="#111" stroke-width="0.5">HLA-B12</text>
<line x1="411.8" y1="651.5" x2="512.8" y2="651.5" stroke="#222" stroke-width="0.9" stroke-dasharray="2.2,0.8"/>
<path d="M415.7,637.4L416.7,633.6L417.7,629.7L418.7,626.3L419.7,624.8L420.7,620.8L421.7,618.7L422.7,613.4L423.7,612.5L424.7,609.7L425.7,605.8L426.7,603.3L427.7,599.3L428.7,598.8L429.7,597.7L430.7,596.3L431.7,597.2L432.7,601.2L433.7,605.6L434.7,610.1L435.7,612.7L436.7,619.0L437.7,624.3L438.7,628.1L439.7,632.1L440.7,634.5L441.7,637.0L442.7,639.9L443.7,642.2L444.7,644.2L445.7,645.9L446.7,647.2L447.7,648.1L448.7,649.0L449.7,649.5L450.7,649.9L451.7,650.4L452.7,650.6L453.7,650.7L454.7,650.9L455.7,651.1L456.7,651.2L457.7,651.2L458.7,651.2L459.7,651.2L460.7,651.2L461.7,651.2L462.7,651.2L463.7,651.2L464.7,651.2L465.7,651.2L466.7,651.2L467.7,651.2L468.7,651.2L469.7,651.2L470.7,651.2L471.7,651.2L472.7,651.2L473.7,651.2L474.7,651.2L475.7,651.2L476.7,651.2L477.7,651.2L478.7,651.2L479.7,651.2L480.7,651.2L481.7,651.2L482.7,651.2L483.7,651.2L484.7,651.2L485.7,651.2L486.7,651.2L487.7,651.2L488.7,651.2L489.7,651.2L490.7,651.2L491.7,651.2L492.7,651.2L493.7,651.2L494.7,651.2L495.7,651.2L496.7,651.2L497.7,651.2L498.7,651.2L499.7,651.2L500.7,651.2L501.7,651.2L502.7,651.2L503.7,651.2L504.7,651.2L505.7,651.2L506.7,651.2L507.7,651.2L508.7,651.2L509.7,651.2L510.7,651.2L511.7,651.2L512.7,651.2L513.7,651.2L514.7,651.2" fill="none" stroke="#555" stroke-width="1.05" stroke-dasharray="2,0.8"/>
<path d="M437.5,651.5L437.5,651.2L438.0,651.1L438.4,650.9L438.9,650.8L439.3,650.3L439.8,650.4L440.2,650.5L440.7,650.6L441.1,650.3L441.6,649.6L442.0,649.7L442.5,649.9L442.9,650.0L443.4,649.8L443.8,649.6L444.3,649.0L444.7,649.1L445.2,649.1L445.6,647.9L446.1,649.0L446.5,648.3L447.0,648.6L447.4,648.3L447.9,648.5L448.3,647.6L448.8,647.8L449.2,647.5L449.7,647.3L450.1,647.3L450.6,647.0L451.0,646.8L451.5,646.4L451.9,647.2L452.4,647.1L452.8,647.0L453.3,646.2L453.7,646.6L454.2,646.1L454.6,646.3L455.1,646.0L455.5,646.2L456.0,645.7L456.4,645.7L456.9,645.5L457.3,645.4L457.8,644.9L458.2,645.4L458.7,644.5L459.1,645.3L459.6,644.6L460.0,644.8L460.5,643.6L460.9,644.3L461.4,643.3L461.8,642.6L462.3,641.7L462.7,639.7L463.2,639.0L463.6,637.5L464.1,635.3L464.5,631.0L465.0,629.6L465.4,627.6L465.9,625.2L466.3,623.7L466.8,618.9L467.2,620.4L467.7,615.7L468.1,615.6L468.6,614.3L469.0,613.2L469.5,612.0L469.9,609.8L470.4,607.9L470.8,604.7L471.3,606.6L471.7,606.6L472.2,604.4L472.6,605.1L473.1,603.3L473.5,601.2L474.0,596.8L474.4,594.6L474.9,595.8L475.3,593.1L475.8,594.4L476.2,599.3L476.7,598.0L477.1,597.2L477.6,601.5L478.0,598.2L478.5,605.4L478.9,604.7L479.4,605.7L479.8,610.5L480.3,607.3L480.7,613.4L481.2,615.3L481.6,616.6L482.1,619.8L482.5,622.7L483.0,623.9L483.4,625.6L483.9,629.7L484.3,629.8L484.8,632.0L485.2,634.1L485.7,636.2L486.1,637.8L486.6,638.2L487.0,640.0L487.5,641.1L487.9,642.4L488.4,643.8L488.8,644.6L489.3,645.2L489.7,645.9L490.2,646.9L490.6,647.5L491.1,647.9L491.5,648.6L492.0,648.8L492.4,649.2L492.9,649.8L493.3,649.5L493.8,650.0L494.2,649.9L494.7,650.5L495.1,650.2L495.6,651.0L496.0,650.1L496.5,650.5L496.9,650.7L497.4,650.8L497.8,650.9L498.3,651.0L498.7,651.0L499.2,651.1L499.6,651.2L499.7,651.5Z" fill="#000"/>
<line x1="415.8" y1="594.3000000000001" x2="415.8" y2="651.5" stroke="#666" stroke-width="1"/>
<line x1="411.3" y1="651.5" x2="415.8" y2="651.5" stroke="#222" stroke-width="1"/>
<text x="416.6" y="655.6" text-anchor="middle" font-size="4" fill="#222" stroke="#222" stroke-width="0.2">10<tspan dy="-1.4" font-size="2.8">0</tspan></text>
<text x="440.7" y="655.6" text-anchor="middle" font-size="4" fill="#222" stroke="#222" stroke-width="0.2">10<tspan dy="-1.4" font-size="2.8">1</tspan></text>
<text x="464.7" y="655.6" text-anchor="middle" font-size="4" fill="#222" stroke="#222" stroke-width="0.2">10<tspan dy="-1.4" font-size="2.8">2</tspan></text>
<text x="488.8" y="655.6" text-anchor="middle" font-size="4" fill="#222" stroke="#222" stroke-width="0.2">10<tspan dy="-1.4" font-size="2.8">3</tspan></text>
<text x="512.8" y="655.6" text-anchor="middle" font-size="4" fill="#222" stroke="#222" stroke-width="0.2">10<tspan dy="-1.4" font-size="2.8">4</tspan></text>
<path d="M89.1,741.7V673.2H516.3" fill="none" stroke="#7c7c7c" stroke-width="1.6"/>
<path d="M88.5,741.7H516.3V672.4" fill="none" stroke="#3a3a3a" stroke-width="1.2"/>
<text x="81.2" y="687.6" text-anchor="middle" font-size="11" fill="#111" stroke="#111" stroke-width="0.3">T</text>
<text x="81.2" y="699.7" text-anchor="middle" font-size="11" fill="#111" stroke="#111" stroke-width="0.3">U</text>
<text x="81.2" y="711.7" text-anchor="middle" font-size="11" fill="#111" stroke="#111" stroke-width="0.3">M</text>
<text x="81.2" y="723.8" text-anchor="middle" font-size="11" fill="#111" stroke="#111" stroke-width="0.3">O</text>
<text x="81.2" y="735.8" text-anchor="middle" font-size="11" fill="#111" stroke="#111" stroke-width="0.3">R</text>
<text x="94.1" y="670.4" font-size="11.1" fill="#111" stroke="#111" stroke-width="0.5">HLA-A1</text>
<line x1="90.5" y1="736.0" x2="191.5" y2="736.0" stroke="#222" stroke-width="0.9" stroke-dasharray="2.2,0.8"/>
<path d="M94.7,714.0L95.7,712.1L96.7,709.5L97.7,707.4L98.7,704.5L99.7,702.7L100.7,698.0L101.7,692.9L102.7,690.9L103.7,687.8L104.7,684.7L105.7,685.1L106.7,683.2L107.7,683.8L108.7,684.5L109.7,687.9L110.7,691.5L111.7,694.0L112.7,698.1L113.7,701.7L114.7,705.4L115.7,706.4L116.7,711.1L117.7,713.3L118.7,715.2L119.7,718.6L120.7,721.6L121.7,723.1L122.7,724.5L123.7,726.5L124.7,728.6L125.7,729.6L126.7,730.6L127.7,731.6L128.7,732.4L129.7,732.9L130.7,733.3L131.7,733.5L132.7,733.9L133.7,734.2L134.7,734.6L135.7,734.6L136.7,734.6L137.7,734.6L138.7,734.6L139.7,734.6L140.7,734.7L141.7,734.7L142.7,734.6L143.7,734.6L144.7,734.7L145.7,734.7L146.7,734.7L147.7,734.7L148.7,734.8L149.7,734.8L150.7,734.8L151.7,734.8L152.7,734.8L153.7,734.8L154.7,734.9L155.7,734.9L156.7,734.9L157.7,734.8L158.7,734.9L159.7,734.9L160.7,734.9L161.7,734.9L162.7,734.9L163.7,734.9L164.7,735.0L165.7,735.0L166.7,735.0L167.7,735.0L168.7,735.0L169.7,735.0L170.7,735.0L171.7,735.1L172.7,735.1L173.7,735.1L174.7,735.1L175.7,735.1L176.7,735.1L177.7,735.1L178.7,735.2L179.7,735.1L180.7,735.2L181.7,735.2L182.7,735.2L183.7,735.2L184.7,735.3L185.7,735.2L186.7,735.3L187.7,735.3L188.7,735.3L189.7,735.3L190.7,735.3L191.7,735.4L192.7,735.3L193.7,735.4" fill="none" stroke="#555" stroke-width="1.05" stroke-dasharray="2,0.8"/>
<path d="M94.7,736.0L94.7,715.2L95.2,711.1L95.6,711.6L96.1,713.7L96.5,713.0L97.0,715.0L97.4,708.3L97.9,707.6L98.3,704.6L98.8,703.2L99.2,702.1L99.7,700.0L100.1,696.7L100.6,701.8L101.0,694.1L101.5,697.3L101.9,691.5L102.4,696.1L102.8,686.5L103.3,687.9L103.7,691.5L104.2,681.9L104.6,689.9L105.1,688.0L105.5,680.9L106.0,678.1L106.4,679.6L106.9,682.7L107.3,682.7L107.8,688.8L108.2,681.1L108.7,685.8L109.1,688.5L109.6,694.4L110.0,692.6L110.5,691.9L110.9,695.6L111.4,690.8L111.8,691.3L112.3,699.4L112.7,698.7L113.2,701.0L113.6,700.7L114.1,704.8L114.5,702.1L115.0,702.7L115.4,706.9L115.9,710.4L116.3,711.3L116.8,708.7L117.2,715.3L117.7,715.6L118.1,717.2L118.6,714.9L119.0,716.1L119.5,720.1L119.9,720.6L120.4,719.7L120.8,720.6L121.3,723.0L121.7,724.4L122.2,722.9L122.6,725.5L123.1,725.3L123.5,724.6L124.0,726.9L124.4,727.8L124.9,728.0L125.3,728.6L125.8,728.8L126.2,730.4L126.7,730.6L127.1,730.6L127.6,731.1L128.0,731.3L128.5,730.3L128.9,732.4L129.4,732.7L129.8,732.5L130.3,733.1L130.7,734.0L131.2,734.2L131.6,733.3L132.1,733.5L132.5,733.8L133.0,734.5L133.4,734.5L133.9,734.3L134.3,734.7L134.8,734.9L135.2,734.8L135.7,734.5L136.1,733.9L136.6,734.5L137.0,734.3L137.5,734.4L137.9,734.4L138.4,734.4L138.8,734.8L139.3,734.9L139.7,734.8L140.2,734.3L140.6,735.2L141.1,734.5L141.5,734.8L142.0,734.8L142.4,734.7L142.9,735.0L143.3,734.9L143.8,734.7L144.2,734.6L144.7,734.6L145.1,734.6L145.6,734.9L146.0,734.6L146.5,733.6L146.9,734.8L147.4,734.2L147.8,734.2L148.3,734.2L148.7,735.0L149.2,734.5L149.6,734.0L150.1,734.5L150.5,734.0L151.0,734.6L151.4,734.3L151.9,734.6L152.3,733.7L152.8,733.9L153.2,733.4L153.7,733.3L154.1,733.9L154.6,733.8L155.0,732.4L155.5,733.6L155.9,733.8L156.4,733.3L156.8,732.4L157.3,732.0L157.7,732.1L158.2,732.0L158.6,729.6L159.1,731.3L159.5,729.9L160.0,730.4L160.4,729.2L160.9,727.7L161.3,728.1L161.8,729.8L162.2,729.6L162.7,730.2L163.1,731.0L163.6,731.0L164.0,732.0L164.5,732.6L164.9,732.7L165.4,732.8L165.8,733.7L166.3,734.3L166.7,734.5L167.2,734.9L167.6,735.0L168.1,734.7L168.5,734.5L169.0,735.3L169.4,734.7L169.9,734.9L170.3,735.3L170.8,734.2L171.2,735.1L171.7,734.6L172.1,735.2L172.6,735.3L173.0,735.3L173.5,735.4L173.6,736.0Z" fill="#000"/>
<line x1="94.5" y1="678.6" x2="94.5" y2="736.0" stroke="#666" stroke-width="1"/>
<line x1="90.0" y1="736.0" x2="94.5" y2="736.0" stroke="#222" stroke-width="1"/>
<text x="95.3" y="740.1" text-anchor="middle" font-size="4" fill="#222" stroke="#222" stroke-width="0.2">10<tspan dy="-1.4" font-size="2.8">0</tspan></text>
<text x="119.3" y="740.1" text-anchor="middle" font-size="4" fill="#222" stroke="#222" stroke-width="0.2">10<tspan dy="-1.4" font-size="2.8">1</tspan></text>
<text x="143.4" y="740.1" text-anchor="middle" font-size="4" fill="#222" stroke="#222" stroke-width="0.2">10<tspan dy="-1.4" font-size="2.8">2</tspan></text>
<text x="167.4" y="740.1" text-anchor="middle" font-size="4" fill="#222" stroke="#222" stroke-width="0.2">10<tspan dy="-1.4" font-size="2.8">3</tspan></text>
<text x="191.5" y="740.1" text-anchor="middle" font-size="4" fill="#222" stroke="#222" stroke-width="0.2">10<tspan dy="-1.4" font-size="2.8">4</tspan></text>
<text x="201.1" y="670.4" font-size="11.1" fill="#111" stroke="#111" stroke-width="0.5">HLA-A2</text>
<line x1="197.5" y1="736.0" x2="298.5" y2="736.0" stroke="#222" stroke-width="0.9" stroke-dasharray="2.2,0.8"/>
<path d="M201.7,717.1L202.7,713.6L203.7,710.3L204.7,705.7L205.7,700.0L206.7,697.8L207.7,694.9L208.7,690.6L209.7,689.1L210.7,686.7L211.7,683.1L212.7,684.4L213.7,683.0L214.7,681.3L215.7,680.0L216.7,685.3L217.7,692.5L218.7,700.1L219.7,704.0L220.7,710.5L221.7,716.4L222.7,721.6L223.7,726.2L224.7,729.2L225.7,730.9L226.7,732.3L227.7,733.5L228.7,733.8L229.7,734.4L230.7,734.7L231.7,734.7L232.7,734.8L233.7,734.8L234.7,734.8L235.7,734.8L236.7,734.8L237.7,734.8L238.7,734.8L239.7,734.8L240.7,734.8L241.7,734.8L242.7,734.9L243.7,734.9L244.7,734.8L245.7,734.9L246.7,734.9L247.7,734.9L248.7,734.9L249.7,734.9L250.7,735.0L251.7,734.9L252.7,734.9L253.7,735.0L254.7,734.9L255.7,735.0L256.7,735.0L257.7,735.0L258.7,735.0L259.7,735.0L260.7,735.0L261.7,735.1L262.7,735.0L263.7,735.1L264.7,735.1L265.7,735.1L266.7,735.1L267.7,735.1L268.7,735.1L269.7,735.1L270.7,735.1L271.7,735.1L272.7,735.1L273.7,735.2L274.7,735.2L275.7,735.1L276.7,735.1L277.7,735.2L278.7,735.2L279.7,735.2L280.7,735.2L281.7,735.2L282.7,735.2L283.7,735.2L284.7,735.2L285.7,735.2L286.7,735.2L287.7,735.2L288.7,735.2L289.7,735.3L290.7,735.3L291.7,735.3L292.7,735.3L293.7,735.3L294.7,735.3L295.7,735.3L296.7,735.3L297.7,735.3L298.7,735.4L299.7,735.4L300.7,735.4" fill="none" stroke="#555" stroke-width="1.05" stroke-dasharray="2,0.8"/>
<path d="M201.7,736.0L201.7,720.1L202.2,714.7L202.6,719.6L203.1,720.0L203.5,714.5L204.0,719.2L204.4,714.8L204.9,717.1L205.3,716.4L205.8,718.5L206.2,718.6L206.7,717.7L207.1,717.9L207.6,715.3L208.0,719.0L208.5,715.2L208.9,718.1L209.4,714.2L209.8,718.8L210.3,713.3L210.7,716.3L211.2,710.8L211.6,716.9L212.1,713.2L212.5,711.1L213.0,715.0L213.4,712.9L213.9,713.2L214.3,711.5L214.8,711.6L215.2,712.3L215.7,715.6L216.1,719.1L216.6,718.1L217.0,720.1L217.5,724.0L217.9,721.4L218.4,724.6L218.8,722.5L219.3,722.7L219.7,723.0L220.2,725.3L220.6,727.4L221.1,726.4L221.5,727.4L222.0,726.0L222.4,726.2L222.9,726.2L223.3,727.8L223.8,727.4L224.2,727.8L224.7,729.1L225.1,727.7L225.6,725.9L226.0,725.2L226.5,724.2L226.9,724.6L227.4,724.3L227.8,725.7L228.3,723.5L228.7,720.3L229.2,725.1L229.6,722.7L230.1,724.6L230.5,724.9L231.0,723.3L231.4,724.4L231.9,724.1L232.3,723.7L232.8,722.5L233.2,722.0L233.7,722.0L234.1,717.8L234.6,721.2L235.0,719.5L235.5,721.0L235.9,718.9L236.4,717.2L236.8,719.9L237.3,714.6L237.7,716.1L238.2,713.1L238.6,713.3L239.1,710.4L239.5,709.7L240.0,706.2L240.4,710.2L240.9,703.0L241.3,709.5L241.8,703.4L242.2,702.7L242.7,696.0L243.1,699.3L243.6,701.2L244.0,693.0L244.5,701.7L244.9,686.7L245.4,699.1L245.8,691.8L246.3,697.2L246.7,698.2L247.2,683.8L247.6,685.6L248.1,696.8L248.5,686.9L249.0,693.1L249.4,688.4L249.9,696.1L250.3,684.4L250.8,687.7L251.2,695.6L251.7,690.7L252.1,680.3L252.6,694.2L253.0,693.3L253.5,694.1L253.9,683.7L254.4,685.0L254.8,681.0L255.3,677.2L255.7,683.2L256.2,684.1L256.6,695.2L257.1,693.7L257.5,696.6L258.0,686.1L258.4,699.1L258.9,688.1L259.3,690.3L259.8,694.0L260.2,695.3L260.7,700.5L261.1,702.3L261.6,703.1L262.0,709.8L262.5,702.0L262.9,710.0L263.4,709.8L263.8,710.8L264.3,716.4L264.7,714.0L265.2,712.3L265.6,716.2L266.1,716.7L266.5,719.0L267.0,719.7L267.4,719.1L267.9,720.1L268.3,717.4L268.8,723.6L269.2,723.9L269.7,723.6L270.1,726.1L270.6,726.6L271.0,727.4L271.5,728.9L271.9,727.5L272.4,728.9L272.8,726.9L273.3,729.6L273.7,730.4L274.2,728.9L274.6,729.1L275.1,730.0L275.5,729.1L276.0,730.3L276.4,731.0L276.9,731.1L277.3,732.0L277.8,731.0L278.2,731.4L278.7,731.5L279.1,732.2L279.6,731.4L280.0,732.6L280.5,733.0L280.9,732.5L281.4,733.2L281.8,731.9L282.3,733.3L282.7,734.5L283.2,735.0L283.6,734.0L284.1,734.4L284.5,734.5L285.0,734.4L285.4,733.7L285.9,735.0L286.3,735.6L286.8,734.8L287.2,735.3L287.7,735.2L288.1,735.2L288.6,735.3L289.0,735.3L289.5,735.3L289.9,735.3L290.4,735.4L290.8,736.0Z" fill="#000"/>
<line x1="201.5" y1="678.6" x2="201.5" y2="736.0" stroke="#666" stroke-width="1"/>
<line x1="197.0" y1="736.0" x2="201.5" y2="736.0" stroke="#222" stroke-width="1"/>
<text x="202.3" y="740.1" text-anchor="middle" font-size="4" fill="#222" stroke="#222" stroke-width="0.2">10<tspan dy="-1.4" font-size="2.8">0</tspan></text>
<text x="226.4" y="740.1" text-anchor="middle" font-size="4" fill="#222" stroke="#222" stroke-width="0.2">10<tspan dy="-1.4" font-size="2.8">1</tspan></text>
<text x="250.4" y="740.1" text-anchor="middle" font-size="4" fill="#222" stroke="#222" stroke-width="0.2">10<tspan dy="-1.4" font-size="2.8">2</tspan></text>
<text x="274.5" y="740.1" text-anchor="middle" font-size="4" fill="#222" stroke="#222" stroke-width="0.2">10<tspan dy="-1.4" font-size="2.8">3</tspan></text>
<text x="298.5" y="740.1" text-anchor="middle" font-size="4" fill="#222" stroke="#222" stroke-width="0.2">10<tspan dy="-1.4" font-size="2.8">4</tspan></text>
<text x="307.5" y="670.4" font-size="11.1" fill="#111" stroke="#111" stroke-width="0.5">HLA-B8</text>
<line x1="304.8" y1="736.0" x2="405.8" y2="736.0" stroke="#222" stroke-width="0.9" stroke-dasharray="2.2,0.8"/>
<path d="M309.1,718.4L310.1,713.3L311.1,711.6L312.1,710.2L313.1,705.5L314.1,703.5L315.1,699.4L316.1,696.2L317.1,693.2L318.1,690.4L319.1,686.9L320.1,686.7L321.1,684.3L322.1,681.0L323.1,686.8L324.1,690.6L325.1,693.9L326.1,699.6L327.1,704.9L328.1,708.2L329.1,712.6L330.1,715.5L331.1,719.0L332.1,721.9L333.1,724.9L334.1,727.4L335.1,729.5L336.1,731.1L337.1,732.3L338.1,733.4L339.1,734.2L340.1,734.2L341.1,734.2L342.1,734.2L343.1,734.2L344.1,734.2L345.1,734.3L346.1,734.2L347.1,734.3L348.1,734.3L349.1,734.4L350.1,734.3L351.1,734.3L352.1,734.4L353.1,734.5L354.1,734.4L355.1,734.4L356.1,734.5L357.1,734.4L358.1,734.5L359.1,734.5L360.1,734.6L361.1,734.6L362.1,734.5L363.1,734.6L364.1,734.6L365.1,734.7L366.1,734.6L367.1,734.7L368.1,734.7L369.1,734.6L370.1,734.7L371.1,734.7L372.1,734.7L373.1,734.7L374.1,734.7L375.1,734.8L376.1,734.8L377.1,734.8L378.1,734.8L379.1,734.9L380.1,734.9L381.1,734.9L382.1,735.0L383.1,734.9L384.1,734.9L385.1,735.0L386.1,735.0L387.1,735.0L388.1,735.0L389.1,735.0L390.1,735.0L391.1,735.1L392.1,735.1L393.1,735.1L394.1,735.1L395.1,735.2L396.1,735.2L397.1,735.2L398.1,735.2L399.1,735.2L400.1,735.2L401.1,735.3L402.1,735.3L403.1,735.3L404.1,735.3L405.1,735.3L406.1,735.4L407.1,735.4" fill="none" stroke="#555" stroke-width="1.05" stroke-dasharray="2,0.8"/>
<path d="M309.1,736.0L309.1,728.7L309.6,729.8L310.0,728.9L310.5,729.6L310.9,728.9L311.4,728.5L311.8,728.2L312.3,728.7L312.7,727.7L313.2,727.7L313.6,727.5L314.1,728.1L314.5,726.8L315.0,727.7L315.4,724.8L315.9,726.8L316.3,726.0L316.8,726.0L317.2,727.1L317.7,726.8L318.1,725.8L318.6,724.4L319.0,726.1L319.5,725.3L319.9,725.4L320.4,724.8L320.8,725.9L321.3,724.9L321.7,725.0L322.2,726.1L322.6,724.7L323.1,724.4L323.5,725.0L324.0,723.9L324.4,721.8L324.9,723.0L325.3,723.4L325.8,722.0L326.2,722.8L326.7,722.1L327.1,719.7L327.6,716.7L328.0,718.0L328.5,714.4L328.9,712.2L329.4,710.8L329.8,709.6L330.3,708.2L330.7,706.3L331.2,705.9L331.6,701.0L332.1,701.2L332.5,694.3L333.0,695.3L333.4,692.0L333.9,690.6L334.3,690.8L334.8,687.4L335.2,679.8L335.7,677.3L336.1,686.0L336.6,678.6L337.0,683.4L337.5,682.9L337.9,685.1L338.4,681.7L338.8,686.9L339.3,688.6L339.7,693.8L340.2,691.2L340.6,697.4L341.1,702.4L341.5,698.8L342.0,704.1L342.4,705.6L342.9,707.5L343.3,709.0L343.8,711.0L344.2,715.4L344.7,715.1L345.1,718.9L345.6,719.4L346.0,720.9L346.5,723.2L346.9,722.6L347.4,724.0L347.8,724.7L348.3,726.8L348.7,727.3L349.2,728.7L349.6,729.2L350.1,729.4L350.5,729.9L351.0,730.0L351.4,732.0L351.9,731.5L352.3,731.6L352.8,732.5L353.2,732.8L353.7,732.3L354.1,733.0L354.6,733.6L355.0,734.5L355.5,734.0L355.9,734.4L356.4,733.4L356.8,735.1L357.3,735.1L357.7,734.9L358.2,734.6L358.6,734.8L359.1,735.4L359.5,735.1L360.0,735.2L360.4,734.8L360.9,734.8L361.3,735.2L361.8,735.3L362.2,735.3L362.7,735.3L363.1,735.4L363.1,736.0Z" fill="#000"/>
<line x1="308.8" y1="678.6" x2="308.8" y2="736.0" stroke="#666" stroke-width="1"/>
<line x1="304.3" y1="736.0" x2="308.8" y2="736.0" stroke="#222" stroke-width="1"/>
<text x="309.6" y="740.1" text-anchor="middle" font-size="4" fill="#222" stroke="#222" stroke-width="0.2">10<tspan dy="-1.4" font-size="2.8">0</tspan></text>
<text x="333.7" y="740.1" text-anchor="middle" font-size="4" fill="#222" stroke="#222" stroke-width="0.2">10<tspan dy="-1.4" font-size="2.8">1</tspan></text>
<text x="357.7" y="740.1" text-anchor="middle" font-size="4" fill="#222" stroke="#222" stroke-width="0.2">10<tspan dy="-1.4" font-size="2.8">2</tspan></text>
<text x="381.8" y="740.1" text-anchor="middle" font-size="4" fill="#222" stroke="#222" stroke-width="0.2">10<tspan dy="-1.4" font-size="2.8">3</tspan></text>
<text x="405.8" y="740.1" text-anchor="middle" font-size="4" fill="#222" stroke="#222" stroke-width="0.2">10<tspan dy="-1.4" font-size="2.8">4</tspan></text>
<text x="414.2" y="670.4" font-size="11.1" fill="#111" stroke="#111" stroke-width="0.5">HLA-B12</text>
<line x1="411.8" y1="736.0" x2="512.8" y2="736.0" stroke="#222" stroke-width="0.9" stroke-dasharray="2.2,0.8"/>
<path d="M415.7,721.6L416.7,715.9L417.7,718.1L418.7,711.9L419.7,707.2L420.7,702.8L421.7,699.1L422.7,695.4L423.7,691.8L424.7,688.0L425.7,684.8L426.7,683.2L427.7,682.1L428.7,680.2L429.7,686.5L430.7,690.8L431.7,693.9L432.7,695.6L433.7,701.4L434.7,708.2L435.7,714.3L436.7,719.4L437.7,725.0L438.7,728.7L439.7,731.2L440.7,732.0L441.7,732.8L442.7,732.9L443.7,733.4L444.7,733.6L445.7,734.0L446.7,734.2L447.7,734.3L448.7,734.5L449.7,734.6L450.7,734.7L451.7,735.0L452.7,734.9L453.7,735.0L454.7,735.0L455.7,735.0L456.7,735.0L457.7,735.0L458.7,735.0L459.7,735.0L460.7,735.0L461.7,735.0L462.7,735.0L463.7,735.0L464.7,735.1L465.7,735.1L466.7,735.1L467.7,735.1L468.7,735.1L469.7,735.1L470.7,735.1L471.7,735.1L472.7,735.1L473.7,735.1L474.7,735.1L475.7,735.2L476.7,735.1L477.7,735.1L478.7,735.1L479.7,735.1L480.7,735.2L481.7,735.2L482.7,735.2L483.7,735.2L484.7,735.2L485.7,735.2L486.7,735.2L487.7,735.2L488.7,735.2L489.7,735.2L490.7,735.2L491.7,735.2L492.7,735.2L493.7,735.2L494.7,735.3L495.7,735.2L496.7,735.2L497.7,735.3L498.7,735.3L499.7,735.3L500.7,735.3L501.7,735.3L502.7,735.3L503.7,735.3L504.7,735.3L505.7,735.3L506.7,735.3L507.7,735.3L508.7,735.3L509.7,735.3L510.7,735.3L511.7,735.4L512.7,735.4L513.7,735.4L514.7,735.4" fill="none" stroke="#555" stroke-width="1.05" stroke-dasharray="2,0.8"/>
<path d="M429.4,736.0L429.4,735.4L429.8,735.3L430.3,735.3L430.7,735.2L431.2,735.1L431.6,735.2L432.1,735.5L432.5,735.5L433.0,735.0L433.4,734.5L433.9,734.6L434.3,734.6L434.8,735.1L435.2,735.0L435.7,734.6L436.1,734.6L436.6,734.6L437.0,734.7L437.5,734.4L437.9,734.8L438.4,734.6L438.8,734.5L439.3,734.8L439.7,734.3L440.2,734.7L440.6,734.1L441.1,733.4L441.5,734.7L442.0,733.8L442.4,734.3L442.9,734.1L443.3,734.5L443.8,734.6L444.2,733.5L444.7,734.2L445.1,734.1L445.6,734.1L446.0,733.5L446.5,733.8L446.9,734.0L447.4,733.6L447.8,733.3L448.3,733.6L448.7,733.4L449.2,733.7L449.6,733.4L450.1,732.7L450.5,733.1L451.0,732.8L451.4,732.2L451.9,732.4L452.3,732.1L452.8,731.9L453.2,731.6L453.7,732.0L454.1,731.3L454.6,730.2L455.0,731.0L455.5,730.2L455.9,729.6L456.4,727.9L456.8,727.7L457.3,725.3L457.7,724.1L458.2,723.3L458.6,720.5L459.1,716.9L459.5,713.7L460.0,710.2L460.4,709.3L460.9,703.8L461.3,704.1L461.8,697.4L462.2,696.2L462.7,694.7L463.1,689.4L463.6,687.2L464.0,686.1L464.5,683.1L464.9,683.3L465.4,677.8L465.8,682.2L466.3,680.8L466.7,683.5L467.2,688.2L467.6,687.0L468.1,688.1L468.5,691.1L469.0,696.2L469.4,696.0L469.9,700.1L470.3,703.2L470.8,707.8L471.2,710.4L471.7,714.3L472.1,715.8L472.6,716.3L473.0,719.1L473.5,720.6L473.9,720.7L474.4,721.7L474.8,722.4L475.3,720.9L475.7,722.0L476.2,722.2L476.6,722.7L477.1,721.8L477.5,720.9L478.0,719.5L478.4,719.7L478.9,717.5L479.3,717.9L479.8,717.4L480.2,717.2L480.7,718.0L481.1,717.2L481.6,719.4L482.0,718.5L482.5,718.6L482.9,718.5L483.4,719.7L483.8,721.0L484.3,722.7L484.7,724.2L485.2,726.6L485.6,726.3L486.1,728.7L486.5,730.3L487.0,730.7L487.4,731.0L487.9,732.6L488.3,733.3L488.8,733.8L489.2,733.7L489.7,733.4L490.1,734.3L490.6,734.8L491.0,734.9L491.5,734.7L491.9,735.3L492.4,734.7L492.8,735.6L493.3,735.3L493.6,736.0Z" fill="#000"/>
<line x1="415.8" y1="678.6" x2="415.8" y2="736.0" stroke="#666" stroke-width="1"/>
<line x1="411.3" y1="736.0" x2="415.8" y2="736.0" stroke="#222" stroke-width="1"/>
<text x="416.6" y="740.1" text-anchor="middle" font-size="4" fill="#222" stroke="#222" stroke-width="0.2">10<tspan dy="-1.4" font-size="2.8">0</tspan></text>
<text x="440.7" y="740.1" text-anchor="middle" font-size="4" fill="#222" stroke="#222" stroke-width="0.2">10<tspan dy="-1.4" font-size="2.8">1</tspan></text>
<text x="464.7" y="740.1" text-anchor="middle" font-size="4" fill="#222" stroke="#222" stroke-width="0.2">10<tspan dy="-1.4" font-size="2.8">2</tspan></text>
<text x="488.8" y="740.1" text-anchor="middle" font-size="4" fill="#222" stroke="#222" stroke-width="0.2">10<tspan dy="-1.4" font-size="2.8">3</tspan></text>
<text x="512.8" y="740.1" text-anchor="middle" font-size="4" fill="#222" stroke="#222" stroke-width="0.2">10<tspan dy="-1.4" font-size="2.8">4</tspan></text>
</svg></body></html>
